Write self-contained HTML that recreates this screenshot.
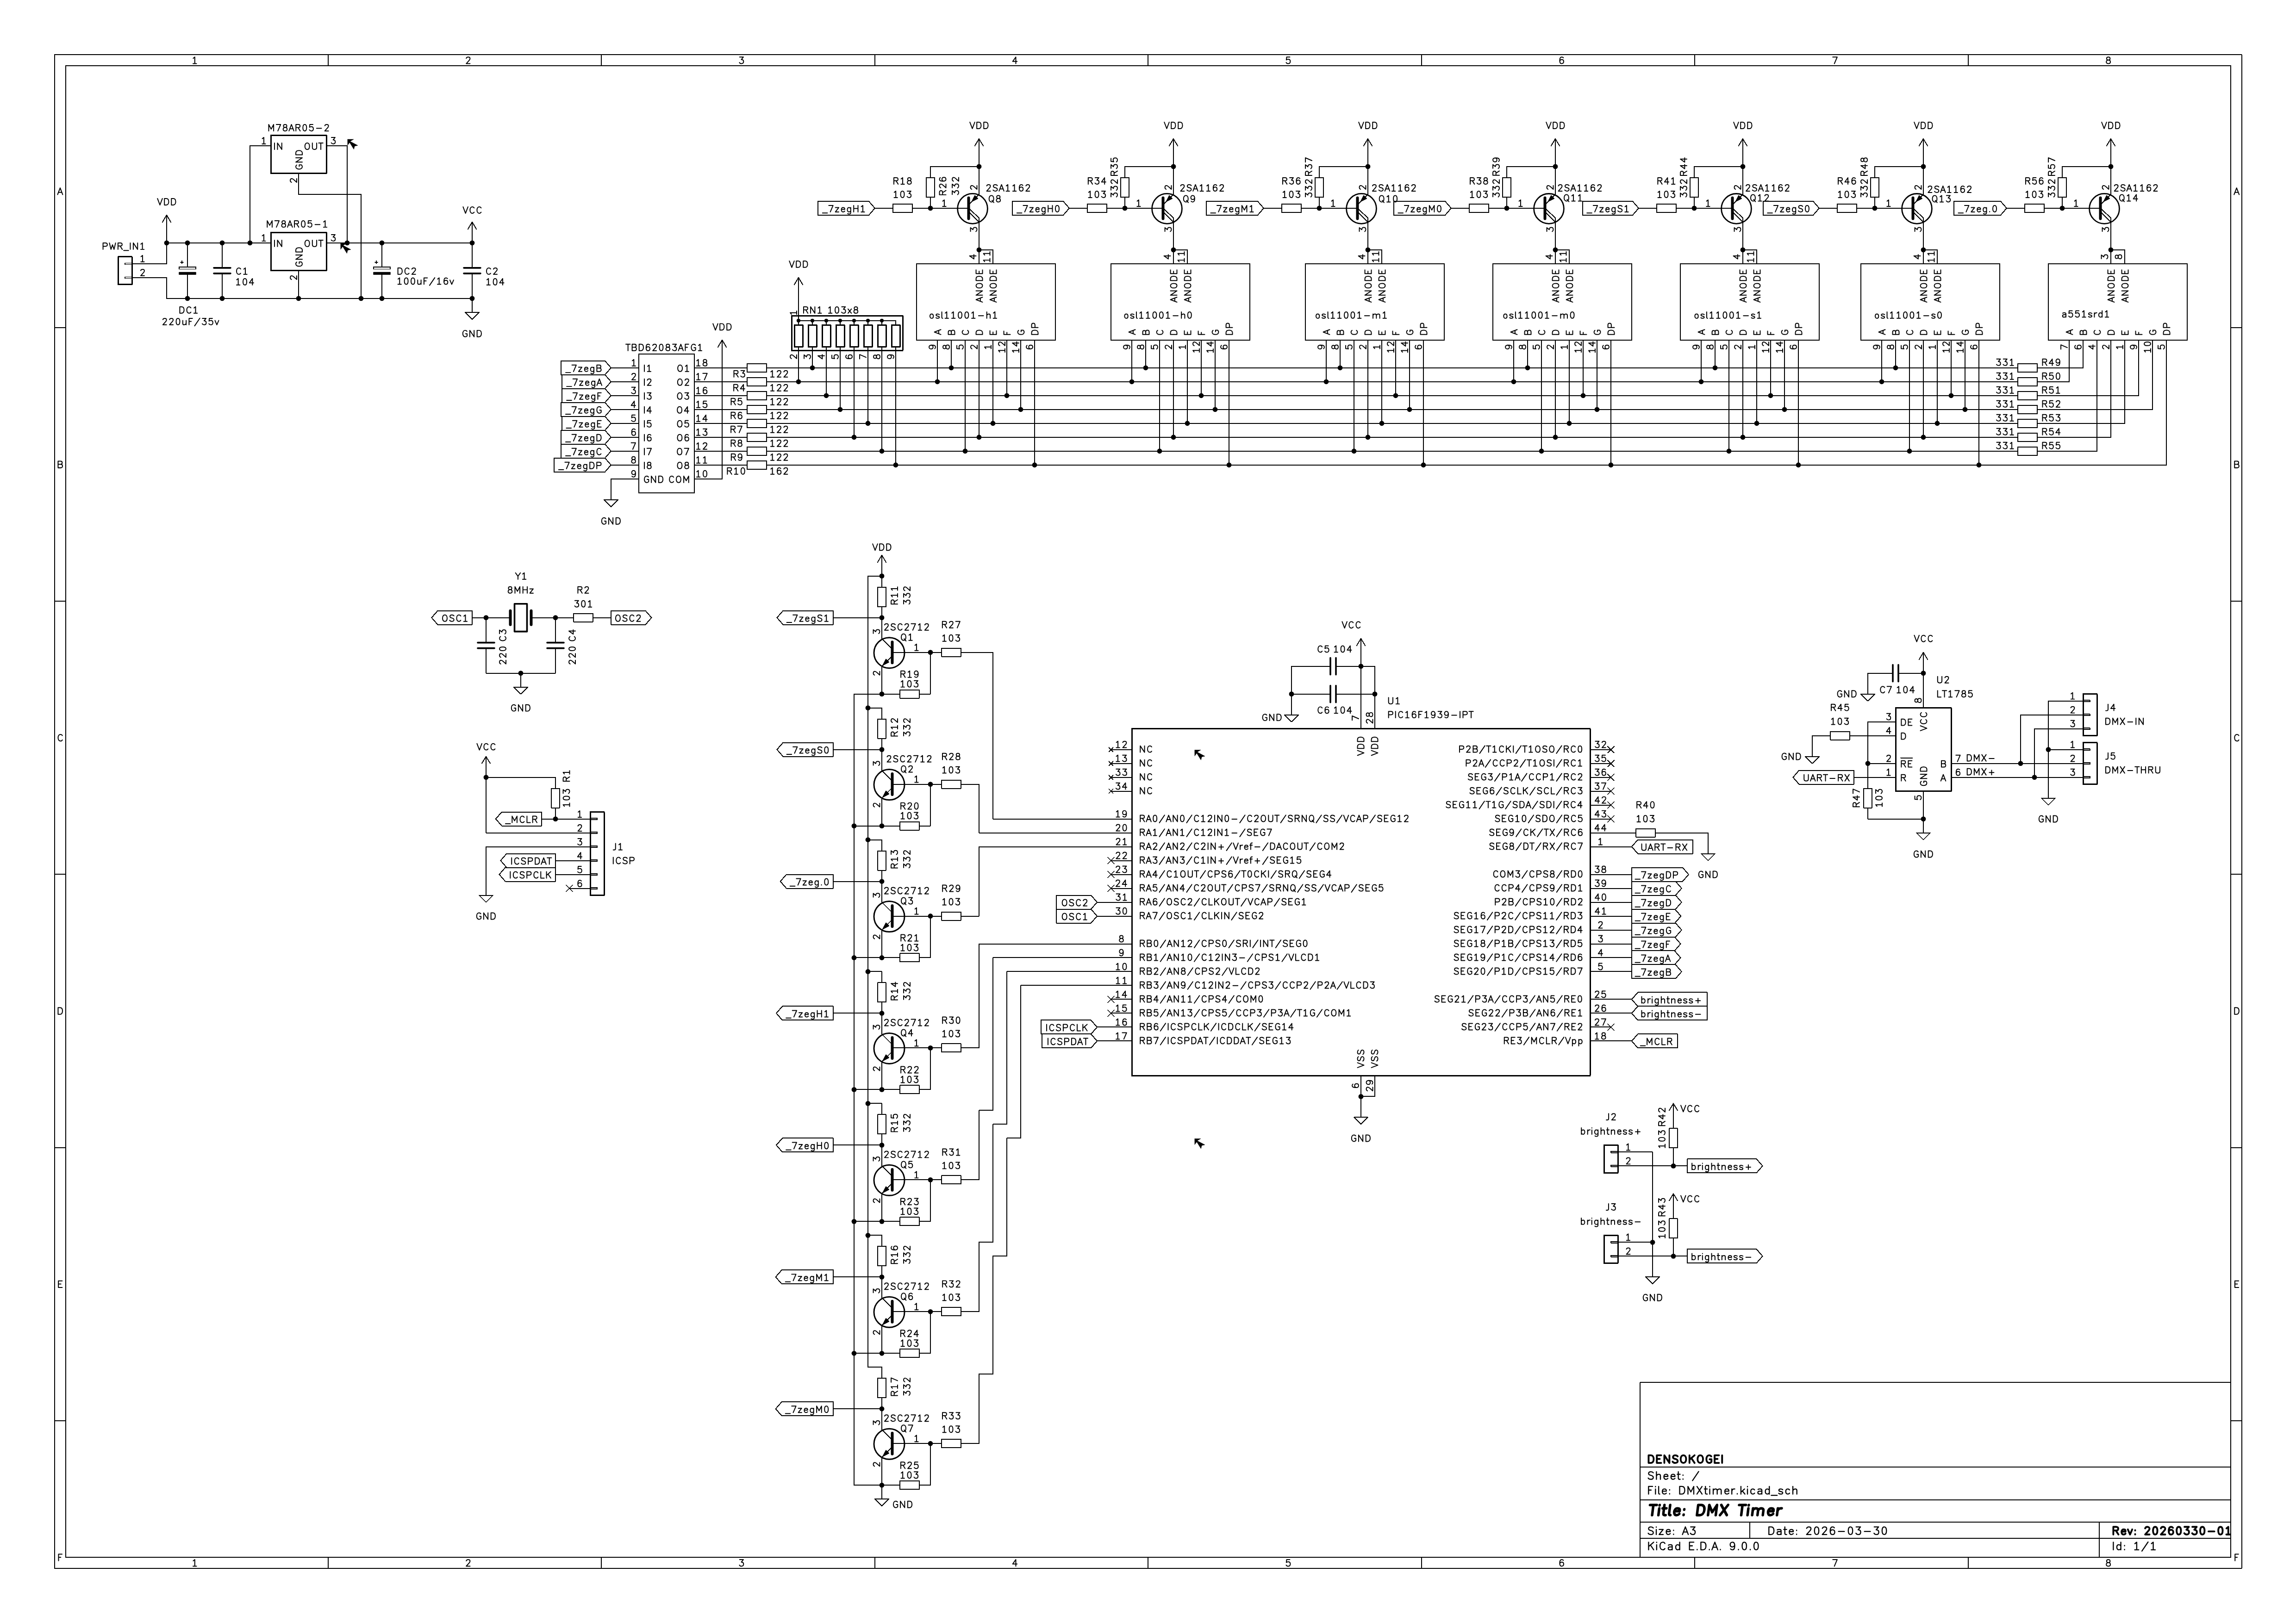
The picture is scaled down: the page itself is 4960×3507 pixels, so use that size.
<!DOCTYPE html><html><head><meta charset="utf-8"><title>DMX Timer</title><style>html,body{margin:0;padding:0;background:#fff}svg{display:block}</style></head><body>
<svg width="4960" height="3507" viewBox="0 0 4960 3507" shape-rendering="crispEdges">
<defs><path id="g41" d="M1.62 0L9.1 -19.64L16.58 0M4.42 -6.54L13.77 -6.54"/><path id="g42" d="M4.54 0L4.54 -19.64L12.02 -19.64C15.1 -19.64 16.69 -18.05 16.69 -15.15C16.69 -12.16 15.1 -10.47 12.02 -10.47L4.54 -10.47M12.02 -10.47C15.76 -10.47 17.63 -8.6 17.63 -5.24C17.63 -1.87 15.76 0 12.02 0L4.54 0"/><path id="g43" d="M17.16 -3.27C15.94 -1.12 14.17 0 12.02 0C7.34 0 4.54 -3.74 4.54 -9.82C4.54 -15.9 7.34 -19.64 12.02 -19.64C14.17 -19.64 15.94 -18.51 17.16 -16.36"/><path id="g44" d="M4.54 0L4.54 -19.64L10.15 -19.64C14.82 -19.64 17.63 -15.9 17.63 -9.82C17.63 -3.74 14.82 0 10.15 0Z"/><path id="g45" d="M15.68 0L4.46 0L4.46 -19.64L15.68 -19.64M4.46 -10.29L11.94 -10.29"/><path id="g46" d="M4.42 0L4.42 -19.64L14.71 -19.64M4.42 -10.29L10.97 -10.29"/><path id="g47" d="M17.16 -16.83C15.76 -18.7 14.17 -19.64 12.02 -19.64C7.34 -19.64 4.54 -15.9 4.54 -9.82C4.54 -3.74 7.34 0 12.02 0C14.36 0 16.23 -0.94 17.63 -2.81L17.63 -9.35L12.95 -9.35"/><path id="g48" d="M4.58 0L4.58 -19.64M17.67 0L17.67 -19.64M4.58 -10.29L17.67 -10.29"/><path id="g49" d="M4.55 0L4.55 -19.64"/><path id="g4a" d="M11.36 -19.64L11.36 -4.21C11.36 -1.4 9.96 0 7.62 0L4.35 0"/><path id="g4b" d="M4.54 0L4.54 -19.64M17.63 -19.64L4.54 -8.42M9.21 -12.44L17.63 0"/><path id="g4c" d="M4.39 -19.64L4.39 0L14.67 0"/><path id="g4d" d="M4.65 0L4.65 -19.64L12.13 -5.61L19.61 -19.64L19.61 0"/><path id="g4e" d="M4.58 0L4.58 -19.64L17.67 0L17.67 -19.64"/><path id="g4f" d="M11.12 -19.64C6.91 -19.64 4.11 -15.9 4.11 -9.82C4.11 -3.74 6.91 0 11.12 0C15.33 0 18.13 -3.74 18.13 -9.82C18.13 -15.9 15.33 -19.64 11.12 -19.64Z"/><path id="g50" d="M4.54 0L4.54 -19.64L12.02 -19.64C15.76 -19.64 17.63 -17.77 17.63 -14.49C17.63 -11.22 15.76 -9.35 12.02 -9.35L4.54 -9.35"/><path id="g51" d="M11.12 -19.64C6.91 -19.64 4.11 -15.9 4.11 -9.82C4.11 -3.74 6.91 0 11.12 0C15.33 0 18.13 -3.74 18.13 -9.82C18.13 -15.9 15.33 -19.64 11.12 -19.64ZM12.99 -4.68L18.6 1.87"/><path id="g52" d="M4.54 0L4.54 -19.64L12.02 -19.64C15.76 -19.64 17.16 -17.77 17.16 -14.96C17.16 -12.16 15.76 -10.29 12.02 -10.29L4.54 -10.29M11.08 -10.29L17.63 0"/><path id="g53" d="M16.66 -16.83C15.25 -18.7 13.38 -19.64 10.58 -19.64C6.84 -19.64 4.5 -17.77 4.5 -14.96C4.5 -12.16 6.37 -11.03 10.11 -10.29C14.32 -9.35 16.66 -7.95 16.66 -4.68C16.66 -1.87 14.32 0 10.58 0C7.3 0 4.97 -1.12 3.56 -3.27"/><path id="g54" d="M8.09 0L8.09 -19.64M1.54 -19.64L14.63 -19.64"/><path id="g55" d="M4.58 -19.64L4.58 -6.08C4.58 -1.87 6.91 0 11.12 0C15.33 0 17.67 -1.87 17.67 -6.08L17.67 -19.64"/><path id="g56" d="M1.62 -19.64L9.1 0L16.58 -19.64"/><path id="g57" d="M2.78 -19.64L7.46 0L12.13 -14.03L16.81 0L21.48 -19.64"/><path id="g58" d="M3.56 -19.64L16.66 0M16.66 -19.64L3.56 0"/><path id="g59" d="M1.62 -19.64L9.1 -9.35L16.58 -19.64M9.1 -9.35L9.1 0"/><path id="g5a" d="M3.56 -19.64L16.66 -19.64L3.56 0L16.66 0"/><path id="g30" d="M10.11 -19.64C6.37 -19.64 4.5 -15.9 4.5 -9.82C4.5 -3.74 6.37 0 10.11 0C13.85 0 15.72 -3.74 15.72 -9.82C15.72 -15.9 13.85 -19.64 10.11 -19.64Z"/><path id="g31" d="M5.43 -15.9L10.11 -19.64L10.11 0M4.97 0L15.25 0"/><path id="g32" d="M4.5 -15.9C5.43 -18.23 7.3 -19.64 10.11 -19.64C13.38 -19.64 15.72 -17.77 15.72 -14.96C15.72 -12.62 14.32 -10.75 11.98 -8.42L4.5 0L15.72 0"/><path id="g33" d="M4.5 -19.64L15.72 -19.64L9.64 -12.16C13.85 -12.16 16.19 -9.82 16.19 -6.08C16.19 -2.34 13.85 0 10.11 0C7.3 0 5.43 -0.94 4.03 -3.27"/><path id="g34" d="M12.91 0L12.91 -19.64L3.56 -6.54L16.66 -6.54"/><path id="g35" d="M14.79 -19.64L5.43 -19.64L4.5 -11.22C5.9 -12.44 7.77 -13.09 10.11 -13.09C13.85 -13.09 16.19 -10.75 16.19 -6.54C16.19 -2.34 13.85 0 10.11 0C7.3 0 5.43 -0.94 4.03 -3.27"/><path id="g36" d="M15.25 -17.3C14.32 -18.7 12.91 -19.64 10.58 -19.64C6.37 -19.64 4.5 -15.43 4.5 -9.35C4.5 -3.27 6.37 0 10.11 0C13.85 0 16.19 -2.34 16.19 -6.08C16.19 -9.82 13.85 -12.16 10.58 -12.16C7.3 -12.16 4.97 -9.82 4.5 -6.54"/><path id="g37" d="M3.56 -19.64L16.66 -19.64L8.24 0"/><path id="g38" d="M10.11 -19.64C6.84 -19.64 4.97 -17.77 4.97 -14.96C4.97 -12.62 6.84 -10.75 10.11 -10.75C13.38 -10.75 15.25 -12.62 15.25 -14.96C15.25 -17.77 13.38 -19.64 10.11 -19.64ZM10.11 -10.75C6.37 -10.75 4.03 -8.42 4.03 -5.14C4.03 -1.87 6.37 0 10.11 0C13.85 0 16.19 -1.87 16.19 -5.14C16.19 -8.42 13.85 -10.75 10.11 -10.75Z"/><path id="g39" d="M4.97 -2.34C5.9 -0.94 7.3 0 9.64 0C13.85 0 15.72 -4.21 15.72 -10.29C15.72 -16.36 13.85 -19.64 10.11 -19.64C6.37 -19.64 4.03 -17.3 4.03 -13.56C4.03 -9.82 6.37 -7.48 9.64 -7.48C12.91 -7.48 15.25 -9.82 15.72 -13.09"/><path id="g61" d="M14.75 0L14.75 -9.35C14.75 -11.87 13.34 -13.09 11.01 -13.09L8.67 -13.09C7.08 -13.09 5.86 -12.72 4.93 -11.97M14.75 -7.48L8.67 -7.48C5.86 -7.48 4.46 -6.08 4.46 -3.74C4.46 -1.4 5.86 0 8.67 0L10.54 0C12.41 0 13.81 -0.94 14.75 -2.34"/><path id="g62" d="M4.46 -19.64L4.46 0M4.46 -10.29C5.86 -12.16 7.73 -13.09 9.6 -13.09C12.88 -13.09 14.75 -10.29 14.75 -6.54C14.75 -2.81 12.88 0 9.6 0C7.73 0 5.86 -0.94 4.46 -2.81"/><path id="g63" d="M14.24 -10.75C13.03 -12.34 11.44 -13.09 9.57 -13.09C6.29 -13.09 4.42 -10.29 4.42 -6.54C4.42 -2.81 6.29 0 9.57 0C11.44 0 13.03 -0.75 14.24 -2.34"/><path id="g64" d="M14.75 -19.64L14.75 0M14.75 -10.29C13.34 -12.16 11.47 -13.09 9.6 -13.09C6.33 -13.09 4.46 -10.29 4.46 -6.54C4.46 -2.81 6.33 0 9.6 0C11.47 0 13.34 -0.94 14.75 -2.81"/><path id="g65" d="M4.42 -7.48L14.71 -7.48L14.71 -8.88C14.71 -11.69 12.84 -13.09 9.57 -13.09C6.29 -13.09 4.42 -10.29 4.42 -6.54C4.42 -2.81 6.29 0 9.57 0C11.72 0 13.31 -0.75 14.71 -2.34"/><path id="g66" d="M9.81 -19.64L8.4 -19.64C6.07 -19.64 5.13 -18.23 5.13 -15.9L5.13 0M2.33 -13.09L9.81 -13.09"/><path id="g67" d="M14.75 -13.09L14.75 1.87C14.75 5.14 12.88 6.54 9.6 6.54C7.73 6.54 6.33 6.08 5.4 5.14M14.75 -10.29C13.34 -12.16 11.47 -13.09 9.6 -13.09C6.33 -13.09 4.46 -10.29 4.46 -6.54C4.46 -2.81 6.33 0 9.6 0C11.47 0 13.34 -0.94 14.75 -2.81"/><path id="g68" d="M4.46 -19.64L4.46 0M4.46 -9.35C6.33 -12.16 8.2 -13.09 10.54 -13.09C13.34 -13.09 14.75 -11.69 14.75 -9.35L14.75 0"/><path id="g69" d="M4.04 -13.09L4.04 0M4.04 -18.7L4.04 -19.64"/><path id="g6b" d="M4.39 -19.64L4.39 0M13.74 -13.09L4.39 -4.68M8.13 -8.04L14.67 0"/><path id="g6c" d="M4.08 -19.64L4.08 -2.81C4.08 -0.94 5.02 0 6.89 0"/><path id="g6d" d="M4.88 -13.09L4.88 0M4.88 -9.35C6.75 -12.16 8.62 -13.09 10.49 -13.09C13.29 -13.09 15.16 -11.69 15.16 -9.35L15.16 0M15.16 -9.35C17.04 -12.16 18.91 -13.09 20.77 -13.09C23.58 -13.09 25.45 -11.69 25.45 -9.35L25.45 0"/><path id="g6e" d="M4.46 -13.09L4.46 0M4.46 -9.35C6.33 -12.16 8.2 -13.09 10.54 -13.09C13.34 -13.09 14.75 -11.69 14.75 -9.35L14.75 0"/><path id="g6f" d="M9.6 -13.09C6.33 -13.09 4.46 -10.29 4.46 -6.54C4.46 -2.81 6.33 0 9.6 0C12.88 0 14.75 -2.81 14.75 -6.54C14.75 -10.29 12.88 -13.09 9.6 -13.09Z"/><path id="g70" d="M4.46 -13.09L4.46 6.54M4.46 -10.29C5.86 -12.16 7.73 -13.09 9.6 -13.09C12.88 -13.09 14.75 -10.29 14.75 -6.54C14.75 -2.81 12.88 0 9.6 0C7.73 0 5.86 -0.94 4.46 -2.81"/><path id="g72" d="M4.23 -13.09L4.23 0M4.23 -7.48C5.17 -11.22 7.04 -13.09 9.84 -13.09L11.71 -13.09"/><path id="g73" d="M13.74 -11.22C12.33 -12.44 10.93 -13.09 8.59 -13.09C5.79 -13.09 3.92 -11.97 3.92 -9.82C3.92 -7.95 5.32 -7.2 8.13 -6.73C11.87 -6.08 13.74 -5.42 13.74 -3.27C13.74 -1.12 11.87 0 8.59 0C6.26 0 4.85 -0.65 3.45 -1.87"/><path id="g74" d="M5.13 -19.64L5.13 -3.27C5.13 -0.94 6.07 0 7.94 0L9.81 0M2.33 -13.09L9.81 -13.09"/><path id="g75" d="M4.46 -13.09L4.46 -3.74C4.46 -1.4 5.86 0 8.67 0C11.01 0 12.88 -0.94 14.75 -3.74M14.75 -13.09L14.75 0"/><path id="g76" d="M2.48 -13.09L8.09 0L13.7 -13.09"/><path id="g78" d="M3.45 -13.09L13.74 0M13.74 -13.09L3.45 0"/><path id="g7a" d="M3.45 -13.09L13.74 -13.09L3.45 0L13.74 0"/><path id="g2d" d="M5.66 -7.95L20.62 -7.95"/><path id="g2b" d="M6.13 -7.48L20.16 -7.48M13.14 -0.47L13.14 -14.49"/><path id="g2f" d="M3.17 3.27L19.07 -20.1"/><path id="g2e" d="M5.05 -0.19L5.05 -1.12"/><path id="g3a" d="M5.05 -0.19L5.05 -1.12M5.05 -10.29L5.05 -11.22"/><path id="g5f" d="M0.61 3.27L15.57 3.27"/></defs>
<rect width="4960" height="3507" fill="#fff"/>
<g>
<g stroke="#000" stroke-linejoin="round">
<path d="M118.11 118.08L4842.52 118.08L4842.52 3388.93L118.11 3388.93ZM141.73 141.7L4818.9 141.7L4818.9 3365.31L141.73 3365.31ZM708.66 118.08L708.66 141.7M708.66 3365.31L708.66 3388.93M1299.21 118.08L1299.21 141.7M1299.21 3365.31L1299.21 3388.93M1889.76 118.08L1889.76 141.7M1889.76 3365.31L1889.76 3388.93M2480.31 118.08L2480.31 141.7M2480.31 3365.31L2480.31 3388.93M3070.87 118.08L3070.87 141.7M3070.87 3365.31L3070.87 3388.93M3661.42 118.08L3661.42 141.7M3661.42 3365.31L3661.42 3388.93M4251.97 118.08L4251.97 141.7M4251.97 3365.31L4251.97 3388.93M118.11 708.49L141.73 708.49M4818.9 708.49L4842.52 708.49M118.11 1298.89L141.73 1298.89M4818.9 1298.89L4842.52 1298.89M118.11 1889.3L141.73 1889.3M4818.9 1889.3L4842.52 1889.3M118.11 2479.7L141.73 2479.7M4818.9 2479.7L4842.52 2479.7M118.11 3070.11L141.73 3070.11M4818.9 3070.11L4842.52 3070.11M4818.9 2987.45L3543.31 2987.45L3543.31 3365.31M3543.31 3170.48L4818.9 3170.48M3543.31 3241.33L4818.9 3241.33M3543.31 3288.56L4818.9 3288.56M3543.31 3323.99L4818.9 3323.99M3779.53 3288.56L3779.53 3323.99M4535.43 3288.56L4535.43 3365.31M285 569.86L330 569.86M285 599.85L330 599.85M330 569.86L360 569.86L360 524.87M330 599.85L360 599.85L360 644.84L1020 644.84M360 524.87L585 524.87M705 524.87L1020 524.87M360 524.87L360 464.89M351 479.88L360 464.89L369 479.88M1020 524.87L1020 479.88M1011 494.88L1020 479.88L1029 494.88M1020 644.84L1020 674.83M1005 674.83L1035 674.83L1020 689.83ZM405 554.86L405 576.76M405 592.95L405 614.85M405 524.87L405 554.86M405 614.85L405 644.84M480 554.86L480 578.86M480 590.85L480 614.85M480 524.87L480 554.86M480 614.85L480 644.84M825 554.86L825 576.76M825 592.95L825 614.85M825 524.87L825 554.86M825 614.85L825 644.84M1020 554.86L1020 578.86M1020 590.85L1020 614.85M1020 524.87L1020 554.86M1020 614.85L1020 644.84M540 524.87L540 314.92L585 314.92M705 314.92L750 314.92L750 524.87M645 374.91L645 419.9L780 419.9L780 644.84M645 584.86L645 644.84M1380 764.81L1500 764.81L1500 1064.74L1380 1064.74ZM1320 794.8L1306.9 779.81L1212.24 779.81L1212.24 809.8L1306.9 809.8ZM1320 794.8L1380 794.8M1500 794.8L1605 794.8M1614 785.81L1656 785.81L1656 803.8L1614 803.8ZM1605 794.8L1614 794.8M1656 794.8L1665 794.8M1320 824.8L1306.9 809.8L1214.4 809.8L1214.4 839.79L1306.9 839.79ZM1320 824.8L1380 824.8M1500 824.8L1605 824.8M1614 815.8L1656 815.8L1656 833.79L1614 833.79ZM1605 824.8L1614 824.8M1656 824.8L1665 824.8M1320 854.79L1306.9 839.79L1214.4 839.79L1214.4 869.79L1306.9 869.79ZM1320 854.79L1380 854.79M1500 854.79L1605 854.79M1614 845.79L1656 845.79L1656 863.79L1614 863.79ZM1605 854.79L1614 854.79M1656 854.79L1665 854.79M1320 884.78L1306.9 869.79L1212.24 869.79L1212.24 899.78L1306.9 899.78ZM1320 884.78L1380 884.78M1500 884.78L1605 884.78M1614 875.78L1656 875.78L1656 893.78L1614 893.78ZM1605 884.78L1614 884.78M1656 884.78L1665 884.78M1320 914.77L1306.9 899.78L1213.68 899.78L1213.68 929.77L1306.9 929.77ZM1320 914.77L1380 914.77M1500 914.77L1605 914.77M1614 905.78L1656 905.78L1656 923.77L1614 923.77ZM1605 914.77L1614 914.77M1656 914.77L1665 914.77M1320 944.77L1306.9 929.77L1212.24 929.77L1212.24 959.76L1306.9 959.76ZM1320 944.77L1380 944.77M1500 944.77L1605 944.77M1614 935.77L1656 935.77L1656 953.77L1614 953.77ZM1605 944.77L1614 944.77M1656 944.77L1665 944.77M1320 974.76L1306.9 959.76L1212.24 959.76L1212.24 989.76L1306.9 989.76ZM1320 974.76L1380 974.76M1500 974.76L1605 974.76M1614 965.76L1656 965.76L1656 983.76L1614 983.76ZM1605 974.76L1614 974.76M1656 974.76L1665 974.76M1320 1004.75L1306.9 989.76L1197.07 989.76L1197.07 1019.75L1306.9 1019.75ZM1320 1004.75L1380 1004.75M1500 1004.75L1605 1004.75M1614 995.75L1656 995.75L1656 1013.75L1614 1013.75ZM1605 1004.75L1614 1004.75M1656 1004.75L1665 1004.75M1380 1034.75L1320 1034.75L1320 1079.73M1320 1064.74L1320 1079.73M1305 1079.73L1335 1079.73L1320 1094.73ZM1500 1034.75L1560 1034.75L1560 764.81M1560 779.81L1560 734.82M1551 749.82L1560 734.82L1569 749.82M1725 749.82L1725 824.8M1755 749.82L1755 794.8M1785 749.82L1785 854.79M1815 749.82L1815 884.78M1845 749.82L1845 944.77M1875 749.82L1875 914.77M1905 749.82L1905 974.76M1935 749.82L1935 1004.75M1725 692.83L1725 599.85M1716 614.85L1725 599.85L1734 614.85M1665 794.8L4350 794.8M1665 824.8L4350 824.8M1665 854.79L4350 854.79M1665 884.78L4350 884.78M1665 914.77L4350 914.77M1665 944.77L4350 944.77M1665 974.76L4350 974.76M1665 1004.75L4680 1004.75M2115 389.9L2115 299.93M2106 314.92L2115 299.93L2124 314.92M2115 359.91L2010 359.91L2010 374.91M2001 383.91L2019 383.91L2019 425.9L2001 425.9ZM2010 374.91L2010 383.91M2010 425.9L2010 434.89M2010 434.89L2010 449.89M1890 449.89L1876.9 434.89L1767.07 434.89L1767.07 464.89L1876.9 464.89ZM1890 449.89L1920 449.89M1929 440.89L1971 440.89L1971 458.89L1929 458.89ZM1920 449.89L1929 449.89M1971 449.89L1980 449.89M1980 449.89L2025 449.89M2025 449.89L2092.5 449.89M2092.5 442.39L2115 419.9L2115 389.9M2092.5 449.89L2115 470.88L2115 479.88L2092.5 457.39M2115 479.88L2115 509.87M2115 509.87L2115 569.86M2115 539.87L2145 539.87L2145 569.86M1980 569.86L2280 569.86L2280 734.82L1980 734.82ZM2025 734.82L2025 824.8M2055 734.82L2055 794.8M2085 734.82L2085 974.76M2115 734.82L2115 944.77M2145 734.82L2145 914.77M2175 734.82L2175 854.79M2205 734.82L2205 884.78M2235 734.82L2235 1004.75M2535 389.9L2535 299.93M2526 314.92L2535 299.93L2544 314.92M2535 359.91L2430 359.91L2430 374.91M2421 383.91L2439 383.91L2439 425.9L2421 425.9ZM2430 374.91L2430 383.91M2430 425.9L2430 434.89M2430 434.89L2430 449.89M2310 449.89L2296.9 434.89L2187.07 434.89L2187.07 464.89L2296.9 464.89ZM2310 449.89L2340 449.89M2349 440.89L2391 440.89L2391 458.89L2349 458.89ZM2340 449.89L2349 449.89M2391 449.89L2400 449.89M2400 449.89L2445 449.89M2445 449.89L2512.5 449.89M2512.5 442.39L2535 419.9L2535 389.9M2512.5 449.89L2535 470.88L2535 479.88L2512.5 457.39M2535 479.88L2535 509.87M2535 509.87L2535 569.86M2535 539.87L2565 539.87L2565 569.86M2400 569.86L2700 569.86L2700 734.82L2400 734.82ZM2445 734.82L2445 824.8M2475 734.82L2475 794.8M2505 734.82L2505 974.76M2535 734.82L2535 944.77M2565 734.82L2565 914.77M2595 734.82L2595 854.79M2625 734.82L2625 884.78M2655 734.82L2655 1004.75M2955 389.9L2955 299.93M2946 314.92L2955 299.93L2964 314.92M2955 359.91L2850 359.91L2850 374.91M2841 383.91L2859 383.91L2859 425.9L2841 425.9ZM2850 374.91L2850 383.91M2850 425.9L2850 434.89M2850 434.89L2850 449.89M2730 449.89L2716.9 434.89L2605.63 434.89L2605.63 464.89L2716.9 464.89ZM2730 449.89L2760 449.89M2769 440.89L2811 440.89L2811 458.89L2769 458.89ZM2760 449.89L2769 449.89M2811 449.89L2820 449.89M2820 449.89L2865 449.89M2865 449.89L2932.5 449.89M2932.5 442.39L2955 419.9L2955 389.9M2932.5 449.89L2955 470.88L2955 479.88L2932.5 457.39M2955 479.88L2955 509.87M2955 509.87L2955 569.86M2955 539.87L2985 539.87L2985 569.86M2820 569.86L3120 569.86L3120 734.82L2820 734.82ZM2865 734.82L2865 824.8M2895 734.82L2895 794.8M2925 734.82L2925 974.76M2955 734.82L2955 944.77M2985 734.82L2985 914.77M3015 734.82L3015 854.79M3045 734.82L3045 884.78M3075 734.82L3075 1004.75M3360 389.9L3360 299.93M3351 314.92L3360 299.93L3369 314.92M3360 359.91L3255 359.91L3255 374.91M3246 383.91L3264 383.91L3264 425.9L3246 425.9ZM3255 374.91L3255 383.91M3255 425.9L3255 434.89M3255 434.89L3255 449.89M3135 449.89L3121.9 434.89L3010.63 434.89L3010.63 464.89L3121.9 464.89ZM3135 449.89L3165 449.89M3174 440.89L3216 440.89L3216 458.89L3174 458.89ZM3165 449.89L3174 449.89M3216 449.89L3225 449.89M3225 449.89L3270 449.89M3270 449.89L3337.5 449.89M3337.5 442.39L3360 419.9L3360 389.9M3337.5 449.89L3360 470.88L3360 479.88L3337.5 457.39M3360 479.88L3360 509.87M3360 509.87L3360 569.86M3360 539.87L3390 539.87L3390 569.86M3225 569.86L3525 569.86L3525 734.82L3225 734.82ZM3270 734.82L3270 824.8M3300 734.82L3300 794.8M3330 734.82L3330 974.76M3360 734.82L3360 944.77M3390 734.82L3390 914.77M3420 734.82L3420 854.79M3450 734.82L3450 884.78M3480 734.82L3480 1004.75M3765 389.9L3765 299.93M3756 314.92L3765 299.93L3774 314.92M3765 359.91L3660 359.91L3660 374.91M3651 383.91L3669 383.91L3669 425.9L3651 425.9ZM3660 374.91L3660 383.91M3660 425.9L3660 434.89M3660 434.89L3660 449.89M3540 449.89L3526.9 434.89L3418.51 434.89L3418.51 464.89L3526.9 464.89ZM3540 449.89L3570 449.89M3579 440.89L3621 440.89L3621 458.89L3579 458.89ZM3570 449.89L3579 449.89M3621 449.89L3630 449.89M3630 449.89L3675 449.89M3675 449.89L3742.5 449.89M3742.5 442.39L3765 419.9L3765 389.9M3742.5 449.89L3765 470.88L3765 479.88L3742.5 457.39M3765 479.88L3765 509.87M3765 509.87L3765 569.86M3765 539.87L3795 539.87L3795 569.86M3630 569.86L3930 569.86L3930 734.82L3630 734.82ZM3675 734.82L3675 824.8M3705 734.82L3705 794.8M3735 734.82L3735 974.76M3765 734.82L3765 944.77M3795 734.82L3795 914.77M3825 734.82L3825 854.79M3855 734.82L3855 884.78M3885 734.82L3885 1004.75M4155 389.9L4155 299.93M4146 314.92L4155 299.93L4164 314.92M4155 359.91L4050 359.91L4050 374.91M4041 383.91L4059 383.91L4059 425.9L4041 425.9ZM4050 374.91L4050 383.91M4050 425.9L4050 434.89M4050 434.89L4050 449.89M3930 449.89L3916.9 434.89L3808.51 434.89L3808.51 464.89L3916.9 464.89ZM3930 449.89L3960 449.89M3969 440.89L4011 440.89L4011 458.89L3969 458.89ZM3960 449.89L3969 449.89M4011 449.89L4020 449.89M4020 449.89L4065 449.89M4065 449.89L4132.5 449.89M4132.5 442.39L4155 419.9L4155 389.9M4132.5 449.89L4155 470.88L4155 479.88L4132.5 457.39M4155 479.88L4155 509.87M4155 509.87L4155 569.86M4155 539.87L4185 539.87L4185 569.86M4020 569.86L4320 569.86L4320 734.82L4020 734.82ZM4065 734.82L4065 824.8M4095 734.82L4095 794.8M4125 734.82L4125 974.76M4155 734.82L4155 944.77M4185 734.82L4185 914.77M4215 734.82L4215 854.79M4245 734.82L4245 884.78M4275 734.82L4275 1004.75M4560 389.9L4560 299.93M4551 314.92L4560 299.93L4569 314.92M4560 359.91L4455 359.91L4455 374.91M4446 383.91L4464 383.91L4464 425.9L4446 425.9ZM4455 374.91L4455 383.91M4455 425.9L4455 434.89M4455 434.89L4455 449.89M4335 449.89L4321.9 434.89L4220.74 434.89L4220.74 464.89L4321.9 464.89ZM4335 449.89L4365 449.89M4374 440.89L4416 440.89L4416 458.89L4374 458.89ZM4365 449.89L4374 449.89M4416 449.89L4425 449.89M4425 449.89L4470 449.89M4470 449.89L4537.5 449.89M4537.5 442.39L4560 419.9L4560 389.9M4537.5 449.89L4560 470.88L4560 479.88L4537.5 457.39M4560 479.88L4560 509.87M4560 509.87L4560 569.86M4560 539.87L4590 539.87L4590 569.86M4425 569.86L4725 569.86L4725 734.82L4425 734.82ZM4359 785.81L4401 785.81L4401 803.8L4359 803.8ZM4350 794.8L4359 794.8M4401 794.8L4410 794.8M4410 794.8L4500 794.8L4500 734.82M4359 815.8L4401 815.8L4401 833.79L4359 833.79ZM4350 824.8L4359 824.8M4401 824.8L4410 824.8M4410 824.8L4470 824.8L4470 734.82M4359 845.79L4401 845.79L4401 863.79L4359 863.79ZM4350 854.79L4359 854.79M4401 854.79L4410 854.79M4410 854.79L4620 854.79L4620 734.82M4359 875.78L4401 875.78L4401 893.78L4359 893.78ZM4350 884.78L4359 884.78M4401 884.78L4410 884.78M4410 884.78L4650 884.78L4650 734.82M4359 905.78L4401 905.78L4401 923.77L4359 923.77ZM4350 914.77L4359 914.77M4401 914.77L4410 914.77M4410 914.77L4590 914.77L4590 734.82M4359 935.77L4401 935.77L4401 953.77L4359 953.77ZM4350 944.77L4359 944.77M4401 944.77L4410 944.77M4410 944.77L4560 944.77L4560 734.82M4359 965.76L4401 965.76L4401 983.76L4359 983.76ZM4350 974.76L4359 974.76M4401 974.76L4410 974.76M4410 974.76L4530 974.76L4530 734.82M4680 1004.75L4680 734.82M1020 1319.68L945.56 1319.68L932.46 1334.67L945.56 1349.67L1020 1349.67ZM1020 1334.67L1102.5 1334.67M1147.5 1334.67L1230 1334.67M1239 1325.67L1281 1325.67L1281 1343.67L1239 1343.67ZM1230 1334.67L1239 1334.67M1281 1334.67L1290 1334.67M1290 1334.67L1320 1334.67M1320 1319.68L1394.44 1319.68L1407.54 1334.67L1394.44 1349.67L1320 1349.67ZM1050 1334.67L1050 1364.66M1050 1364.66L1050 1388.66M1050 1400.66L1050 1424.65M1050 1424.65L1050 1454.64M1200 1334.67L1200 1364.66M1200 1364.66L1200 1388.66M1200 1400.66L1200 1424.65M1200 1424.65L1200 1454.64M1050 1454.64L1200 1454.64M1125 1454.64L1125 1484.63M1110 1484.63L1140 1484.63L1125 1499.63ZM1050 1679.59L1050 1634.6M1041 1649.59L1050 1634.6L1059 1649.59M1050 1679.59L1200 1679.59L1200 1694.58M1191 1703.58L1209 1703.58L1209 1745.57L1191 1745.57ZM1200 1694.58L1200 1703.58M1200 1745.57L1200 1754.57M1200 1754.57L1200 1769.56M1170 1754.57L1084.01 1754.57L1070.91 1769.56L1084.01 1784.56L1170 1784.56ZM1170 1769.56L1275 1769.56M1050 1679.59L1050 1799.56L1275 1799.56M1275 1829.55L1050 1829.55L1050 1934.52M1050 1919.53L1050 1934.52M1035 1934.52L1065 1934.52L1050 1949.52ZM1200 1844.55L1094.51 1844.55L1081.41 1859.54L1094.51 1874.54L1200 1874.54ZM1200 1859.54L1275 1859.54M1200 1874.54L1091.62 1874.54L1078.52 1889.54L1091.62 1904.53L1200 1904.53ZM1200 1889.54L1275 1889.54M1230 1919.53L1275 1919.53M1223 1912.53L1237 1926.53M1223 1926.53L1237 1912.53M1905 1259.69L1905 1199.7M1896 1214.7L1905 1199.7L1914 1214.7M1905 1244.69L1875 1244.69L1875 2954.27L1905 2954.27L1905 2969.27M1905 1499.63L1845 1499.63L1845 3209.21L1905 3209.21M1896 1268.69L1914 1268.69L1914 1310.68L1896 1310.68ZM1905 1259.69L1905 1268.69M1905 1310.68L1905 1319.68M1905 1319.68L1905 1349.67M1800 1319.68L1691.61 1319.68L1678.51 1334.67L1691.61 1349.67L1800 1349.67ZM1800 1334.67L1905 1334.67M1995 1409.65L1927.5 1409.65M1927.5 1402.15L1905 1379.66L1905 1349.67M1927.5 1417.15L1905 1439.65L1905 1469.64M1905 1469.64L1905 1499.63M1905 1499.63L1935 1499.63M1944 1490.63L1986 1490.63L1986 1508.63L1944 1508.63ZM1935 1499.63L1944 1499.63M1986 1499.63L1995 1499.63M1995 1499.63L2010 1499.63L2010 1409.65M1995 1409.65L2025 1409.65M2034 1400.66L2076 1400.66L2076 1418.65L2034 1418.65ZM2025 1409.65L2034 1409.65M2076 1409.65L2085 1409.65M1896 1553.62L1914 1553.62L1914 1595.61L1896 1595.61ZM1905 1544.62L1905 1553.62M1905 1595.61L1905 1604.61M1875 1529.62L1905 1529.62L1905 1544.62M1905 1604.61L1905 1634.6M1800 1604.61L1691.61 1604.61L1678.51 1619.6L1691.61 1634.6L1800 1634.6ZM1800 1619.6L1905 1619.6M1995 1694.58L1927.5 1694.58M1927.5 1687.08L1905 1664.59L1905 1634.6M1927.5 1702.08L1905 1724.58L1905 1754.57M1905 1754.57L1905 1784.56M1845 1784.56L1905 1784.56M1905 1784.56L1935 1784.56M1944 1775.56L1986 1775.56L1986 1793.56L1944 1793.56ZM1935 1784.56L1944 1784.56M1986 1784.56L1995 1784.56M1995 1784.56L2010 1784.56L2010 1694.58M1995 1694.58L2025 1694.58M2034 1685.59L2076 1685.59L2076 1703.58L2034 1703.58ZM2025 1694.58L2034 1694.58M2076 1694.58L2085 1694.58M1896 1838.55L1914 1838.55L1914 1880.54L1896 1880.54ZM1905 1829.55L1905 1838.55M1905 1880.54L1905 1889.54M1875 1814.55L1905 1814.55L1905 1829.55M1905 1889.54L1905 1919.53M1800 1889.54L1698.84 1889.54L1685.74 1904.53L1698.84 1919.53L1800 1919.53ZM1800 1904.53L1905 1904.53M1995 1979.51L1927.5 1979.51M1927.5 1972.01L1905 1949.52L1905 1919.53M1927.5 1987.01L1905 2009.51L1905 2039.5M1905 2039.5L1905 2069.49M1845 2069.49L1905 2069.49M1905 2069.49L1935 2069.49M1944 2060.49L1986 2060.49L1986 2078.49L1944 2078.49ZM1935 2069.49L1944 2069.49M1986 2069.49L1995 2069.49M1995 2069.49L2010 2069.49L2010 1979.51M1995 1979.51L2025 1979.51M2034 1970.52L2076 1970.52L2076 1988.51L2034 1988.51ZM2025 1979.51L2034 1979.51M2076 1979.51L2085 1979.51M1896 2123.48L1914 2123.48L1914 2165.47L1896 2165.47ZM1905 2114.48L1905 2123.48M1905 2165.47L1905 2174.46M1875 2099.48L1905 2099.48L1905 2114.48M1905 2174.46L1905 2204.46M1800 2174.46L1690.17 2174.46L1677.07 2189.46L1690.17 2204.46L1800 2204.46ZM1800 2189.46L1905 2189.46M1995 2264.44L1927.5 2264.44M1927.5 2256.94L1905 2234.45L1905 2204.46M1927.5 2271.94L1905 2294.44L1905 2324.43M1905 2324.43L1905 2354.42M1845 2354.42L1905 2354.42M1905 2354.42L1935 2354.42M1944 2345.42L1986 2345.42L1986 2363.42L1944 2363.42ZM1935 2354.42L1944 2354.42M1986 2354.42L1995 2354.42M1995 2354.42L2010 2354.42L2010 2264.44M1995 2264.44L2025 2264.44M2034 2255.45L2076 2255.45L2076 2273.44L2034 2273.44ZM2025 2264.44L2034 2264.44M2076 2264.44L2085 2264.44M1896 2408.41L1914 2408.41L1914 2450.4L1896 2450.4ZM1905 2399.41L1905 2408.41M1905 2450.4L1905 2459.39M1875 2384.41L1905 2384.41L1905 2399.41M1905 2459.39L1905 2489.39M1800 2459.39L1690.17 2459.39L1677.07 2474.39L1690.17 2489.39L1800 2489.39ZM1800 2474.39L1905 2474.39M1995 2549.37L1927.5 2549.37M1927.5 2541.87L1905 2519.38L1905 2489.39M1927.5 2556.87L1905 2579.37L1905 2609.36M1905 2609.36L1905 2639.35M1845 2639.35L1905 2639.35M1905 2639.35L1935 2639.35M1944 2630.35L1986 2630.35L1986 2648.35L1944 2648.35ZM1935 2639.35L1944 2639.35M1986 2639.35L1995 2639.35M1995 2639.35L2010 2639.35L2010 2549.37M1995 2549.37L2025 2549.37M2034 2540.37L2076 2540.37L2076 2558.37L2034 2558.37ZM2025 2549.37L2034 2549.37M2076 2549.37L2085 2549.37M1896 2693.34L1914 2693.34L1914 2735.33L1896 2735.33ZM1905 2684.34L1905 2693.34M1905 2735.33L1905 2744.32M1875 2669.34L1905 2669.34L1905 2684.34M1905 2744.32L1905 2774.32M1800 2744.32L1688.73 2744.32L1675.63 2759.32L1688.73 2774.32L1800 2774.32ZM1800 2759.32L1905 2759.32M1995 2834.3L1927.5 2834.3M1927.5 2826.8L1905 2804.31L1905 2774.32M1927.5 2841.8L1905 2864.3L1905 2894.29M1905 2894.29L1905 2924.28M1845 2924.28L1905 2924.28M1905 2924.28L1935 2924.28M1944 2915.28L1986 2915.28L1986 2933.28L1944 2933.28ZM1935 2924.28L1944 2924.28M1986 2924.28L1995 2924.28M1995 2924.28L2010 2924.28L2010 2834.3M1995 2834.3L2025 2834.3M2034 2825.3L2076 2825.3L2076 2843.3L2034 2843.3ZM2025 2834.3L2034 2834.3M2076 2834.3L2085 2834.3M1896 2978.27L1914 2978.27L1914 3020.26L1896 3020.26ZM1905 2969.27L1905 2978.27M1905 3020.26L1905 3029.25M1905 3029.25L1905 3059.25M1800 3029.25L1688.73 3029.25L1675.63 3044.25L1688.73 3059.25L1800 3059.25ZM1800 3044.25L1905 3044.25M1995 3119.23L1927.5 3119.23M1927.5 3111.73L1905 3089.24L1905 3059.25M1927.5 3126.73L1905 3149.23L1905 3179.22M1905 3179.22L1905 3209.21M1905 3209.21L1935 3209.21M1944 3200.21L1986 3200.21L1986 3218.21L1944 3218.21ZM1935 3209.21L1944 3209.21M1986 3209.21L1995 3209.21M1995 3209.21L2010 3209.21L2010 3119.23M1995 3119.23L2025 3119.23M2034 3110.23L2076 3110.23L2076 3128.23L2034 3128.23ZM2025 3119.23L2034 3119.23M2076 3119.23L2085 3119.23M1905 3209.21L1905 3239.2M1890 3239.2L1920 3239.2L1905 3254.2ZM2085 1409.65L2145 1409.65L2145 1769.56L2400 1769.56M2085 1694.58L2115 1694.58L2115 1799.56L2400 1799.56M2085 1979.51L2115 1979.51L2115 1829.55L2400 1829.55M2085 2264.44L2115 2264.44L2115 2039.5L2400 2039.5M2085 2549.37L2115 2549.37L2115 2399.41L2145 2399.41L2145 2069.49L2400 2069.49M2085 2834.3L2115 2834.3L2115 2684.34L2145 2684.34L2145 2429.4L2175 2429.4L2175 2099.48L2400 2099.48M2085 3119.23L2115 3119.23L2115 2969.27L2145 2969.27L2145 2714.33L2175 2714.33L2175 2459.39L2205 2459.39L2205 2129.48L2400 2129.48M2400 1619.6L2445 1619.6M2395.5 1615.1L2404.5 1624.1M2395.5 1624.1L2404.5 1615.1M2400 1649.59L2445 1649.59M2395.5 1645.1L2404.5 1654.09M2395.5 1654.09L2404.5 1645.1M2400 1679.59L2445 1679.59M2395.5 1675.09L2404.5 1684.09M2395.5 1684.09L2404.5 1675.09M2400 1709.58L2445 1709.58M2395.5 1705.08L2404.5 1714.08M2395.5 1714.08L2404.5 1705.08M2400 1769.56L2445 1769.56M2400 1799.56L2445 1799.56M2400 1829.55L2445 1829.55M2400 1859.54L2445 1859.54M2393 1852.54L2407 1866.54M2393 1866.54L2407 1852.54M2400 1889.54L2445 1889.54M2393 1882.54L2407 1896.53M2393 1896.53L2407 1882.54M2400 1919.53L2445 1919.53M2393 1912.53L2407 1926.53M2393 1926.53L2407 1912.53M2400 1949.52L2445 1949.52M2370 1949.52L2400 1949.52M2370 1949.52L2356.9 1934.52L2282.46 1934.52L2282.46 1964.52L2356.9 1964.52ZM2400 1979.51L2445 1979.51M2370 1979.51L2400 1979.51M2370 1979.51L2356.9 1964.52L2282.46 1964.52L2282.46 1994.51L2356.9 1994.51ZM2400 2039.5L2445 2039.5M2400 2069.49L2445 2069.49M2400 2099.48L2445 2099.48M2400 2129.48L2445 2129.48M2400 2159.47L2445 2159.47M2393 2152.47L2407 2166.47M2393 2166.47L2407 2152.47M2400 2189.46L2445 2189.46M2393 2182.46L2407 2196.46M2393 2196.46L2407 2182.46M2400 2219.45L2445 2219.45M2370 2219.45L2400 2219.45M2370 2219.45L2356.9 2204.46L2248.52 2204.46L2248.52 2234.45L2356.9 2234.45ZM2400 2249.45L2445 2249.45M2370 2249.45L2400 2249.45M2370 2249.45L2356.9 2234.45L2251.41 2234.45L2251.41 2264.44L2356.9 2264.44ZM3435 1619.6L3480 1619.6M3473 1612.6L3487 1626.6M3473 1626.6L3487 1612.6M3435 1649.59L3480 1649.59M3473 1642.6L3487 1656.59M3473 1656.59L3487 1642.6M3435 1679.59L3480 1679.59M3473 1672.59L3487 1686.58M3473 1686.58L3487 1672.59M3435 1709.58L3480 1709.58M3473 1702.58L3487 1716.58M3473 1716.58L3487 1702.58M3435 1739.57L3480 1739.57M3473 1732.57L3487 1746.57M3473 1746.57L3487 1732.57M3435 1769.56L3480 1769.56M3473 1762.57L3487 1776.56M3473 1776.56L3487 1762.57M3435 1799.56L3480 1799.56M3435 1829.55L3480 1829.55M3480 1829.55L3525 1829.55M3525 1829.55L3538.1 1814.55L3656.59 1814.55L3656.59 1844.55L3538.1 1844.55ZM3435 1889.54L3480 1889.54M3480 1889.54L3525 1889.54M3525 1874.54L3634.83 1874.54L3647.93 1889.54L3634.83 1904.53L3525 1904.53ZM3435 1919.53L3480 1919.53M3480 1919.53L3525 1919.53M3525 1904.53L3619.66 1904.53L3632.76 1919.53L3619.66 1934.52L3525 1934.52ZM3435 1949.52L3480 1949.52M3480 1949.52L3525 1949.52M3525 1934.52L3619.66 1934.52L3632.76 1949.52L3619.66 1964.52L3525 1964.52ZM3435 1979.51L3480 1979.51M3480 1979.51L3525 1979.51M3525 1964.52L3618.22 1964.52L3631.32 1979.51L3618.22 1994.51L3525 1994.51ZM3435 2009.51L3480 2009.51M3480 2009.51L3525 2009.51M3525 1994.51L3619.66 1994.51L3632.76 2009.51L3619.66 2024.5L3525 2024.5ZM3435 2039.5L3480 2039.5M3480 2039.5L3525 2039.5M3525 2024.5L3617.5 2024.5L3630.6 2039.5L3617.5 2054.49L3525 2054.49ZM3435 2069.49L3480 2069.49M3480 2069.49L3525 2069.49M3525 2054.49L3617.5 2054.49L3630.6 2069.49L3617.5 2084.49L3525 2084.49ZM3435 2099.48L3480 2099.48M3480 2099.48L3525 2099.48M3525 2084.49L3619.66 2084.49L3632.76 2099.48L3619.66 2114.48L3525 2114.48ZM3435 2159.47L3480 2159.47M3480 2159.47L3525 2159.47M3525 2159.47L3538.1 2144.47L3687.65 2144.47L3687.65 2174.46L3538.1 2174.46ZM3435 2189.46L3480 2189.46M3480 2189.46L3525 2189.46M3525 2189.46L3538.1 2174.46L3687.65 2174.46L3687.65 2204.46L3538.1 2204.46ZM3435 2219.45L3480 2219.45M3473 2212.46L3487 2226.45M3473 2226.45L3487 2212.46M3435 2249.45L3480 2249.45M3480 2249.45L3525 2249.45M3525 2249.45L3538.1 2234.45L3624.09 2234.45L3624.09 2264.44L3538.1 2264.44ZM3480 1799.56L3525 1799.56M3534 1790.56L3576 1790.56L3576 1808.55L3534 1808.55ZM3525 1799.56L3534 1799.56M3576 1799.56L3585 1799.56M3585 1799.56L3690 1799.56L3690 1844.55M3690 1829.55L3690 1844.55M3675 1844.55L3705 1844.55L3690 1859.54ZM2940 1574.61L2940 1379.66M2931 1394.66L2940 1379.66L2949 1394.66M2940 1439.65L2970 1439.65L2970 1574.61M2940 1439.65L2910 1439.65M2850 1439.65L2874 1439.65M2886 1439.65L2910 1439.65M2850 1439.65L2790 1439.65L2790 1544.62M2790 1499.63L2850 1499.63M2850 1499.63L2874 1499.63M2886 1499.63L2910 1499.63M2910 1499.63L2970 1499.63M2790 1529.62L2790 1544.62M2775 1544.62L2805 1544.62L2790 1559.62ZM2940 2324.43L2940 2414.41M2970 2324.43L2970 2369.42L2940 2369.42M2940 2399.41L2940 2414.41M2925 2414.41L2955 2414.41L2940 2429.4ZM4155 1529.62L4155 1409.65M4146 1424.65L4155 1409.65L4164 1424.65M4155 1454.64L4125 1454.64M4065 1454.64L4089 1454.64M4101 1454.64L4125 1454.64M4065 1454.64L4035 1454.64L4035 1499.63M4035 1484.63L4035 1499.63M4020 1499.63L4050 1499.63L4035 1514.63ZM4065 1559.62L4095 1559.62M4065 1589.61L4095 1589.61M4065 1649.59L4095 1649.59M4065 1679.59L4095 1679.59M4215 1649.59L4245 1649.59M4215 1679.59L4245 1679.59M4065 1559.62L4035 1559.62L4035 1694.58M4035 1649.59L4065 1649.59M4026 1703.58L4044 1703.58L4044 1745.57L4026 1745.57ZM4035 1694.58L4035 1703.58M4035 1745.57L4035 1754.57M4035 1754.57L4035 1769.56L4155 1769.56M4155 1709.58L4155 1799.56M4155 1784.56L4155 1799.56M4140 1799.56L4170 1799.56L4155 1814.55ZM4065 1589.61L4005 1589.61M3954 1580.61L3996 1580.61L3996 1598.61L3954 1598.61ZM3945 1589.61L3954 1589.61M3996 1589.61L4005 1589.61M3945 1589.61L3915 1589.61L3915 1634.6M3915 1619.6L3915 1634.6M3900 1634.6L3930 1634.6L3915 1649.59ZM4005 1664.59L3886.51 1664.59L3873.41 1679.59L3886.51 1694.58L4005 1694.58ZM4005 1679.59L4065 1679.59M4455 1514.63L4500 1514.63M4455 1544.62L4500 1544.62M4455 1574.61L4500 1574.61M4455 1619.6L4500 1619.6M4455 1649.59L4500 1649.59M4455 1679.59L4500 1679.59M4455 1514.63L4425 1514.63L4425 1724.58M4425 1619.6L4455 1619.6M4425 1709.58L4425 1724.58M4410 1724.58L4440 1724.58L4425 1739.57ZM4455 1544.62L4365 1544.62L4365 1649.59M4455 1574.61L4395 1574.61L4395 1679.59M4245 1649.59L4455 1649.59M4245 1679.59L4455 1679.59M3495 2489.39L3540 2489.39M3495 2519.38L3540 2519.38M3540 2519.38L3645 2519.38M3645 2504.38L3794.55 2504.38L3807.65 2519.38L3794.55 2534.38L3645 2534.38ZM3606 2438.4L3624 2438.4L3624 2480.39L3606 2480.39ZM3615 2429.4L3615 2438.4M3615 2480.39L3615 2489.39M3615 2489.39L3615 2519.38M3615 2429.4L3615 2384.41M3606 2399.41L3615 2384.41L3624 2399.41M3495 2684.34L3540 2684.34M3495 2714.33L3540 2714.33M3540 2714.33L3645 2714.33M3645 2699.34L3794.55 2699.34L3807.65 2714.33L3794.55 2729.33L3645 2729.33ZM3606 2633.35L3624 2633.35L3624 2675.34L3606 2675.34ZM3615 2624.35L3615 2633.35M3615 2675.34L3615 2684.34M3615 2684.34L3615 2714.33M3615 2624.35L3615 2579.37M3606 2594.36L3615 2579.37L3624 2594.36M3540 2489.39L3570 2489.39L3570 2759.32M3540 2684.34L3570 2684.34M3570 2744.32L3570 2759.32M3555 2759.32L3585 2759.32L3570 2774.32Z" stroke-width="2" fill="none" stroke-linecap="round"/>
<path d="M255 554.86L285 554.86L285 614.85L255 614.85ZM585 502.38L705 502.38L705 584.86L585 584.86ZM585 292.43L705 292.43L705 374.91L585 374.91ZM1710 682.33L1950 682.33L1950 757.31L1710 757.31ZM1716 702.33L1734 702.33L1734 749.82L1716 749.82ZM1746 702.33L1764 702.33L1764 749.82L1746 749.82ZM1776 702.33L1794 702.33L1794 749.82L1776 749.82ZM1806 702.33L1824 702.33L1824 749.82L1806 749.82ZM1836 702.33L1854 702.33L1854 749.82L1836 749.82ZM1866 702.33L1884 702.33L1884 749.82L1866 749.82ZM1896 702.33L1914 702.33L1914 749.82L1896 749.82ZM1926 702.33L1944 702.33L1944 749.82L1926 749.82ZM1275 1754.57L1305 1754.57L1305 1934.52L1275 1934.52ZM2445 1574.61L3435 1574.61L3435 2324.43L2445 2324.43ZM4095 1529.62L4215 1529.62L4215 1709.58L4095 1709.58ZM4500 1499.63L4530 1499.63L4530 1589.61L4500 1589.61ZM4500 1604.61L4530 1604.61L4530 1694.58L4500 1694.58ZM3465 2474.39L3495 2474.39L3495 2534.38L3465 2534.38ZM3465 2669.34L3495 2669.34L3495 2729.33L3465 2729.33Z" stroke-width="3" fill="none" stroke-linecap="round"/>
<path d="M270 568.36L285 568.36L285 571.36L270 571.36ZM270 598.35L285 598.35L285 601.35L270 601.35ZM387 576.76L423 576.76L423 581.26L387 581.26ZM390 566.86L396 566.86M393 563.86L393 569.86M807 576.76L843 576.76L843 581.26L807 581.26ZM810 566.86L816 566.86M813 563.86L813 569.86M1725 692.83L1935 692.83L1935 702.33M1725 692.83L1725 702.33M1755 692.83L1755 702.33M1785 692.83L1785 702.33M1815 692.83L1815 702.33M1845 692.83L1845 702.33M1875 692.83L1875 702.33M1905 692.83L1905 702.33M1275 1768.06L1290 1768.06L1290 1771.06L1275 1771.06ZM1275 1798.06L1290 1798.06L1290 1801.06L1275 1801.06ZM1275 1828.05L1290 1828.05L1290 1831.05L1275 1831.05ZM1275 1858.04L1290 1858.04L1290 1861.04L1275 1861.04ZM1275 1888.04L1290 1888.04L1290 1891.03L1275 1891.03ZM1275 1918.03L1290 1918.03L1290 1921.03L1275 1921.03ZM4500 1513.13L4515 1513.13L4515 1516.13L4500 1516.13ZM4500 1543.12L4515 1543.12L4515 1546.12L4500 1546.12ZM4500 1573.11L4515 1573.11L4515 1576.11L4500 1576.11ZM4500 1618.1L4515 1618.1L4515 1621.1L4500 1621.1ZM4500 1648.09L4515 1648.09L4515 1651.09L4500 1651.09ZM4500 1678.09L4515 1678.09L4515 1681.09L4500 1681.09ZM3480 2487.89L3495 2487.89L3495 2490.89L3480 2490.89ZM3480 2517.88L3495 2517.88L3495 2520.88L3480 2520.88ZM3480 2682.84L3495 2682.84L3495 2685.84L3480 2685.84ZM3480 2712.83L3495 2712.83L3495 2715.83L3480 2715.83Z" stroke-width="1.5" fill="none" stroke-linecap="round"/>
<path d="M387 588.46L423 588.46L423 592.95L387 592.95ZM807 588.46L843 588.46L843 592.95L807 592.95Z" stroke-width="1.5" fill="#000" stroke-linecap="round" shape-rendering="geometricPrecision"/>
<path d="M462 578.86L498 578.86M462 590.85L498 590.85M1002 578.86L1038 578.86M1002 590.85L1038 590.85M1111.5 1304.68L1138.5 1304.68L1138.5 1364.66L1111.5 1364.66ZM1032 1388.66L1068 1388.66M1032 1400.66L1068 1400.66M1182 1388.66L1218 1388.66M1182 1400.66L1218 1400.66M2874 1421.65L2874 1457.64M2886 1421.65L2886 1457.64M2874 1481.64L2874 1517.63M2886 1481.64L2886 1517.63M4089 1436.65L4089 1472.64M4101 1436.65L4101 1472.64" stroke-width="3.6" fill="none" stroke-linecap="round" shape-rendering="geometricPrecision"/>
<path d="M751 300.93L764 300.93L756.4 305.42L773 314.32L766.2 315.72L764.4 322.62L755.3 307.92L751 313.72ZM736 525.87L749 525.87L741.4 530.37L758 539.27L751.2 540.67L749.4 547.57L740.3 532.87L736 538.67ZM2581 1620.6L2594 1620.6L2586.4 1625.1L2603 1634L2596.2 1635.4L2594.4 1642.3L2585.3 1627.6L2581 1633.4ZM2581 2460.39L2594 2460.39L2586.4 2464.89L2603 2473.79L2596.2 2475.19L2594.4 2482.09L2585.3 2467.39L2581 2473.19Z" stroke-width="0.5" fill="#000" stroke-linecap="round" shape-rendering="geometricPrecision"/>
<path d="M2068.6 450.89A32.4 32.4 0 1 0 2133.4 450.89A32.4 32.4 0 1 0 2068.6 450.89M2488.6 450.89A32.4 32.4 0 1 0 2553.4 450.89A32.4 32.4 0 1 0 2488.6 450.89M2908.6 450.89A32.4 32.4 0 1 0 2973.4 450.89A32.4 32.4 0 1 0 2908.6 450.89M3313.6 450.89A32.4 32.4 0 1 0 3378.4 450.89A32.4 32.4 0 1 0 3313.6 450.89M3718.6 450.89A32.4 32.4 0 1 0 3783.4 450.89A32.4 32.4 0 1 0 3718.6 450.89M4108.6 450.89A32.4 32.4 0 1 0 4173.4 450.89A32.4 32.4 0 1 0 4108.6 450.89M4513.6 450.89A32.4 32.4 0 1 0 4578.4 450.89A32.4 32.4 0 1 0 4513.6 450.89" stroke-width="2.8" fill="none" stroke-linecap="round" shape-rendering="geometricPrecision"/>
<path d="M2092.5 427.39L2092.5 472.38M2512.5 427.39L2512.5 472.38M2932.5 427.39L2932.5 472.38M3337.5 427.39L3337.5 472.38M3742.5 427.39L3742.5 472.38M4132.5 427.39L4132.5 472.38M4537.5 427.39L4537.5 472.38M1102.5 1319.68L1102.5 1349.67M1147.5 1319.68L1147.5 1349.67M1927.5 1387.16L1927.5 1432.15M1927.5 1672.09L1927.5 1717.08M1927.5 1957.02L1927.5 2002.01M1927.5 2241.95L1927.5 2286.94M1927.5 2526.88L1927.5 2571.87M1927.5 2811.81L1927.5 2856.8M1927.5 3096.74L1927.5 3141.73" stroke-width="6" fill="none" stroke-linecap="round" shape-rendering="geometricPrecision"/>
<path d="M2112 428.89L2106 422.9L2100 434.89ZM2532 428.89L2526 422.9L2520 434.89ZM2952 428.89L2946 422.9L2940 434.89ZM3357 428.89L3351 422.9L3345 434.89ZM3762 428.89L3756 422.9L3750 434.89ZM4152 428.89L4146 422.9L4140 434.89ZM4557 428.89L4551 422.9L4545 434.89ZM1920 1430.65L1914 1424.65L1907.5 1437.15ZM1920 1715.58L1914 1709.58L1907.5 1722.08ZM1920 2000.51L1914 1994.51L1907.5 2007.01ZM1920 2285.44L1914 2279.44L1907.5 2291.94ZM1920 2570.37L1914 2564.37L1907.5 2576.87ZM1920 2855.3L1914 2849.3L1907.5 2861.8ZM1920 3140.23L1914 3134.23L1907.5 3146.73Z" stroke-width="2" fill="#000" stroke-linecap="round" shape-rendering="geometricPrecision"/>
<path d="M1888 1410.65A33 33 0 1 0 1954 1410.65A33 33 0 1 0 1888 1410.65M1888 1695.58A33 33 0 1 0 1954 1695.58A33 33 0 1 0 1888 1695.58M1888 1980.51A33 33 0 1 0 1954 1980.51A33 33 0 1 0 1888 1980.51M1888 2265.44A33 33 0 1 0 1954 2265.44A33 33 0 1 0 1888 2265.44M1888 2550.37A33 33 0 1 0 1954 2550.37A33 33 0 1 0 1888 2550.37M1888 2835.3A33 33 0 1 0 1954 2835.3A33 33 0 1 0 1888 2835.3M1888 3120.23A33 33 0 1 0 1954 3120.23A33 33 0 1 0 1888 3120.23" stroke-width="3" fill="none" stroke-linecap="round" shape-rendering="geometricPrecision"/>
<path d="M4106 1637.6L4131.5 1637.6" stroke-width="1.9" fill="none" stroke-linecap="round"/>
</g>
<g fill="#000" shape-rendering="geometricPrecision"><circle cx="360" cy="524.87" r="5.4"/><circle cx="405" cy="524.87" r="5.4"/><circle cx="480" cy="524.87" r="5.4"/><circle cx="540" cy="524.87" r="5.4"/><circle cx="750" cy="524.87" r="5.4"/><circle cx="825" cy="524.87" r="5.4"/><circle cx="1020" cy="524.87" r="5.4"/><circle cx="405" cy="644.84" r="5.4"/><circle cx="480" cy="644.84" r="5.4"/><circle cx="645" cy="644.84" r="5.4"/><circle cx="780" cy="644.84" r="5.4"/><circle cx="825" cy="644.84" r="5.4"/><circle cx="1020" cy="644.84" r="5.4"/><circle cx="1725" cy="692.83" r="4.2"/><circle cx="1725" cy="824.8" r="5.4"/><circle cx="1755" cy="692.83" r="4.2"/><circle cx="1755" cy="794.8" r="5.4"/><circle cx="1785" cy="692.83" r="4.2"/><circle cx="1785" cy="854.79" r="5.4"/><circle cx="1815" cy="692.83" r="4.2"/><circle cx="1815" cy="884.78" r="5.4"/><circle cx="1845" cy="692.83" r="4.2"/><circle cx="1845" cy="944.77" r="5.4"/><circle cx="1875" cy="692.83" r="4.2"/><circle cx="1875" cy="914.77" r="5.4"/><circle cx="1905" cy="692.83" r="4.2"/><circle cx="1905" cy="974.76" r="5.4"/><circle cx="1935" cy="1004.75" r="5.4"/><circle cx="2115" cy="359.91" r="5.4"/><circle cx="2010" cy="449.89" r="5.4"/><circle cx="2115" cy="539.87" r="5.4"/><circle cx="2025" cy="824.8" r="5.4"/><circle cx="2055" cy="794.8" r="5.4"/><circle cx="2085" cy="974.76" r="5.4"/><circle cx="2115" cy="944.77" r="5.4"/><circle cx="2145" cy="914.77" r="5.4"/><circle cx="2175" cy="854.79" r="5.4"/><circle cx="2205" cy="884.78" r="5.4"/><circle cx="2235" cy="1004.75" r="5.4"/><circle cx="2535" cy="359.91" r="5.4"/><circle cx="2430" cy="449.89" r="5.4"/><circle cx="2535" cy="539.87" r="5.4"/><circle cx="2445" cy="824.8" r="5.4"/><circle cx="2475" cy="794.8" r="5.4"/><circle cx="2505" cy="974.76" r="5.4"/><circle cx="2535" cy="944.77" r="5.4"/><circle cx="2565" cy="914.77" r="5.4"/><circle cx="2595" cy="854.79" r="5.4"/><circle cx="2625" cy="884.78" r="5.4"/><circle cx="2655" cy="1004.75" r="5.4"/><circle cx="2955" cy="359.91" r="5.4"/><circle cx="2850" cy="449.89" r="5.4"/><circle cx="2955" cy="539.87" r="5.4"/><circle cx="2865" cy="824.8" r="5.4"/><circle cx="2895" cy="794.8" r="5.4"/><circle cx="2925" cy="974.76" r="5.4"/><circle cx="2955" cy="944.77" r="5.4"/><circle cx="2985" cy="914.77" r="5.4"/><circle cx="3015" cy="854.79" r="5.4"/><circle cx="3045" cy="884.78" r="5.4"/><circle cx="3075" cy="1004.75" r="5.4"/><circle cx="3360" cy="359.91" r="5.4"/><circle cx="3255" cy="449.89" r="5.4"/><circle cx="3360" cy="539.87" r="5.4"/><circle cx="3270" cy="824.8" r="5.4"/><circle cx="3300" cy="794.8" r="5.4"/><circle cx="3330" cy="974.76" r="5.4"/><circle cx="3360" cy="944.77" r="5.4"/><circle cx="3390" cy="914.77" r="5.4"/><circle cx="3420" cy="854.79" r="5.4"/><circle cx="3450" cy="884.78" r="5.4"/><circle cx="3480" cy="1004.75" r="5.4"/><circle cx="3765" cy="359.91" r="5.4"/><circle cx="3660" cy="449.89" r="5.4"/><circle cx="3765" cy="539.87" r="5.4"/><circle cx="3675" cy="824.8" r="5.4"/><circle cx="3705" cy="794.8" r="5.4"/><circle cx="3735" cy="974.76" r="5.4"/><circle cx="3765" cy="944.77" r="5.4"/><circle cx="3795" cy="914.77" r="5.4"/><circle cx="3825" cy="854.79" r="5.4"/><circle cx="3855" cy="884.78" r="5.4"/><circle cx="3885" cy="1004.75" r="5.4"/><circle cx="4155" cy="359.91" r="5.4"/><circle cx="4050" cy="449.89" r="5.4"/><circle cx="4155" cy="539.87" r="5.4"/><circle cx="4065" cy="824.8" r="5.4"/><circle cx="4095" cy="794.8" r="5.4"/><circle cx="4125" cy="974.76" r="5.4"/><circle cx="4155" cy="944.77" r="5.4"/><circle cx="4185" cy="914.77" r="5.4"/><circle cx="4215" cy="854.79" r="5.4"/><circle cx="4245" cy="884.78" r="5.4"/><circle cx="4275" cy="1004.75" r="5.4"/><circle cx="4560" cy="359.91" r="5.4"/><circle cx="4455" cy="449.89" r="5.4"/><circle cx="4560" cy="539.87" r="5.4"/><circle cx="1050" cy="1334.67" r="5.4"/><circle cx="1200" cy="1334.67" r="5.4"/><circle cx="1125" cy="1454.64" r="5.4"/><circle cx="1050" cy="1679.59" r="5.4"/><circle cx="1200" cy="1769.56" r="5.4"/><circle cx="1905" cy="1244.69" r="5.4"/><circle cx="1905" cy="1334.67" r="5.4"/><circle cx="1905" cy="1499.63" r="5.4"/><circle cx="2010" cy="1409.65" r="5.4"/><circle cx="1875" cy="1529.62" r="5.4"/><circle cx="1905" cy="1619.6" r="5.4"/><circle cx="1905" cy="1784.56" r="5.4"/><circle cx="1845" cy="1784.56" r="5.4"/><circle cx="2010" cy="1694.58" r="5.4"/><circle cx="1875" cy="1814.55" r="5.4"/><circle cx="1905" cy="1904.53" r="5.4"/><circle cx="1905" cy="2069.49" r="5.4"/><circle cx="1845" cy="2069.49" r="5.4"/><circle cx="2010" cy="1979.51" r="5.4"/><circle cx="1875" cy="2099.48" r="5.4"/><circle cx="1905" cy="2189.46" r="5.4"/><circle cx="1905" cy="2354.42" r="5.4"/><circle cx="1845" cy="2354.42" r="5.4"/><circle cx="2010" cy="2264.44" r="5.4"/><circle cx="1875" cy="2384.41" r="5.4"/><circle cx="1905" cy="2474.39" r="5.4"/><circle cx="1905" cy="2639.35" r="5.4"/><circle cx="1845" cy="2639.35" r="5.4"/><circle cx="2010" cy="2549.37" r="5.4"/><circle cx="1875" cy="2669.34" r="5.4"/><circle cx="1905" cy="2759.32" r="5.4"/><circle cx="1905" cy="2924.28" r="5.4"/><circle cx="1845" cy="2924.28" r="5.4"/><circle cx="2010" cy="2834.3" r="5.4"/><circle cx="1905" cy="3044.25" r="5.4"/><circle cx="1905" cy="3209.21" r="5.4"/><circle cx="2010" cy="3119.23" r="5.4"/><circle cx="2940" cy="1439.65" r="5.4"/><circle cx="2970" cy="1499.63" r="5.4"/><circle cx="2790" cy="1499.63" r="5.4"/><circle cx="2940" cy="2369.42" r="5.4"/><circle cx="4155" cy="1454.64" r="5.4"/><circle cx="4035" cy="1649.59" r="5.4"/><circle cx="4155" cy="1769.56" r="5.4"/><circle cx="4425" cy="1619.6" r="5.4"/><circle cx="4365" cy="1649.59" r="5.4"/><circle cx="4395" cy="1679.59" r="5.4"/><circle cx="3615" cy="2519.38" r="5.4"/><circle cx="3615" cy="2714.33" r="5.4"/><circle cx="3570" cy="2684.34" r="5.4"/></g>
<g stroke="#000" fill="none" stroke-linecap="round" stroke-linejoin="round" stroke-width="2.8" shape-rendering="geometricPrecision">
<g transform="translate(413.39,137.56) scale(0.73)"><use href="#g31"/></g>
<g transform="translate(413.39,3384.3) scale(0.73)"><use href="#g31"/></g>
<g transform="translate(1003.94,137.56) scale(0.73)"><use href="#g32"/></g>
<g transform="translate(1003.94,3384.3) scale(0.73)"><use href="#g32"/></g>
<g transform="translate(1594.49,137.56) scale(0.73)"><use href="#g33"/></g>
<g transform="translate(1594.49,3384.3) scale(0.73)"><use href="#g33"/></g>
<g transform="translate(2185.04,137.56) scale(0.73)"><use href="#g34"/></g>
<g transform="translate(2185.04,3384.3) scale(0.73)"><use href="#g34"/></g>
<g transform="translate(2775.59,137.56) scale(0.73)"><use href="#g35"/></g>
<g transform="translate(2775.59,3384.3) scale(0.73)"><use href="#g35"/></g>
<g transform="translate(3366.14,137.56) scale(0.73)"><use href="#g36"/></g>
<g transform="translate(3366.14,3384.3) scale(0.73)"><use href="#g36"/></g>
<g transform="translate(3956.69,137.56) scale(0.73)"><use href="#g37"/></g>
<g transform="translate(3956.69,3384.3) scale(0.73)"><use href="#g37"/></g>
<g transform="translate(4547.24,137.56) scale(0.73)"><use href="#g38"/></g>
<g transform="translate(4547.24,3384.3) scale(0.73)"><use href="#g38"/></g>
<g transform="translate(123.27,420.46) scale(0.73)"><use href="#g41"/></g>
<g transform="translate(4825.06,420.46) scale(0.73)"><use href="#g41"/></g>
<g transform="translate(122.16,1010.87) scale(0.73)"><use href="#g42"/></g>
<g transform="translate(4823.95,1010.87) scale(0.73)"><use href="#g42"/></g>
<g transform="translate(122.16,1601.27) scale(0.73)"><use href="#g43"/></g>
<g transform="translate(4823.95,1601.27) scale(0.73)"><use href="#g43"/></g>
<g transform="translate(122.16,2191.68) scale(0.73)"><use href="#g44"/></g>
<g transform="translate(4823.95,2191.68) scale(0.73)"><use href="#g44"/></g>
<g transform="translate(122.9,2782.08) scale(0.73)"><use href="#g45"/></g>
<g transform="translate(4824.69,2782.08) scale(0.73)"><use href="#g45"/></g>
<g transform="translate(123.27,3372.49) scale(0.73)"><use href="#g46"/></g>
<g transform="translate(4825.06,3372.49) scale(0.73)"><use href="#g46"/></g>
<g transform="translate(3557.62,3161.12) scale(0.84)" stroke-width="4.62"><use href="#g44"/><use href="#g45" x="21.23"/><use href="#g4e" x="40.44"/><use href="#g53" x="62.68"/><use href="#g4f" x="82.9"/><use href="#g4b" x="105.14"/><use href="#g4f" x="126.37"/><use href="#g47" x="148.61"/><use href="#g45" x="169.84"/><use href="#g49" x="189.05"/></g>
<g transform="translate(3557.62,3196.55) scale(0.84)"><use href="#g53"/><use href="#g68" x="20.22"/><use href="#g65" x="39.43"/><use href="#g65" x="57.63"/><use href="#g74" x="75.83"/><use href="#g3a" x="87.96"/><use href="#g2f" x="114.25"/></g>
<g transform="translate(3557.62,3228.43) scale(0.84)"><use href="#g46"/><use href="#g69" x="18.2"/><use href="#g6c" x="26.29"/><use href="#g65" x="35.39"/><use href="#g3a" x="53.59"/><use href="#g44" x="79.88"/><use href="#g4d" x="101.11"/><use href="#g58" x="125.37"/><use href="#g74" x="145.59"/><use href="#g69" x="157.72"/><use href="#g6d" x="165.81"/><use href="#g65" x="196.14"/><use href="#g72" x="214.34"/><use href="#g2e" x="227.48"/><use href="#g6b" x="237.59"/><use href="#g69" x="254.78"/><use href="#g63" x="262.87"/><use href="#g61" x="281.07"/><use href="#g64" x="300.28"/><use href="#g5f" x="319.49"/><use href="#g73" x="335.67"/><use href="#g63" x="352.86"/><use href="#g68" x="371.06"/></g>
<g transform="translate(3559.98,3273.89) skewX(-7.1) scale(1.12)" stroke-width="4.89"><use href="#g54"/><use href="#g69" x="16.18"/><use href="#g74" x="24.27"/><use href="#g6c" x="36.4"/><use href="#g65" x="45.5"/><use href="#g3a" x="63.7"/><use href="#g44" x="89.99"/><use href="#g4d" x="111.22"/><use href="#g58" x="135.48"/><use href="#g54" x="171.88"/><use href="#g69" x="188.06"/><use href="#g6d" x="196.15"/><use href="#g65" x="226.48"/><use href="#g72" x="244.68"/></g>
<g transform="translate(3557.62,3315.81) scale(0.84)"><use href="#g53"/><use href="#g69" x="20.22"/><use href="#g7a" x="28.31"/><use href="#g65" x="45.5"/><use href="#g3a" x="63.7"/><use href="#g41" x="89.99"/><use href="#g33" x="108.19"/></g>
<g transform="translate(3817.46,3315.81) scale(0.84)"><use href="#g44"/><use href="#g61" x="21.23"/><use href="#g74" x="40.44"/><use href="#g65" x="52.57"/><use href="#g3a" x="70.77"/><use href="#g32" x="97.06"/><use href="#g30" x="117.28"/><use href="#g32" x="137.5"/><use href="#g36" x="157.72"/><use href="#g2d" x="177.94"/><use href="#g30" x="204.23"/><use href="#g33" x="224.45"/><use href="#g2d" x="244.67"/><use href="#g33" x="270.96"/><use href="#g30" x="291.18"/></g>
<g transform="translate(4561.56,3315.81) scale(0.84)" stroke-width="4.62"><use href="#g52"/><use href="#g65" x="21.23"/><use href="#g76" x="39.43"/><use href="#g3a" x="55.61"/><use href="#g32" x="81.9"/><use href="#g30" x="102.12"/><use href="#g32" x="122.34"/><use href="#g36" x="142.56"/><use href="#g30" x="162.78"/><use href="#g33" x="183"/><use href="#g33" x="203.22"/><use href="#g30" x="223.44"/><use href="#g2d" x="243.66"/><use href="#g30" x="269.95"/><use href="#g31" x="290.17"/></g>
<g transform="translate(3557.62,3348.87) scale(0.84)"><use href="#g4b"/><use href="#g69" x="21.23"/><use href="#g43" x="29.32"/><use href="#g61" x="50.55"/><use href="#g64" x="69.76"/><use href="#g45" x="105.15"/><use href="#g2e" x="124.36"/><use href="#g44" x="134.47"/><use href="#g2e" x="155.7"/><use href="#g41" x="165.81"/><use href="#g2e" x="184.01"/><use href="#g39" x="210.3"/><use href="#g2e" x="230.52"/><use href="#g30" x="240.63"/><use href="#g2e" x="260.85"/><use href="#g30" x="270.96"/></g>
<g transform="translate(4561.56,3348.87) scale(0.84)"><use href="#g49"/><use href="#g64" x="9.1"/><use href="#g3a" x="28.31"/><use href="#g31" x="54.6"/><use href="#g2f" x="74.82"/><use href="#g31" x="97.06"/></g>
<g transform="translate(300.78,565.86) scale(0.71)"><use href="#g31"/></g>
<g transform="translate(300.78,595.85) scale(0.71)"><use href="#g32"/></g>
<g transform="translate(219.36,538.87) scale(0.71)"><use href="#g50"/><use href="#g57" x="21.23"/><use href="#g52" x="45.49"/><use href="#g5f" x="66.72"/><use href="#g49" x="82.9"/><use href="#g4e" x="92"/><use href="#g31" x="114.24"/></g>
<g transform="translate(339.04,442.89) scale(0.71)"><use href="#g56"/><use href="#g44" x="18.2"/><use href="#g44" x="39.43"/></g>
<g transform="translate(999.21,460.89) scale(0.71)"><use href="#g56"/><use href="#g43" x="18.2"/><use href="#g43" x="39.43"/></g>
<g transform="translate(996.56,727.82) scale(0.71)"><use href="#g47"/><use href="#g4e" x="21.23"/><use href="#g44" x="43.47"/></g>
<g transform="translate(507.76,592.85) scale(0.71)"><use href="#g43"/><use href="#g31" x="21.23"/></g>
<g transform="translate(507.46,615.85) scale(0.71)"><use href="#g31"/><use href="#g30" x="20.22"/><use href="#g34" x="40.44"/></g>
<g transform="translate(1047.76,592.85) scale(0.71)"><use href="#g43"/><use href="#g32" x="21.23"/></g>
<g transform="translate(1048.06,615.85) scale(0.71)"><use href="#g31"/><use href="#g30" x="20.22"/><use href="#g34" x="40.44"/></g>
<g transform="translate(856.36,592.85) scale(0.71)"><use href="#g44"/><use href="#g43" x="21.23"/><use href="#g32" x="42.46"/></g>
<g transform="translate(856.06,614.35) scale(0.71)"><use href="#g31"/><use href="#g30" x="20.22"/><use href="#g30" x="40.44"/><use href="#g75" x="60.66"/><use href="#g46" x="79.87"/><use href="#g2f" x="98.07"/><use href="#g31" x="120.31"/><use href="#g36" x="140.53"/><use href="#g76" x="160.75"/></g>
<g transform="translate(385.17,676.83) scale(0.71)"><use href="#g44"/><use href="#g43" x="21.23"/><use href="#g31" x="42.46"/></g>
<g transform="translate(348.59,701.83) scale(0.71)"><use href="#g32"/><use href="#g32" x="20.22"/><use href="#g30" x="40.44"/><use href="#g75" x="60.66"/><use href="#g46" x="79.87"/><use href="#g2f" x="98.07"/><use href="#g33" x="120.31"/><use href="#g35" x="140.53"/><use href="#g76" x="160.75"/></g>
<g transform="translate(589.76,532.87) scale(0.71)"><use href="#g49"/><use href="#g4e" x="9.1"/></g>
<g transform="translate(655.77,532.87) scale(0.71)"><use href="#g4f"/><use href="#g55" x="22.24"/><use href="#g54" x="44.48"/></g>
<g transform="translate(653,578.59) rotate(-90) scale(0.71)"><use href="#g47"/><use href="#g4e" x="21.23"/><use href="#g44" x="43.47"/></g>
<g transform="translate(562.78,520.87) scale(0.71)"><use href="#g31"/></g>
<g transform="translate(712.78,520.87) scale(0.71)"><use href="#g33"/></g>
<g transform="translate(641,607.07) rotate(-90) scale(0.71)"><use href="#g32"/></g>
<g transform="translate(573.99,490.88) scale(0.71)"><use href="#g4d"/><use href="#g37" x="24.26"/><use href="#g38" x="44.48"/><use href="#g41" x="64.7"/><use href="#g52" x="82.9"/><use href="#g30" x="104.13"/><use href="#g35" x="124.35"/><use href="#g2d" x="144.57"/><use href="#g31" x="170.86"/></g>
<g transform="translate(589.76,322.92) scale(0.71)"><use href="#g49"/><use href="#g4e" x="9.1"/></g>
<g transform="translate(655.77,322.92) scale(0.71)"><use href="#g4f"/><use href="#g55" x="22.24"/><use href="#g54" x="44.48"/></g>
<g transform="translate(653,368.65) rotate(-90) scale(0.71)"><use href="#g47"/><use href="#g4e" x="21.23"/><use href="#g44" x="43.47"/></g>
<g transform="translate(562.78,310.92) scale(0.71)"><use href="#g31"/></g>
<g transform="translate(712.78,310.92) scale(0.71)"><use href="#g33"/></g>
<g transform="translate(641,397.12) rotate(-90) scale(0.71)"><use href="#g32"/></g>
<g transform="translate(577.19,282.93) scale(0.71)"><use href="#g4d"/><use href="#g37" x="24.26"/><use href="#g38" x="44.48"/><use href="#g41" x="64.7"/><use href="#g52" x="82.9"/><use href="#g30" x="104.13"/><use href="#g35" x="124.35"/><use href="#g2d" x="144.57"/><use href="#g32" x="170.86"/></g>
<g transform="translate(1350.91,757.81) scale(0.71)"><use href="#g54"/><use href="#g42" x="16.18"/><use href="#g44" x="37.41"/><use href="#g36" x="58.64"/><use href="#g32" x="78.86"/><use href="#g30" x="99.08"/><use href="#g38" x="119.3"/><use href="#g33" x="139.52"/><use href="#g41" x="159.74"/><use href="#g46" x="177.94"/><use href="#g47" x="196.14"/><use href="#g31" x="217.37"/></g>
<g transform="translate(1221.54,802.8) scale(0.71)"><use href="#g5f"/><use href="#g37" x="16.18"/><use href="#g7a" x="36.4"/><use href="#g65" x="53.59"/><use href="#g67" x="71.79"/><use href="#g42" x="91"/></g>
<g transform="translate(1362.1,790.81) scale(0.71)"><use href="#g31"/></g>
<g transform="translate(1388.76,802.8) scale(0.71)"><use href="#g49"/><use href="#g31" x="9.1"/></g>
<g transform="translate(1461.21,802.8) scale(0.71)"><use href="#g4f"/><use href="#g31" x="22.24"/></g>
<g transform="translate(1501.46,790.81) scale(0.71)"><use href="#g31"/><use href="#g38" x="20.22"/></g>
<g transform="translate(1582.26,814.8) scale(0.71)"><use href="#g52"/><use href="#g33" x="21.23"/></g>
<g transform="translate(1661.46,814.8) scale(0.71)"><use href="#g31"/><use href="#g32" x="20.22"/><use href="#g32" x="40.44"/></g>
<g transform="translate(1223.7,832.8) scale(0.71)"><use href="#g5f"/><use href="#g37" x="16.18"/><use href="#g7a" x="36.4"/><use href="#g65" x="53.59"/><use href="#g67" x="71.79"/><use href="#g41" x="91"/></g>
<g transform="translate(1361.76,820.8) scale(0.71)"><use href="#g32"/></g>
<g transform="translate(1388.76,832.8) scale(0.71)"><use href="#g49"/><use href="#g32" x="9.1"/></g>
<g transform="translate(1460.88,832.8) scale(0.71)"><use href="#g4f"/><use href="#g32" x="22.24"/></g>
<g transform="translate(1501.46,820.8) scale(0.71)"><use href="#g31"/><use href="#g37" x="20.22"/></g>
<g transform="translate(1581.93,844.79) scale(0.71)"><use href="#g52"/><use href="#g34" x="21.23"/></g>
<g transform="translate(1661.46,844.79) scale(0.71)"><use href="#g31"/><use href="#g32" x="20.22"/><use href="#g32" x="40.44"/></g>
<g transform="translate(1223.7,862.79) scale(0.71)"><use href="#g5f"/><use href="#g37" x="16.18"/><use href="#g7a" x="36.4"/><use href="#g65" x="53.59"/><use href="#g67" x="71.79"/><use href="#g46" x="91"/></g>
<g transform="translate(1361.43,850.79) scale(0.71)"><use href="#g33"/></g>
<g transform="translate(1388.76,862.79) scale(0.71)"><use href="#g49"/><use href="#g33" x="9.1"/></g>
<g transform="translate(1460.54,862.79) scale(0.71)"><use href="#g4f"/><use href="#g33" x="22.24"/></g>
<g transform="translate(1501.46,850.79) scale(0.71)"><use href="#g31"/><use href="#g36" x="20.22"/></g>
<g transform="translate(1576.26,874.78) scale(0.71)"><use href="#g52"/><use href="#g35" x="21.23"/></g>
<g transform="translate(1661.46,874.78) scale(0.71)"><use href="#g31"/><use href="#g32" x="20.22"/><use href="#g32" x="40.44"/></g>
<g transform="translate(1221.54,892.78) scale(0.71)"><use href="#g5f"/><use href="#g37" x="16.18"/><use href="#g7a" x="36.4"/><use href="#g65" x="53.59"/><use href="#g67" x="71.79"/><use href="#g47" x="91"/></g>
<g transform="translate(1361.09,880.78) scale(0.71)"><use href="#g34"/></g>
<g transform="translate(1388.76,892.78) scale(0.71)"><use href="#g49"/><use href="#g34" x="9.1"/></g>
<g transform="translate(1460.21,892.78) scale(0.71)"><use href="#g4f"/><use href="#g34" x="22.24"/></g>
<g transform="translate(1501.46,880.78) scale(0.71)"><use href="#g31"/><use href="#g35" x="20.22"/></g>
<g transform="translate(1576.26,904.78) scale(0.71)"><use href="#g52"/><use href="#g36" x="21.23"/></g>
<g transform="translate(1661.46,904.78) scale(0.71)"><use href="#g31"/><use href="#g32" x="20.22"/><use href="#g32" x="40.44"/></g>
<g transform="translate(1222.98,922.77) scale(0.71)"><use href="#g5f"/><use href="#g37" x="16.18"/><use href="#g7a" x="36.4"/><use href="#g65" x="53.59"/><use href="#g67" x="71.79"/><use href="#g45" x="91"/></g>
<g transform="translate(1361.43,910.78) scale(0.71)"><use href="#g35"/></g>
<g transform="translate(1388.76,922.77) scale(0.71)"><use href="#g49"/><use href="#g35" x="9.1"/></g>
<g transform="translate(1460.54,922.77) scale(0.71)"><use href="#g4f"/><use href="#g35" x="22.24"/></g>
<g transform="translate(1501.46,910.78) scale(0.71)"><use href="#g31"/><use href="#g34" x="20.22"/></g>
<g transform="translate(1575.93,934.77) scale(0.71)"><use href="#g52"/><use href="#g37" x="21.23"/></g>
<g transform="translate(1661.46,934.77) scale(0.71)"><use href="#g31"/><use href="#g32" x="20.22"/><use href="#g32" x="40.44"/></g>
<g transform="translate(1221.54,952.77) scale(0.71)"><use href="#g5f"/><use href="#g37" x="16.18"/><use href="#g7a" x="36.4"/><use href="#g65" x="53.59"/><use href="#g67" x="71.79"/><use href="#g44" x="91"/></g>
<g transform="translate(1361.43,940.77) scale(0.71)"><use href="#g36"/></g>
<g transform="translate(1388.76,952.77) scale(0.71)"><use href="#g49"/><use href="#g36" x="9.1"/></g>
<g transform="translate(1460.54,952.77) scale(0.71)"><use href="#g4f"/><use href="#g36" x="22.24"/></g>
<g transform="translate(1501.46,940.77) scale(0.71)"><use href="#g31"/><use href="#g33" x="20.22"/></g>
<g transform="translate(1576.26,964.76) scale(0.71)"><use href="#g52"/><use href="#g38" x="21.23"/></g>
<g transform="translate(1661.46,964.76) scale(0.71)"><use href="#g31"/><use href="#g32" x="20.22"/><use href="#g32" x="40.44"/></g>
<g transform="translate(1221.54,982.76) scale(0.71)"><use href="#g5f"/><use href="#g37" x="16.18"/><use href="#g7a" x="36.4"/><use href="#g65" x="53.59"/><use href="#g67" x="71.79"/><use href="#g43" x="91"/></g>
<g transform="translate(1361.09,970.76) scale(0.71)"><use href="#g37"/></g>
<g transform="translate(1388.76,982.76) scale(0.71)"><use href="#g49"/><use href="#g37" x="9.1"/></g>
<g transform="translate(1460.21,982.76) scale(0.71)"><use href="#g4f"/><use href="#g37" x="22.24"/></g>
<g transform="translate(1501.46,970.76) scale(0.71)"><use href="#g31"/><use href="#g32" x="20.22"/></g>
<g transform="translate(1576.6,994.76) scale(0.71)"><use href="#g52"/><use href="#g39" x="21.23"/></g>
<g transform="translate(1661.46,994.76) scale(0.71)"><use href="#g31"/><use href="#g32" x="20.22"/><use href="#g32" x="40.44"/></g>
<g transform="translate(1206.37,1012.75) scale(0.71)"><use href="#g5f"/><use href="#g37" x="16.18"/><use href="#g7a" x="36.4"/><use href="#g65" x="53.59"/><use href="#g67" x="71.79"/><use href="#g44" x="91"/><use href="#g50" x="112.23"/></g>
<g transform="translate(1361.43,1000.75) scale(0.71)"><use href="#g38"/></g>
<g transform="translate(1388.76,1012.75) scale(0.71)"><use href="#g49"/><use href="#g38" x="9.1"/></g>
<g transform="translate(1460.54,1012.75) scale(0.71)"><use href="#g4f"/><use href="#g38" x="22.24"/></g>
<g transform="translate(1501.46,1000.75) scale(0.71)"><use href="#g31"/><use href="#g31" x="20.22"/></g>
<g transform="translate(1568.16,1024.75) scale(0.71)"><use href="#g52"/><use href="#g31" x="21.23"/><use href="#g30" x="41.45"/></g>
<g transform="translate(1661.46,1024.75) scale(0.71)"><use href="#g31"/><use href="#g36" x="20.22"/><use href="#g32" x="40.44"/></g>
<g transform="translate(1361.76,1030.75) scale(0.71)"><use href="#g39"/></g>
<g transform="translate(1388.76,1042.74) scale(0.71)"><use href="#g47"/><use href="#g4e" x="21.23"/><use href="#g44" x="43.47"/></g>
<g transform="translate(1442.94,1042.74) scale(0.71)"><use href="#g43"/><use href="#g4f" x="21.23"/><use href="#g4d" x="43.47"/></g>
<g transform="translate(1501.46,1030.75) scale(0.71)"><use href="#g31"/><use href="#g30" x="20.22"/></g>
<g transform="translate(1296.56,1132.72) scale(0.71)"><use href="#g47"/><use href="#g4e" x="21.23"/><use href="#g44" x="43.47"/></g>
<g transform="translate(1539.04,713.32) scale(0.71)"><use href="#g56"/><use href="#g44" x="18.2"/><use href="#g44" x="39.43"/></g>
<g transform="translate(1732.76,676.83) scale(0.71)"><use href="#g52"/><use href="#g4e" x="21.23"/><use href="#g31" x="43.47"/></g>
<g transform="translate(1786.46,676.83) scale(0.71)"><use href="#g31"/><use href="#g30" x="20.22"/><use href="#g33" x="40.44"/><use href="#g78" x="60.66"/><use href="#g38" x="77.85"/></g>
<g transform="translate(1721,682.87) rotate(-90) scale(0.71)"><use href="#g31"/></g>
<g transform="translate(1721,778.03) rotate(-90) scale(0.71)"><use href="#g32"/></g>
<g transform="translate(1751,778.03) rotate(-90) scale(0.71)"><use href="#g33"/></g>
<g transform="translate(1781,778.03) rotate(-90) scale(0.71)"><use href="#g34"/></g>
<g transform="translate(1811,778.03) rotate(-90) scale(0.71)"><use href="#g35"/></g>
<g transform="translate(1841,778.2) rotate(-90) scale(0.71)"><use href="#g36"/></g>
<g transform="translate(1871,778.03) rotate(-90) scale(0.71)"><use href="#g37"/></g>
<g transform="translate(1901,778.03) rotate(-90) scale(0.71)"><use href="#g38"/></g>
<g transform="translate(1931,777.86) rotate(-90) scale(0.71)"><use href="#g39"/></g>
<g transform="translate(1704.04,577.86) scale(0.71)"><use href="#g56"/><use href="#g44" x="18.2"/><use href="#g44" x="39.43"/></g>
<g transform="translate(2094.04,277.93) scale(0.71)"><use href="#g56"/><use href="#g44" x="18.2"/><use href="#g44" x="39.43"/></g>
<g transform="translate(2043.5,424.1) rotate(-90) scale(0.71)"><use href="#g52"/><use href="#g32" x="21.23"/><use href="#g36" x="41.45"/></g>
<g transform="translate(2071,423.39) rotate(-90) scale(0.71)"><use href="#g33"/><use href="#g33" x="20.22"/><use href="#g32" x="40.44"/></g>
<g transform="translate(1776.37,457.89) scale(0.71)"><use href="#g5f"/><use href="#g37" x="16.18"/><use href="#g7a" x="36.4"/><use href="#g65" x="53.59"/><use href="#g67" x="71.79"/><use href="#g48" x="91"/><use href="#g31" x="113.24"/></g>
<g transform="translate(1927.79,397.9) scale(0.71)"><use href="#g52"/><use href="#g31" x="21.23"/><use href="#g38" x="41.45"/></g>
<g transform="translate(1928,426.89) scale(0.71)"><use href="#g31"/><use href="#g30" x="20.22"/><use href="#g33" x="40.44"/></g>
<g transform="translate(2032.78,445.89) scale(0.71)"><use href="#g31"/></g>
<g transform="translate(2110.5,412.12) rotate(-90) scale(0.71)"><use href="#g32"/></g>
<g transform="translate(2110.5,503.1) rotate(-90) scale(0.71)"><use href="#g33"/></g>
<g transform="translate(2128.39,412.9) scale(0.71)"><use href="#g32"/><use href="#g53" x="20.22"/><use href="#g41" x="40.44"/><use href="#g31" x="58.64"/><use href="#g31" x="78.86"/><use href="#g36" x="99.08"/><use href="#g32" x="119.3"/></g>
<g transform="translate(2133.77,436.39) scale(0.71)"><use href="#g51"/><use href="#g38" x="22.24"/></g>
<g transform="translate(2108.5,562.08) rotate(-90) scale(0.71)"><use href="#g34"/></g>
<g transform="translate(2138.5,569.3) rotate(-90) scale(0.71)"><use href="#g31"/><use href="#g31" x="20.22"/></g>
<g transform="translate(2122.5,653.98) rotate(-90) scale(0.71)"><use href="#g41"/><use href="#g4e" x="18.2"/><use href="#g4f" x="40.44"/><use href="#g44" x="62.68"/><use href="#g45" x="83.91"/></g>
<g transform="translate(2152.5,653.98) rotate(-90) scale(0.71)"><use href="#g41"/><use href="#g4e" x="18.2"/><use href="#g4f" x="40.44"/><use href="#g44" x="62.68"/><use href="#g45" x="83.91"/></g>
<g transform="translate(2005.82,687.83) scale(0.71)"><use href="#g6f"/><use href="#g73" x="19.21"/><use href="#g6c" x="36.4"/><use href="#g31" x="45.5"/><use href="#g31" x="65.72"/><use href="#g30" x="85.94"/><use href="#g30" x="106.16"/><use href="#g31" x="126.38"/><use href="#g2d" x="146.6"/><use href="#g68" x="172.89"/><use href="#g31" x="192.1"/></g>
<g transform="translate(2032.5,723.97) rotate(-90) scale(0.71)"><use href="#g41"/></g>
<g transform="translate(2021,756.87) rotate(-90) scale(0.71)"><use href="#g39"/></g>
<g transform="translate(2062.5,726.06) rotate(-90) scale(0.71)"><use href="#g42"/></g>
<g transform="translate(2051,757.04) rotate(-90) scale(0.71)"><use href="#g38"/></g>
<g transform="translate(2092.5,726.06) rotate(-90) scale(0.71)"><use href="#g43"/></g>
<g transform="translate(2081,757.04) rotate(-90) scale(0.71)"><use href="#g35"/></g>
<g transform="translate(2122.5,726.06) rotate(-90) scale(0.71)"><use href="#g44"/></g>
<g transform="translate(2111,757.04) rotate(-90) scale(0.71)"><use href="#g32"/></g>
<g transform="translate(2152.5,726) rotate(-90) scale(0.71)"><use href="#g45"/></g>
<g transform="translate(2141,757.04) rotate(-90) scale(0.71)"><use href="#g31"/></g>
<g transform="translate(2182.5,725.97) rotate(-90) scale(0.71)"><use href="#g46"/></g>
<g transform="translate(2171,764.42) rotate(-90) scale(0.71)"><use href="#g31"/><use href="#g32" x="20.22"/></g>
<g transform="translate(2212.5,726.06) rotate(-90) scale(0.71)"><use href="#g47"/></g>
<g transform="translate(2201,764.76) rotate(-90) scale(0.71)"><use href="#g31"/><use href="#g34" x="20.22"/></g>
<g transform="translate(2242.5,726.06) rotate(-90) scale(0.71)"><use href="#g44"/><use href="#g50" x="21.23"/></g>
<g transform="translate(2231,757.2) rotate(-90) scale(0.71)"><use href="#g36"/></g>
<g transform="translate(2514.04,277.93) scale(0.71)"><use href="#g56"/><use href="#g44" x="18.2"/><use href="#g44" x="39.43"/></g>
<g transform="translate(2414,382.11) rotate(-90) scale(0.71)"><use href="#g52"/><use href="#g33" x="21.23"/><use href="#g35" x="41.45"/></g>
<g transform="translate(2414,428.39) rotate(-90) scale(0.71)"><use href="#g33"/><use href="#g33" x="20.22"/><use href="#g32" x="40.44"/></g>
<g transform="translate(2196.37,457.89) scale(0.71)"><use href="#g5f"/><use href="#g37" x="16.18"/><use href="#g7a" x="36.4"/><use href="#g65" x="53.59"/><use href="#g67" x="71.79"/><use href="#g48" x="91"/><use href="#g30" x="113.24"/></g>
<g transform="translate(2347.62,397.9) scale(0.71)"><use href="#g52"/><use href="#g33" x="21.23"/><use href="#g34" x="41.45"/></g>
<g transform="translate(2348,426.89) scale(0.71)"><use href="#g31"/><use href="#g30" x="20.22"/><use href="#g33" x="40.44"/></g>
<g transform="translate(2452.78,445.89) scale(0.71)"><use href="#g31"/></g>
<g transform="translate(2530.5,412.12) rotate(-90) scale(0.71)"><use href="#g32"/></g>
<g transform="translate(2530.5,503.1) rotate(-90) scale(0.71)"><use href="#g33"/></g>
<g transform="translate(2547.29,412.9) scale(0.71)"><use href="#g32"/><use href="#g53" x="20.22"/><use href="#g41" x="40.44"/><use href="#g31" x="58.64"/><use href="#g31" x="78.86"/><use href="#g36" x="99.08"/><use href="#g32" x="119.3"/></g>
<g transform="translate(2553.87,436.39) scale(0.71)"><use href="#g51"/><use href="#g39" x="22.24"/></g>
<g transform="translate(2528.5,562.08) rotate(-90) scale(0.71)"><use href="#g34"/></g>
<g transform="translate(2558.5,569.3) rotate(-90) scale(0.71)"><use href="#g31"/><use href="#g31" x="20.22"/></g>
<g transform="translate(2542.5,653.98) rotate(-90) scale(0.71)"><use href="#g41"/><use href="#g4e" x="18.2"/><use href="#g4f" x="40.44"/><use href="#g44" x="62.68"/><use href="#g45" x="83.91"/></g>
<g transform="translate(2572.5,653.98) rotate(-90) scale(0.71)"><use href="#g41"/><use href="#g4e" x="18.2"/><use href="#g4f" x="40.44"/><use href="#g44" x="62.68"/><use href="#g45" x="83.91"/></g>
<g transform="translate(2426.22,687.83) scale(0.71)"><use href="#g6f"/><use href="#g73" x="19.21"/><use href="#g6c" x="36.4"/><use href="#g31" x="45.5"/><use href="#g31" x="65.72"/><use href="#g30" x="85.94"/><use href="#g30" x="106.16"/><use href="#g31" x="126.38"/><use href="#g2d" x="146.6"/><use href="#g68" x="172.89"/><use href="#g30" x="192.1"/></g>
<g transform="translate(2452.5,723.97) rotate(-90) scale(0.71)"><use href="#g41"/></g>
<g transform="translate(2441,756.87) rotate(-90) scale(0.71)"><use href="#g39"/></g>
<g transform="translate(2482.5,726.06) rotate(-90) scale(0.71)"><use href="#g42"/></g>
<g transform="translate(2471,757.04) rotate(-90) scale(0.71)"><use href="#g38"/></g>
<g transform="translate(2512.5,726.06) rotate(-90) scale(0.71)"><use href="#g43"/></g>
<g transform="translate(2501,757.04) rotate(-90) scale(0.71)"><use href="#g35"/></g>
<g transform="translate(2542.5,726.06) rotate(-90) scale(0.71)"><use href="#g44"/></g>
<g transform="translate(2531,757.04) rotate(-90) scale(0.71)"><use href="#g32"/></g>
<g transform="translate(2572.5,726) rotate(-90) scale(0.71)"><use href="#g45"/></g>
<g transform="translate(2561,757.04) rotate(-90) scale(0.71)"><use href="#g31"/></g>
<g transform="translate(2602.5,725.97) rotate(-90) scale(0.71)"><use href="#g46"/></g>
<g transform="translate(2591,764.42) rotate(-90) scale(0.71)"><use href="#g31"/><use href="#g32" x="20.22"/></g>
<g transform="translate(2632.5,726.06) rotate(-90) scale(0.71)"><use href="#g47"/></g>
<g transform="translate(2621,764.76) rotate(-90) scale(0.71)"><use href="#g31"/><use href="#g34" x="20.22"/></g>
<g transform="translate(2662.5,726.06) rotate(-90) scale(0.71)"><use href="#g44"/><use href="#g50" x="21.23"/></g>
<g transform="translate(2651,757.2) rotate(-90) scale(0.71)"><use href="#g36"/></g>
<g transform="translate(2934.04,277.93) scale(0.71)"><use href="#g56"/><use href="#g44" x="18.2"/><use href="#g44" x="39.43"/></g>
<g transform="translate(2834,382.28) rotate(-90) scale(0.71)"><use href="#g52"/><use href="#g33" x="21.23"/><use href="#g37" x="41.45"/></g>
<g transform="translate(2834,428.39) rotate(-90) scale(0.71)"><use href="#g33"/><use href="#g33" x="20.22"/><use href="#g32" x="40.44"/></g>
<g transform="translate(2614.93,457.89) scale(0.71)"><use href="#g5f"/><use href="#g37" x="16.18"/><use href="#g7a" x="36.4"/><use href="#g65" x="53.59"/><use href="#g67" x="71.79"/><use href="#g4d" x="91"/><use href="#g31" x="115.26"/></g>
<g transform="translate(2767.79,397.9) scale(0.71)"><use href="#g52"/><use href="#g33" x="21.23"/><use href="#g36" x="41.45"/></g>
<g transform="translate(2768,426.89) scale(0.71)"><use href="#g31"/><use href="#g30" x="20.22"/><use href="#g33" x="40.44"/></g>
<g transform="translate(2872.78,445.89) scale(0.71)"><use href="#g31"/></g>
<g transform="translate(2950.5,412.12) rotate(-90) scale(0.71)"><use href="#g32"/></g>
<g transform="translate(2950.5,503.1) rotate(-90) scale(0.71)"><use href="#g33"/></g>
<g transform="translate(2961.79,412.9) scale(0.71)"><use href="#g32"/><use href="#g53" x="20.22"/><use href="#g41" x="40.44"/><use href="#g31" x="58.64"/><use href="#g31" x="78.86"/><use href="#g36" x="99.08"/><use href="#g32" x="119.3"/></g>
<g transform="translate(2976.77,436.39) scale(0.71)"><use href="#g51"/><use href="#g31" x="22.24"/><use href="#g30" x="42.46"/></g>
<g transform="translate(2948.5,562.08) rotate(-90) scale(0.71)"><use href="#g34"/></g>
<g transform="translate(2978.5,569.3) rotate(-90) scale(0.71)"><use href="#g31"/><use href="#g31" x="20.22"/></g>
<g transform="translate(2962.5,653.98) rotate(-90) scale(0.71)"><use href="#g41"/><use href="#g4e" x="18.2"/><use href="#g4f" x="40.44"/><use href="#g44" x="62.68"/><use href="#g45" x="83.91"/></g>
<g transform="translate(2992.5,653.98) rotate(-90) scale(0.71)"><use href="#g41"/><use href="#g4e" x="18.2"/><use href="#g4f" x="40.44"/><use href="#g44" x="62.68"/><use href="#g45" x="83.91"/></g>
<g transform="translate(2839.82,687.83) scale(0.71)"><use href="#g6f"/><use href="#g73" x="19.21"/><use href="#g6c" x="36.4"/><use href="#g31" x="45.5"/><use href="#g31" x="65.72"/><use href="#g30" x="85.94"/><use href="#g30" x="106.16"/><use href="#g31" x="126.38"/><use href="#g2d" x="146.6"/><use href="#g6d" x="172.89"/><use href="#g31" x="203.22"/></g>
<g transform="translate(2872.5,723.97) rotate(-90) scale(0.71)"><use href="#g41"/></g>
<g transform="translate(2861,756.87) rotate(-90) scale(0.71)"><use href="#g39"/></g>
<g transform="translate(2902.5,726.06) rotate(-90) scale(0.71)"><use href="#g42"/></g>
<g transform="translate(2891,757.04) rotate(-90) scale(0.71)"><use href="#g38"/></g>
<g transform="translate(2932.5,726.06) rotate(-90) scale(0.71)"><use href="#g43"/></g>
<g transform="translate(2921,757.04) rotate(-90) scale(0.71)"><use href="#g35"/></g>
<g transform="translate(2962.5,726.06) rotate(-90) scale(0.71)"><use href="#g44"/></g>
<g transform="translate(2951,757.04) rotate(-90) scale(0.71)"><use href="#g32"/></g>
<g transform="translate(2992.5,726) rotate(-90) scale(0.71)"><use href="#g45"/></g>
<g transform="translate(2981,757.04) rotate(-90) scale(0.71)"><use href="#g31"/></g>
<g transform="translate(3022.5,725.97) rotate(-90) scale(0.71)"><use href="#g46"/></g>
<g transform="translate(3011,764.42) rotate(-90) scale(0.71)"><use href="#g31"/><use href="#g32" x="20.22"/></g>
<g transform="translate(3052.5,726.06) rotate(-90) scale(0.71)"><use href="#g47"/></g>
<g transform="translate(3041,764.76) rotate(-90) scale(0.71)"><use href="#g31"/><use href="#g34" x="20.22"/></g>
<g transform="translate(3082.5,726.06) rotate(-90) scale(0.71)"><use href="#g44"/><use href="#g50" x="21.23"/></g>
<g transform="translate(3071,757.2) rotate(-90) scale(0.71)"><use href="#g36"/></g>
<g transform="translate(3339.04,277.93) scale(0.71)"><use href="#g56"/><use href="#g44" x="18.2"/><use href="#g44" x="39.43"/></g>
<g transform="translate(3239,381.95) rotate(-90) scale(0.71)"><use href="#g52"/><use href="#g33" x="21.23"/><use href="#g39" x="41.45"/></g>
<g transform="translate(3239,428.39) rotate(-90) scale(0.71)"><use href="#g33"/><use href="#g33" x="20.22"/><use href="#g32" x="40.44"/></g>
<g transform="translate(3019.93,457.89) scale(0.71)"><use href="#g5f"/><use href="#g37" x="16.18"/><use href="#g7a" x="36.4"/><use href="#g65" x="53.59"/><use href="#g67" x="71.79"/><use href="#g4d" x="91"/><use href="#g30" x="115.26"/></g>
<g transform="translate(3172.79,397.9) scale(0.71)"><use href="#g52"/><use href="#g33" x="21.23"/><use href="#g38" x="41.45"/></g>
<g transform="translate(3173,426.89) scale(0.71)"><use href="#g31"/><use href="#g30" x="20.22"/><use href="#g33" x="40.44"/></g>
<g transform="translate(3277.78,445.89) scale(0.71)"><use href="#g31"/></g>
<g transform="translate(3355.5,412.12) rotate(-90) scale(0.71)"><use href="#g32"/></g>
<g transform="translate(3355.5,503.1) rotate(-90) scale(0.71)"><use href="#g33"/></g>
<g transform="translate(3363.39,412.9) scale(0.71)"><use href="#g32"/><use href="#g53" x="20.22"/><use href="#g41" x="40.44"/><use href="#g31" x="58.64"/><use href="#g31" x="78.86"/><use href="#g36" x="99.08"/><use href="#g32" x="119.3"/></g>
<g transform="translate(3376.07,434.39) scale(0.71)"><use href="#g51"/><use href="#g31" x="22.24"/><use href="#g31" x="42.46"/></g>
<g transform="translate(3353.5,562.08) rotate(-90) scale(0.71)"><use href="#g34"/></g>
<g transform="translate(3383.5,569.3) rotate(-90) scale(0.71)"><use href="#g31"/><use href="#g31" x="20.22"/></g>
<g transform="translate(3367.5,653.98) rotate(-90) scale(0.71)"><use href="#g41"/><use href="#g4e" x="18.2"/><use href="#g4f" x="40.44"/><use href="#g44" x="62.68"/><use href="#g45" x="83.91"/></g>
<g transform="translate(3397.5,653.98) rotate(-90) scale(0.71)"><use href="#g41"/><use href="#g4e" x="18.2"/><use href="#g4f" x="40.44"/><use href="#g44" x="62.68"/><use href="#g45" x="83.91"/></g>
<g transform="translate(3245.12,687.83) scale(0.71)"><use href="#g6f"/><use href="#g73" x="19.21"/><use href="#g6c" x="36.4"/><use href="#g31" x="45.5"/><use href="#g31" x="65.72"/><use href="#g30" x="85.94"/><use href="#g30" x="106.16"/><use href="#g31" x="126.38"/><use href="#g2d" x="146.6"/><use href="#g6d" x="172.89"/><use href="#g30" x="203.22"/></g>
<g transform="translate(3277.5,723.97) rotate(-90) scale(0.71)"><use href="#g41"/></g>
<g transform="translate(3266,756.87) rotate(-90) scale(0.71)"><use href="#g39"/></g>
<g transform="translate(3307.5,726.06) rotate(-90) scale(0.71)"><use href="#g42"/></g>
<g transform="translate(3296,757.04) rotate(-90) scale(0.71)"><use href="#g38"/></g>
<g transform="translate(3337.5,726.06) rotate(-90) scale(0.71)"><use href="#g43"/></g>
<g transform="translate(3326,757.04) rotate(-90) scale(0.71)"><use href="#g35"/></g>
<g transform="translate(3367.5,726.06) rotate(-90) scale(0.71)"><use href="#g44"/></g>
<g transform="translate(3356,757.04) rotate(-90) scale(0.71)"><use href="#g32"/></g>
<g transform="translate(3397.5,726) rotate(-90) scale(0.71)"><use href="#g45"/></g>
<g transform="translate(3386,757.04) rotate(-90) scale(0.71)"><use href="#g31"/></g>
<g transform="translate(3427.5,725.97) rotate(-90) scale(0.71)"><use href="#g46"/></g>
<g transform="translate(3416,764.42) rotate(-90) scale(0.71)"><use href="#g31"/><use href="#g32" x="20.22"/></g>
<g transform="translate(3457.5,726.06) rotate(-90) scale(0.71)"><use href="#g47"/></g>
<g transform="translate(3446,764.76) rotate(-90) scale(0.71)"><use href="#g31"/><use href="#g34" x="20.22"/></g>
<g transform="translate(3487.5,726.06) rotate(-90) scale(0.71)"><use href="#g44"/><use href="#g50" x="21.23"/></g>
<g transform="translate(3476,757.2) rotate(-90) scale(0.71)"><use href="#g36"/></g>
<g transform="translate(3744.04,277.93) scale(0.71)"><use href="#g56"/><use href="#g44" x="18.2"/><use href="#g44" x="39.43"/></g>
<g transform="translate(3644,382.28) rotate(-90) scale(0.71)"><use href="#g52"/><use href="#g34" x="21.23"/><use href="#g34" x="41.45"/></g>
<g transform="translate(3644,428.39) rotate(-90) scale(0.71)"><use href="#g33"/><use href="#g33" x="20.22"/><use href="#g32" x="40.44"/></g>
<g transform="translate(3427.81,457.89) scale(0.71)"><use href="#g5f"/><use href="#g37" x="16.18"/><use href="#g7a" x="36.4"/><use href="#g65" x="53.59"/><use href="#g67" x="71.79"/><use href="#g53" x="91"/><use href="#g31" x="111.22"/></g>
<g transform="translate(3578.13,397.9) scale(0.71)"><use href="#g52"/><use href="#g34" x="21.23"/><use href="#g31" x="41.45"/></g>
<g transform="translate(3578,426.89) scale(0.71)"><use href="#g31"/><use href="#g30" x="20.22"/><use href="#g33" x="40.44"/></g>
<g transform="translate(3682.78,445.89) scale(0.71)"><use href="#g31"/></g>
<g transform="translate(3760.5,412.12) rotate(-90) scale(0.71)"><use href="#g32"/></g>
<g transform="translate(3760.5,503.1) rotate(-90) scale(0.71)"><use href="#g33"/></g>
<g transform="translate(3768.79,412.9) scale(0.71)"><use href="#g32"/><use href="#g53" x="20.22"/><use href="#g41" x="40.44"/><use href="#g31" x="58.64"/><use href="#g31" x="78.86"/><use href="#g36" x="99.08"/><use href="#g32" x="119.3"/></g>
<g transform="translate(3779.07,434.39) scale(0.71)"><use href="#g51"/><use href="#g31" x="22.24"/><use href="#g32" x="42.46"/></g>
<g transform="translate(3758.5,562.08) rotate(-90) scale(0.71)"><use href="#g34"/></g>
<g transform="translate(3788.5,569.3) rotate(-90) scale(0.71)"><use href="#g31"/><use href="#g31" x="20.22"/></g>
<g transform="translate(3772.5,653.98) rotate(-90) scale(0.71)"><use href="#g41"/><use href="#g4e" x="18.2"/><use href="#g4f" x="40.44"/><use href="#g44" x="62.68"/><use href="#g45" x="83.91"/></g>
<g transform="translate(3802.5,653.98) rotate(-90) scale(0.71)"><use href="#g41"/><use href="#g4e" x="18.2"/><use href="#g4f" x="40.44"/><use href="#g44" x="62.68"/><use href="#g45" x="83.91"/></g>
<g transform="translate(3658.22,687.83) scale(0.71)"><use href="#g6f"/><use href="#g73" x="19.21"/><use href="#g6c" x="36.4"/><use href="#g31" x="45.5"/><use href="#g31" x="65.72"/><use href="#g30" x="85.94"/><use href="#g30" x="106.16"/><use href="#g31" x="126.38"/><use href="#g2d" x="146.6"/><use href="#g73" x="172.89"/><use href="#g31" x="190.08"/></g>
<g transform="translate(3682.5,723.97) rotate(-90) scale(0.71)"><use href="#g41"/></g>
<g transform="translate(3671,756.87) rotate(-90) scale(0.71)"><use href="#g39"/></g>
<g transform="translate(3712.5,726.06) rotate(-90) scale(0.71)"><use href="#g42"/></g>
<g transform="translate(3701,757.04) rotate(-90) scale(0.71)"><use href="#g38"/></g>
<g transform="translate(3742.5,726.06) rotate(-90) scale(0.71)"><use href="#g43"/></g>
<g transform="translate(3731,757.04) rotate(-90) scale(0.71)"><use href="#g35"/></g>
<g transform="translate(3772.5,726.06) rotate(-90) scale(0.71)"><use href="#g44"/></g>
<g transform="translate(3761,757.04) rotate(-90) scale(0.71)"><use href="#g32"/></g>
<g transform="translate(3802.5,726) rotate(-90) scale(0.71)"><use href="#g45"/></g>
<g transform="translate(3791,757.04) rotate(-90) scale(0.71)"><use href="#g31"/></g>
<g transform="translate(3832.5,725.97) rotate(-90) scale(0.71)"><use href="#g46"/></g>
<g transform="translate(3821,764.42) rotate(-90) scale(0.71)"><use href="#g31"/><use href="#g32" x="20.22"/></g>
<g transform="translate(3862.5,726.06) rotate(-90) scale(0.71)"><use href="#g47"/></g>
<g transform="translate(3851,764.76) rotate(-90) scale(0.71)"><use href="#g31"/><use href="#g34" x="20.22"/></g>
<g transform="translate(3892.5,726.06) rotate(-90) scale(0.71)"><use href="#g44"/><use href="#g50" x="21.23"/></g>
<g transform="translate(3881,757.2) rotate(-90) scale(0.71)"><use href="#g36"/></g>
<g transform="translate(4134.04,277.93) scale(0.71)"><use href="#g56"/><use href="#g44" x="18.2"/><use href="#g44" x="39.43"/></g>
<g transform="translate(4034,382.11) rotate(-90) scale(0.71)"><use href="#g52"/><use href="#g34" x="21.23"/><use href="#g38" x="41.45"/></g>
<g transform="translate(4034,428.39) rotate(-90) scale(0.71)"><use href="#g33"/><use href="#g33" x="20.22"/><use href="#g32" x="40.44"/></g>
<g transform="translate(3817.81,457.89) scale(0.71)"><use href="#g5f"/><use href="#g37" x="16.18"/><use href="#g7a" x="36.4"/><use href="#g65" x="53.59"/><use href="#g67" x="71.79"/><use href="#g53" x="91"/><use href="#g30" x="111.22"/></g>
<g transform="translate(3967.79,397.9) scale(0.71)"><use href="#g52"/><use href="#g34" x="21.23"/><use href="#g36" x="41.45"/></g>
<g transform="translate(3968,426.89) scale(0.71)"><use href="#g31"/><use href="#g30" x="20.22"/><use href="#g33" x="40.44"/></g>
<g transform="translate(4072.78,445.89) scale(0.71)"><use href="#g31"/></g>
<g transform="translate(4150.5,412.12) rotate(-90) scale(0.71)"><use href="#g32"/></g>
<g transform="translate(4150.5,503.1) rotate(-90) scale(0.71)"><use href="#g33"/></g>
<g transform="translate(4162.19,415.9) scale(0.71)"><use href="#g32"/><use href="#g53" x="20.22"/><use href="#g41" x="40.44"/><use href="#g31" x="58.64"/><use href="#g31" x="78.86"/><use href="#g36" x="99.08"/><use href="#g32" x="119.3"/></g>
<g transform="translate(4171.57,436.39) scale(0.71)"><use href="#g51"/><use href="#g31" x="22.24"/><use href="#g33" x="42.46"/></g>
<g transform="translate(4148.5,562.08) rotate(-90) scale(0.71)"><use href="#g34"/></g>
<g transform="translate(4178.5,569.3) rotate(-90) scale(0.71)"><use href="#g31"/><use href="#g31" x="20.22"/></g>
<g transform="translate(4162.5,653.98) rotate(-90) scale(0.71)"><use href="#g41"/><use href="#g4e" x="18.2"/><use href="#g4f" x="40.44"/><use href="#g44" x="62.68"/><use href="#g45" x="83.91"/></g>
<g transform="translate(4192.5,653.98) rotate(-90) scale(0.71)"><use href="#g41"/><use href="#g4e" x="18.2"/><use href="#g4f" x="40.44"/><use href="#g44" x="62.68"/><use href="#g45" x="83.91"/></g>
<g transform="translate(4047.82,687.83) scale(0.71)"><use href="#g6f"/><use href="#g73" x="19.21"/><use href="#g6c" x="36.4"/><use href="#g31" x="45.5"/><use href="#g31" x="65.72"/><use href="#g30" x="85.94"/><use href="#g30" x="106.16"/><use href="#g31" x="126.38"/><use href="#g2d" x="146.6"/><use href="#g73" x="172.89"/><use href="#g30" x="190.08"/></g>
<g transform="translate(4072.5,723.97) rotate(-90) scale(0.71)"><use href="#g41"/></g>
<g transform="translate(4061,756.87) rotate(-90) scale(0.71)"><use href="#g39"/></g>
<g transform="translate(4102.5,726.06) rotate(-90) scale(0.71)"><use href="#g42"/></g>
<g transform="translate(4091,757.04) rotate(-90) scale(0.71)"><use href="#g38"/></g>
<g transform="translate(4132.5,726.06) rotate(-90) scale(0.71)"><use href="#g43"/></g>
<g transform="translate(4121,757.04) rotate(-90) scale(0.71)"><use href="#g35"/></g>
<g transform="translate(4162.5,726.06) rotate(-90) scale(0.71)"><use href="#g44"/></g>
<g transform="translate(4151,757.04) rotate(-90) scale(0.71)"><use href="#g32"/></g>
<g transform="translate(4192.5,726) rotate(-90) scale(0.71)"><use href="#g45"/></g>
<g transform="translate(4181,757.04) rotate(-90) scale(0.71)"><use href="#g31"/></g>
<g transform="translate(4222.5,725.97) rotate(-90) scale(0.71)"><use href="#g46"/></g>
<g transform="translate(4211,764.42) rotate(-90) scale(0.71)"><use href="#g31"/><use href="#g32" x="20.22"/></g>
<g transform="translate(4252.5,726.06) rotate(-90) scale(0.71)"><use href="#g47"/></g>
<g transform="translate(4241,764.76) rotate(-90) scale(0.71)"><use href="#g31"/><use href="#g34" x="20.22"/></g>
<g transform="translate(4282.5,726.06) rotate(-90) scale(0.71)"><use href="#g44"/><use href="#g50" x="21.23"/></g>
<g transform="translate(4271,757.2) rotate(-90) scale(0.71)"><use href="#g36"/></g>
<g transform="translate(4539.04,277.93) scale(0.71)"><use href="#g56"/><use href="#g44" x="18.2"/><use href="#g44" x="39.43"/></g>
<g transform="translate(4439,382.28) rotate(-90) scale(0.71)"><use href="#g52"/><use href="#g35" x="21.23"/><use href="#g37" x="41.45"/></g>
<g transform="translate(4439,428.39) rotate(-90) scale(0.71)"><use href="#g33"/><use href="#g33" x="20.22"/><use href="#g32" x="40.44"/></g>
<g transform="translate(4230.04,457.89) scale(0.71)"><use href="#g5f"/><use href="#g37" x="16.18"/><use href="#g7a" x="36.4"/><use href="#g65" x="53.59"/><use href="#g67" x="71.79"/><use href="#g2e" x="91"/><use href="#g30" x="101.11"/></g>
<g transform="translate(4372.79,397.9) scale(0.71)"><use href="#g52"/><use href="#g35" x="21.23"/><use href="#g36" x="41.45"/></g>
<g transform="translate(4373,426.89) scale(0.71)"><use href="#g31"/><use href="#g30" x="20.22"/><use href="#g33" x="40.44"/></g>
<g transform="translate(4477.78,445.89) scale(0.71)"><use href="#g31"/></g>
<g transform="translate(4555.5,412.12) rotate(-90) scale(0.71)"><use href="#g32"/></g>
<g transform="translate(4555.5,503.1) rotate(-90) scale(0.71)"><use href="#g33"/></g>
<g transform="translate(4564.49,412.9) scale(0.71)"><use href="#g32"/><use href="#g53" x="20.22"/><use href="#g41" x="40.44"/><use href="#g31" x="58.64"/><use href="#g31" x="78.86"/><use href="#g36" x="99.08"/><use href="#g32" x="119.3"/></g>
<g transform="translate(4575.87,434.39) scale(0.71)"><use href="#g51"/><use href="#g31" x="22.24"/><use href="#g34" x="42.46"/></g>
<g transform="translate(4553.5,562.08) rotate(-90) scale(0.71)"><use href="#g33"/></g>
<g transform="translate(4583.5,562.08) rotate(-90) scale(0.71)"><use href="#g38"/></g>
<g transform="translate(4567.5,653.98) rotate(-90) scale(0.71)"><use href="#g41"/><use href="#g4e" x="18.2"/><use href="#g4f" x="40.44"/><use href="#g44" x="62.68"/><use href="#g45" x="83.91"/></g>
<g transform="translate(4597.5,653.98) rotate(-90) scale(0.71)"><use href="#g41"/><use href="#g4e" x="18.2"/><use href="#g4f" x="40.44"/><use href="#g44" x="62.68"/><use href="#g45" x="83.91"/></g>
<g transform="translate(4452.52,685.33) scale(0.71)"><use href="#g61"/><use href="#g35" x="19.21"/><use href="#g35" x="39.43"/><use href="#g31" x="59.65"/><use href="#g73" x="79.87"/><use href="#g72" x="97.06"/><use href="#g64" x="110.2"/><use href="#g31" x="129.41"/></g>
<g transform="translate(4477.5,723.97) rotate(-90) scale(0.71)"><use href="#g41"/></g>
<g transform="translate(4466,757.04) rotate(-90) scale(0.71)"><use href="#g37"/></g>
<g transform="translate(4507.5,726.06) rotate(-90) scale(0.71)"><use href="#g42"/></g>
<g transform="translate(4496,757.2) rotate(-90) scale(0.71)"><use href="#g36"/></g>
<g transform="translate(4537.5,726.06) rotate(-90) scale(0.71)"><use href="#g43"/></g>
<g transform="translate(4526,757.04) rotate(-90) scale(0.71)"><use href="#g34"/></g>
<g transform="translate(4567.5,726.06) rotate(-90) scale(0.71)"><use href="#g44"/></g>
<g transform="translate(4556,757.04) rotate(-90) scale(0.71)"><use href="#g32"/></g>
<g transform="translate(4597.5,726) rotate(-90) scale(0.71)"><use href="#g45"/></g>
<g transform="translate(4586,757.04) rotate(-90) scale(0.71)"><use href="#g31"/></g>
<g transform="translate(4627.5,725.97) rotate(-90) scale(0.71)"><use href="#g46"/></g>
<g transform="translate(4616,756.87) rotate(-90) scale(0.71)"><use href="#g39"/></g>
<g transform="translate(4657.5,726.06) rotate(-90) scale(0.71)"><use href="#g47"/></g>
<g transform="translate(4646,764.42) rotate(-90) scale(0.71)"><use href="#g31"/><use href="#g30" x="20.22"/></g>
<g transform="translate(4687.5,726.06) rotate(-90) scale(0.71)"><use href="#g44"/><use href="#g50" x="21.23"/></g>
<g transform="translate(4676,757.04) rotate(-90) scale(0.71)"><use href="#g35"/></g>
<g transform="translate(4310.21,789.81) scale(0.71)"><use href="#g33"/><use href="#g33" x="20.22"/><use href="#g31" x="40.44"/></g>
<g transform="translate(4409.26,789.81) scale(0.71)"><use href="#g52"/><use href="#g34" x="21.23"/><use href="#g39" x="41.45"/></g>
<g transform="translate(4310.21,819.8) scale(0.71)"><use href="#g33"/><use href="#g33" x="20.22"/><use href="#g31" x="40.44"/></g>
<g transform="translate(4409.26,819.8) scale(0.71)"><use href="#g52"/><use href="#g35" x="21.23"/><use href="#g30" x="41.45"/></g>
<g transform="translate(4310.21,849.79) scale(0.71)"><use href="#g33"/><use href="#g33" x="20.22"/><use href="#g31" x="40.44"/></g>
<g transform="translate(4409.26,849.79) scale(0.71)"><use href="#g52"/><use href="#g35" x="21.23"/><use href="#g31" x="41.45"/></g>
<g transform="translate(4310.21,879.78) scale(0.71)"><use href="#g33"/><use href="#g33" x="20.22"/><use href="#g31" x="40.44"/></g>
<g transform="translate(4409.26,879.78) scale(0.71)"><use href="#g52"/><use href="#g35" x="21.23"/><use href="#g32" x="41.45"/></g>
<g transform="translate(4310.21,909.78) scale(0.71)"><use href="#g33"/><use href="#g33" x="20.22"/><use href="#g31" x="40.44"/></g>
<g transform="translate(4409.26,909.78) scale(0.71)"><use href="#g52"/><use href="#g35" x="21.23"/><use href="#g33" x="41.45"/></g>
<g transform="translate(4310.21,939.77) scale(0.71)"><use href="#g33"/><use href="#g33" x="20.22"/><use href="#g31" x="40.44"/></g>
<g transform="translate(4409.26,939.77) scale(0.71)"><use href="#g52"/><use href="#g35" x="21.23"/><use href="#g34" x="41.45"/></g>
<g transform="translate(4310.21,969.76) scale(0.71)"><use href="#g33"/><use href="#g33" x="20.22"/><use href="#g31" x="40.44"/></g>
<g transform="translate(4409.26,969.76) scale(0.71)"><use href="#g52"/><use href="#g35" x="21.23"/><use href="#g35" x="41.45"/></g>
<g transform="translate(953.06,1342.67) scale(0.71)"><use href="#g4f"/><use href="#g53" x="22.24"/><use href="#g43" x="42.46"/><use href="#g31" x="63.69"/></g>
<g transform="translate(1327,1342.67) scale(0.71)"><use href="#g4f"/><use href="#g53" x="22.24"/><use href="#g43" x="42.46"/><use href="#g32" x="63.69"/></g>
<g transform="translate(1245.18,1281.68) scale(0.71)"><use href="#g52"/><use href="#g32" x="21.23"/></g>
<g transform="translate(1238.67,1311.68) scale(0.71)"><use href="#g33"/><use href="#g30" x="20.22"/><use href="#g31" x="40.44"/></g>
<g transform="translate(1112.47,1251.69) scale(0.71)"><use href="#g59"/><use href="#g31" x="18.2"/></g>
<g transform="translate(1094.83,1281.68) scale(0.71)"><use href="#g38"/><use href="#g4d" x="20.22"/><use href="#g48" x="44.48"/><use href="#g7a" x="66.72"/></g>
<g transform="translate(1093,1387.64) rotate(-90) scale(0.71)"><use href="#g43"/><use href="#g33" x="21.23"/></g>
<g transform="translate(1093,1437.81) rotate(-90) scale(0.71)"><use href="#g32"/><use href="#g32" x="20.22"/><use href="#g30" x="40.44"/></g>
<g transform="translate(1243,1387.81) rotate(-90) scale(0.71)"><use href="#g43"/><use href="#g34" x="21.23"/></g>
<g transform="translate(1243,1437.81) rotate(-90) scale(0.71)"><use href="#g32"/><use href="#g32" x="20.22"/><use href="#g30" x="40.44"/></g>
<g transform="translate(1101.56,1536.62) scale(0.71)"><use href="#g47"/><use href="#g4e" x="21.23"/><use href="#g44" x="43.47"/></g>
<g transform="translate(1029.21,1620.6) scale(0.71)"><use href="#g56"/><use href="#g43" x="18.2"/><use href="#g43" x="39.43"/></g>
<g transform="translate(1230.5,1691.23) rotate(-90) scale(0.71)"><use href="#g52"/><use href="#g31" x="21.23"/></g>
<g transform="translate(1230.5,1746.07) rotate(-90) scale(0.71)"><use href="#g31"/><use href="#g30" x="20.22"/><use href="#g33" x="40.44"/></g>
<g transform="translate(1091.51,1777.56) scale(0.71)"><use href="#g5f"/><use href="#g4d" x="16.18"/><use href="#g43" x="40.44"/><use href="#g4c" x="61.67"/><use href="#g52" x="78.86"/></g>
<g transform="translate(1026.56,1986.51) scale(0.71)"><use href="#g47"/><use href="#g4e" x="21.23"/><use href="#g44" x="43.47"/></g>
<g transform="translate(1102.01,1867.54) scale(0.71)"><use href="#g49"/><use href="#g43" x="9.1"/><use href="#g53" x="30.33"/><use href="#g50" x="50.55"/><use href="#g44" x="71.78"/><use href="#g41" x="93.01"/><use href="#g54" x="111.21"/></g>
<g transform="translate(1099.12,1897.53) scale(0.71)"><use href="#g49"/><use href="#g43" x="9.1"/><use href="#g53" x="30.33"/><use href="#g50" x="50.55"/><use href="#g43" x="71.78"/><use href="#g4c" x="93.01"/><use href="#g4b" x="110.2"/></g>
<g transform="translate(1245.28,1766.07) scale(0.71)"><use href="#g31"/></g>
<g transform="translate(1245.28,1796.06) scale(0.71)"><use href="#g32"/></g>
<g transform="translate(1245.28,1826.05) scale(0.71)"><use href="#g33"/></g>
<g transform="translate(1245.28,1856.04) scale(0.71)"><use href="#g34"/></g>
<g transform="translate(1245.28,1886.04) scale(0.71)"><use href="#g35"/></g>
<g transform="translate(1245.11,1916.03) scale(0.71)"><use href="#g36"/></g>
<g transform="translate(1321.7,1836.55) scale(0.71)"><use href="#g4a"/><use href="#g31" x="16.18"/></g>
<g transform="translate(1321.56,1866.54) scale(0.71)"><use href="#g49"/><use href="#g43" x="9.1"/><use href="#g53" x="30.33"/><use href="#g50" x="50.55"/></g>
<g transform="translate(1884.04,1189.21) scale(0.71)"><use href="#g56"/><use href="#g44" x="18.2"/><use href="#g44" x="39.43"/></g>
<g transform="translate(1939,1308.55) rotate(-90) scale(0.71)"><use href="#g52"/><use href="#g31" x="21.23"/><use href="#g31" x="41.45"/></g>
<g transform="translate(1966,1308.17) rotate(-90) scale(0.71)"><use href="#g33"/><use href="#g33" x="20.22"/><use href="#g32" x="40.44"/></g>
<g transform="translate(1699.11,1342.67) scale(0.71)"><use href="#g5f"/><use href="#g37" x="16.18"/><use href="#g7a" x="36.4"/><use href="#g65" x="53.59"/><use href="#g67" x="71.79"/><use href="#g53" x="91"/><use href="#g31" x="111.22"/></g>
<g transform="translate(1972.78,1405.65) scale(0.71)"><use href="#g31"/></g>
<g transform="translate(1900.5,1371.88) rotate(-90) scale(0.71)"><use href="#g33"/></g>
<g transform="translate(1900.5,1461.86) rotate(-90) scale(0.71)"><use href="#g32"/></g>
<g transform="translate(1907.79,1361.66) scale(0.71)"><use href="#g32"/><use href="#g53" x="20.22"/><use href="#g43" x="40.44"/><use href="#g32" x="61.67"/><use href="#g37" x="81.89"/><use href="#g31" x="102.11"/><use href="#g32" x="122.33"/></g>
<g transform="translate(1944.07,1383.66) scale(0.71)"><use href="#g51"/><use href="#g31" x="22.24"/></g>
<g transform="translate(1942.96,1463.64) scale(0.71)"><use href="#g52"/><use href="#g31" x="21.23"/><use href="#g39" x="41.45"/></g>
<g transform="translate(1943,1484.63) scale(0.71)"><use href="#g31"/><use href="#g30" x="20.22"/><use href="#g33" x="40.44"/></g>
<g transform="translate(2032.62,1356.67) scale(0.71)"><use href="#g52"/><use href="#g32" x="21.23"/><use href="#g37" x="41.45"/></g>
<g transform="translate(2033,1385.66) scale(0.71)"><use href="#g31"/><use href="#g30" x="20.22"/><use href="#g33" x="40.44"/></g>
<g transform="translate(1939,1593.65) rotate(-90) scale(0.71)"><use href="#g52"/><use href="#g31" x="21.23"/><use href="#g32" x="41.45"/></g>
<g transform="translate(1966,1593.1) rotate(-90) scale(0.71)"><use href="#g33"/><use href="#g33" x="20.22"/><use href="#g32" x="40.44"/></g>
<g transform="translate(1699.11,1627.6) scale(0.71)"><use href="#g5f"/><use href="#g37" x="16.18"/><use href="#g7a" x="36.4"/><use href="#g65" x="53.59"/><use href="#g67" x="71.79"/><use href="#g53" x="91"/><use href="#g30" x="111.22"/></g>
<g transform="translate(1972.78,1690.58) scale(0.71)"><use href="#g31"/></g>
<g transform="translate(1900.5,1656.81) rotate(-90) scale(0.71)"><use href="#g33"/></g>
<g transform="translate(1900.5,1746.79) rotate(-90) scale(0.71)"><use href="#g32"/></g>
<g transform="translate(1913.29,1646.59) scale(0.71)"><use href="#g32"/><use href="#g53" x="20.22"/><use href="#g43" x="40.44"/><use href="#g32" x="61.67"/><use href="#g37" x="81.89"/><use href="#g31" x="102.11"/><use href="#g32" x="122.33"/></g>
<g transform="translate(1944.07,1668.59) scale(0.71)"><use href="#g51"/><use href="#g32" x="22.24"/></g>
<g transform="translate(1942.96,1748.57) scale(0.71)"><use href="#g52"/><use href="#g32" x="21.23"/><use href="#g30" x="41.45"/></g>
<g transform="translate(1943,1769.56) scale(0.71)"><use href="#g31"/><use href="#g30" x="20.22"/><use href="#g33" x="40.44"/></g>
<g transform="translate(2032.79,1641.6) scale(0.71)"><use href="#g52"/><use href="#g32" x="21.23"/><use href="#g38" x="41.45"/></g>
<g transform="translate(2033,1670.59) scale(0.71)"><use href="#g31"/><use href="#g30" x="20.22"/><use href="#g33" x="40.44"/></g>
<g transform="translate(1939,1878.74) rotate(-90) scale(0.71)"><use href="#g52"/><use href="#g31" x="21.23"/><use href="#g33" x="41.45"/></g>
<g transform="translate(1966,1878.03) rotate(-90) scale(0.71)"><use href="#g33"/><use href="#g33" x="20.22"/><use href="#g32" x="40.44"/></g>
<g transform="translate(1706.34,1912.53) scale(0.71)"><use href="#g5f"/><use href="#g37" x="16.18"/><use href="#g7a" x="36.4"/><use href="#g65" x="53.59"/><use href="#g67" x="71.79"/><use href="#g2e" x="91"/><use href="#g30" x="101.11"/></g>
<g transform="translate(1972.78,1975.51) scale(0.71)"><use href="#g31"/></g>
<g transform="translate(1900.5,1941.74) rotate(-90) scale(0.71)"><use href="#g33"/></g>
<g transform="translate(1900.5,2031.72) rotate(-90) scale(0.71)"><use href="#g32"/></g>
<g transform="translate(1907.79,1931.52) scale(0.71)"><use href="#g32"/><use href="#g53" x="20.22"/><use href="#g43" x="40.44"/><use href="#g32" x="61.67"/><use href="#g37" x="81.89"/><use href="#g31" x="102.11"/><use href="#g32" x="122.33"/></g>
<g transform="translate(1944.07,1953.52) scale(0.71)"><use href="#g51"/><use href="#g33" x="22.24"/></g>
<g transform="translate(1943.13,2033.5) scale(0.71)"><use href="#g52"/><use href="#g32" x="21.23"/><use href="#g31" x="41.45"/></g>
<g transform="translate(1943,2054.49) scale(0.71)"><use href="#g31"/><use href="#g30" x="20.22"/><use href="#g33" x="40.44"/></g>
<g transform="translate(2032.96,1926.53) scale(0.71)"><use href="#g52"/><use href="#g32" x="21.23"/><use href="#g39" x="41.45"/></g>
<g transform="translate(2033,1955.52) scale(0.71)"><use href="#g31"/><use href="#g30" x="20.22"/><use href="#g33" x="40.44"/></g>
<g transform="translate(1939,2163.84) rotate(-90) scale(0.71)"><use href="#g52"/><use href="#g31" x="21.23"/><use href="#g34" x="41.45"/></g>
<g transform="translate(1966,2162.96) rotate(-90) scale(0.71)"><use href="#g33"/><use href="#g33" x="20.22"/><use href="#g32" x="40.44"/></g>
<g transform="translate(1697.67,2197.46) scale(0.71)"><use href="#g5f"/><use href="#g37" x="16.18"/><use href="#g7a" x="36.4"/><use href="#g65" x="53.59"/><use href="#g67" x="71.79"/><use href="#g48" x="91"/><use href="#g31" x="113.24"/></g>
<g transform="translate(1972.78,2260.44) scale(0.71)"><use href="#g31"/></g>
<g transform="translate(1900.5,2226.67) rotate(-90) scale(0.71)"><use href="#g33"/></g>
<g transform="translate(1900.5,2316.65) rotate(-90) scale(0.71)"><use href="#g32"/></g>
<g transform="translate(1907.79,2216.45) scale(0.71)"><use href="#g32"/><use href="#g53" x="20.22"/><use href="#g43" x="40.44"/><use href="#g32" x="61.67"/><use href="#g37" x="81.89"/><use href="#g31" x="102.11"/><use href="#g32" x="122.33"/></g>
<g transform="translate(1944.07,2238.45) scale(0.71)"><use href="#g51"/><use href="#g34" x="22.24"/></g>
<g transform="translate(1942.96,2318.43) scale(0.71)"><use href="#g52"/><use href="#g32" x="21.23"/><use href="#g32" x="41.45"/></g>
<g transform="translate(1943,2339.42) scale(0.71)"><use href="#g31"/><use href="#g30" x="20.22"/><use href="#g33" x="40.44"/></g>
<g transform="translate(2032.96,2211.46) scale(0.71)"><use href="#g52"/><use href="#g33" x="21.23"/><use href="#g30" x="41.45"/></g>
<g transform="translate(2033,2240.45) scale(0.71)"><use href="#g31"/><use href="#g30" x="20.22"/><use href="#g33" x="40.44"/></g>
<g transform="translate(1939,2448.6) rotate(-90) scale(0.71)"><use href="#g52"/><use href="#g31" x="21.23"/><use href="#g35" x="41.45"/></g>
<g transform="translate(1966,2447.89) rotate(-90) scale(0.71)"><use href="#g33"/><use href="#g33" x="20.22"/><use href="#g32" x="40.44"/></g>
<g transform="translate(1697.67,2482.39) scale(0.71)"><use href="#g5f"/><use href="#g37" x="16.18"/><use href="#g7a" x="36.4"/><use href="#g65" x="53.59"/><use href="#g67" x="71.79"/><use href="#g48" x="91"/><use href="#g30" x="113.24"/></g>
<g transform="translate(1972.78,2545.37) scale(0.71)"><use href="#g31"/></g>
<g transform="translate(1900.5,2511.6) rotate(-90) scale(0.71)"><use href="#g33"/></g>
<g transform="translate(1900.5,2601.58) rotate(-90) scale(0.71)"><use href="#g32"/></g>
<g transform="translate(1907.79,2501.38) scale(0.71)"><use href="#g32"/><use href="#g53" x="20.22"/><use href="#g43" x="40.44"/><use href="#g32" x="61.67"/><use href="#g37" x="81.89"/><use href="#g31" x="102.11"/><use href="#g32" x="122.33"/></g>
<g transform="translate(1944.07,2523.38) scale(0.71)"><use href="#g51"/><use href="#g35" x="22.24"/></g>
<g transform="translate(1942.79,2603.36) scale(0.71)"><use href="#g52"/><use href="#g32" x="21.23"/><use href="#g33" x="41.45"/></g>
<g transform="translate(1943,2624.35) scale(0.71)"><use href="#g31"/><use href="#g30" x="20.22"/><use href="#g33" x="40.44"/></g>
<g transform="translate(2033.13,2496.39) scale(0.71)"><use href="#g52"/><use href="#g33" x="21.23"/><use href="#g31" x="41.45"/></g>
<g transform="translate(2033,2525.38) scale(0.71)"><use href="#g31"/><use href="#g30" x="20.22"/><use href="#g33" x="40.44"/></g>
<g transform="translate(1939,2733.53) rotate(-90) scale(0.71)"><use href="#g52"/><use href="#g31" x="21.23"/><use href="#g36" x="41.45"/></g>
<g transform="translate(1966,2732.82) rotate(-90) scale(0.71)"><use href="#g33"/><use href="#g33" x="20.22"/><use href="#g32" x="40.44"/></g>
<g transform="translate(1696.23,2767.32) scale(0.71)"><use href="#g5f"/><use href="#g37" x="16.18"/><use href="#g7a" x="36.4"/><use href="#g65" x="53.59"/><use href="#g67" x="71.79"/><use href="#g4d" x="91"/><use href="#g31" x="115.26"/></g>
<g transform="translate(1972.78,2830.3) scale(0.71)"><use href="#g31"/></g>
<g transform="translate(1900.5,2796.53) rotate(-90) scale(0.71)"><use href="#g33"/></g>
<g transform="translate(1900.5,2886.51) rotate(-90) scale(0.71)"><use href="#g32"/></g>
<g transform="translate(1907.79,2786.31) scale(0.71)"><use href="#g32"/><use href="#g53" x="20.22"/><use href="#g43" x="40.44"/><use href="#g32" x="61.67"/><use href="#g37" x="81.89"/><use href="#g31" x="102.11"/><use href="#g32" x="122.33"/></g>
<g transform="translate(1944.07,2808.31) scale(0.71)"><use href="#g51"/><use href="#g36" x="22.24"/></g>
<g transform="translate(1942.62,2888.29) scale(0.71)"><use href="#g52"/><use href="#g32" x="21.23"/><use href="#g34" x="41.45"/></g>
<g transform="translate(1943,2909.28) scale(0.71)"><use href="#g31"/><use href="#g30" x="20.22"/><use href="#g33" x="40.44"/></g>
<g transform="translate(2032.96,2781.32) scale(0.71)"><use href="#g52"/><use href="#g33" x="21.23"/><use href="#g32" x="41.45"/></g>
<g transform="translate(2033,2810.31) scale(0.71)"><use href="#g31"/><use href="#g30" x="20.22"/><use href="#g33" x="40.44"/></g>
<g transform="translate(1939,3018.63) rotate(-90) scale(0.71)"><use href="#g52"/><use href="#g31" x="21.23"/><use href="#g37" x="41.45"/></g>
<g transform="translate(1966,3017.75) rotate(-90) scale(0.71)"><use href="#g33"/><use href="#g33" x="20.22"/><use href="#g32" x="40.44"/></g>
<g transform="translate(1696.23,3052.25) scale(0.71)"><use href="#g5f"/><use href="#g37" x="16.18"/><use href="#g7a" x="36.4"/><use href="#g65" x="53.59"/><use href="#g67" x="71.79"/><use href="#g4d" x="91"/><use href="#g30" x="115.26"/></g>
<g transform="translate(1972.78,3115.23) scale(0.71)"><use href="#g31"/></g>
<g transform="translate(1900.5,3081.46) rotate(-90) scale(0.71)"><use href="#g33"/></g>
<g transform="translate(1900.5,3171.44) rotate(-90) scale(0.71)"><use href="#g32"/></g>
<g transform="translate(1907.79,3071.24) scale(0.71)"><use href="#g32"/><use href="#g53" x="20.22"/><use href="#g43" x="40.44"/><use href="#g32" x="61.67"/><use href="#g37" x="81.89"/><use href="#g31" x="102.11"/><use href="#g32" x="122.33"/></g>
<g transform="translate(1944.07,3093.24) scale(0.71)"><use href="#g51"/><use href="#g37" x="22.24"/></g>
<g transform="translate(1942.79,3173.22) scale(0.71)"><use href="#g52"/><use href="#g32" x="21.23"/><use href="#g35" x="41.45"/></g>
<g transform="translate(1943,3194.21) scale(0.71)"><use href="#g31"/><use href="#g30" x="20.22"/><use href="#g33" x="40.44"/></g>
<g transform="translate(2032.79,3066.25) scale(0.71)"><use href="#g52"/><use href="#g33" x="21.23"/><use href="#g33" x="41.45"/></g>
<g transform="translate(2033,3095.24) scale(0.71)"><use href="#g31"/><use href="#g30" x="20.22"/><use href="#g33" x="40.44"/></g>
<g transform="translate(1926.76,3257.7) scale(0.71)"><use href="#g47"/><use href="#g4e" x="21.23"/><use href="#g44" x="43.47"/></g>
<g transform="translate(2407.89,1615.6) scale(0.71)"><use href="#g31"/><use href="#g32" x="20.22"/></g>
<g transform="translate(2460,1625.6) scale(0.71)"><use href="#g4e"/><use href="#g43" x="22.24"/></g>
<g transform="translate(2407.72,1645.6) scale(0.71)"><use href="#g31"/><use href="#g33" x="20.22"/></g>
<g transform="translate(2460,1655.59) scale(0.71)"><use href="#g4e"/><use href="#g43" x="22.24"/></g>
<g transform="translate(2408.06,1675.59) scale(0.71)"><use href="#g33"/><use href="#g33" x="20.22"/></g>
<g transform="translate(2460,1685.59) scale(0.71)"><use href="#g4e"/><use href="#g43" x="22.24"/></g>
<g transform="translate(2407.89,1705.58) scale(0.71)"><use href="#g33"/><use href="#g34" x="20.22"/></g>
<g transform="translate(2460,1715.58) scale(0.71)"><use href="#g4e"/><use href="#g43" x="22.24"/></g>
<g transform="translate(2407.89,1765.57) scale(0.71)"><use href="#g31"/><use href="#g39" x="20.22"/></g>
<g transform="translate(2460,1775.56) scale(0.71)"><use href="#g52"/><use href="#g41" x="21.23"/><use href="#g30" x="39.43"/><use href="#g2f" x="59.65"/><use href="#g41" x="81.89"/><use href="#g4e" x="100.09"/><use href="#g30" x="122.33"/><use href="#g2f" x="142.55"/><use href="#g43" x="164.79"/><use href="#g31" x="186.02"/><use href="#g32" x="206.24"/><use href="#g49" x="226.46"/><use href="#g4e" x="235.56"/><use href="#g30" x="257.8"/><use href="#g2d" x="278.02"/><use href="#g2f" x="304.31"/><use href="#g43" x="326.55"/><use href="#g32" x="347.78"/><use href="#g4f" x="368"/><use href="#g55" x="390.24"/><use href="#g54" x="412.48"/><use href="#g2f" x="428.66"/><use href="#g53" x="450.9"/><use href="#g52" x="471.12"/><use href="#g4e" x="492.35"/><use href="#g51" x="514.59"/><use href="#g2f" x="536.83"/><use href="#g53" x="559.07"/><use href="#g53" x="579.29"/><use href="#g2f" x="599.51"/><use href="#g56" x="621.75"/><use href="#g43" x="639.95"/><use href="#g41" x="661.18"/><use href="#g50" x="679.38"/><use href="#g2f" x="700.61"/><use href="#g53" x="722.85"/><use href="#g45" x="743.07"/><use href="#g47" x="762.28"/><use href="#g31" x="783.51"/><use href="#g32" x="803.73"/></g>
<g transform="translate(2408.06,1795.56) scale(0.71)"><use href="#g32"/><use href="#g30" x="20.22"/></g>
<g transform="translate(2460,1805.56) scale(0.71)"><use href="#g52"/><use href="#g41" x="21.23"/><use href="#g31" x="39.43"/><use href="#g2f" x="59.65"/><use href="#g41" x="81.89"/><use href="#g4e" x="100.09"/><use href="#g31" x="122.33"/><use href="#g2f" x="142.55"/><use href="#g43" x="164.79"/><use href="#g31" x="186.02"/><use href="#g32" x="206.24"/><use href="#g49" x="226.46"/><use href="#g4e" x="235.56"/><use href="#g31" x="257.8"/><use href="#g2d" x="278.02"/><use href="#g2f" x="304.31"/><use href="#g53" x="326.55"/><use href="#g45" x="346.77"/><use href="#g47" x="365.98"/><use href="#g37" x="387.21"/></g>
<g transform="translate(2408.22,1825.55) scale(0.71)"><use href="#g32"/><use href="#g31" x="20.22"/></g>
<g transform="translate(2460,1835.55) scale(0.71)"><use href="#g52"/><use href="#g41" x="21.23"/><use href="#g32" x="39.43"/><use href="#g2f" x="59.65"/><use href="#g41" x="81.89"/><use href="#g4e" x="100.09"/><use href="#g32" x="122.33"/><use href="#g2f" x="142.55"/><use href="#g43" x="164.79"/><use href="#g32" x="186.02"/><use href="#g49" x="206.24"/><use href="#g4e" x="215.34"/><use href="#g2b" x="237.58"/><use href="#g2f" x="263.87"/><use href="#g56" x="286.11"/><use href="#g72" x="304.31"/><use href="#g65" x="317.45"/><use href="#g66" x="335.65"/><use href="#g2d" x="347.78"/><use href="#g2f" x="374.07"/><use href="#g44" x="396.31"/><use href="#g41" x="417.54"/><use href="#g43" x="435.74"/><use href="#g4f" x="456.97"/><use href="#g55" x="479.21"/><use href="#g54" x="501.45"/><use href="#g2f" x="517.63"/><use href="#g43" x="539.87"/><use href="#g4f" x="561.1"/><use href="#g4d" x="583.34"/><use href="#g32" x="607.6"/></g>
<g transform="translate(2408.06,1855.54) scale(0.71)"><use href="#g32"/><use href="#g32" x="20.22"/></g>
<g transform="translate(2460,1865.54) scale(0.71)"><use href="#g52"/><use href="#g41" x="21.23"/><use href="#g33" x="39.43"/><use href="#g2f" x="59.65"/><use href="#g41" x="81.89"/><use href="#g4e" x="100.09"/><use href="#g33" x="122.33"/><use href="#g2f" x="142.55"/><use href="#g43" x="164.79"/><use href="#g31" x="186.02"/><use href="#g49" x="206.24"/><use href="#g4e" x="215.34"/><use href="#g2b" x="237.58"/><use href="#g2f" x="263.87"/><use href="#g56" x="286.11"/><use href="#g72" x="304.31"/><use href="#g65" x="317.45"/><use href="#g66" x="335.65"/><use href="#g2b" x="347.78"/><use href="#g2f" x="374.07"/><use href="#g53" x="396.31"/><use href="#g45" x="416.53"/><use href="#g47" x="435.74"/><use href="#g31" x="456.97"/><use href="#g35" x="477.19"/></g>
<g transform="translate(2407.89,1885.54) scale(0.71)"><use href="#g32"/><use href="#g33" x="20.22"/></g>
<g transform="translate(2460,1895.53) scale(0.71)"><use href="#g52"/><use href="#g41" x="21.23"/><use href="#g34" x="39.43"/><use href="#g2f" x="59.65"/><use href="#g43" x="81.89"/><use href="#g31" x="103.12"/><use href="#g4f" x="123.34"/><use href="#g55" x="145.58"/><use href="#g54" x="167.82"/><use href="#g2f" x="184"/><use href="#g43" x="206.24"/><use href="#g50" x="227.47"/><use href="#g53" x="248.7"/><use href="#g36" x="268.92"/><use href="#g2f" x="289.14"/><use href="#g54" x="311.38"/><use href="#g30" x="327.56"/><use href="#g43" x="347.78"/><use href="#g4b" x="369.01"/><use href="#g49" x="390.24"/><use href="#g2f" x="399.34"/><use href="#g53" x="421.58"/><use href="#g52" x="441.8"/><use href="#g51" x="463.03"/><use href="#g2f" x="485.27"/><use href="#g53" x="507.51"/><use href="#g45" x="527.73"/><use href="#g47" x="546.94"/><use href="#g34" x="568.17"/></g>
<g transform="translate(2407.72,1915.53) scale(0.71)"><use href="#g32"/><use href="#g34" x="20.22"/></g>
<g transform="translate(2460,1925.53) scale(0.71)"><use href="#g52"/><use href="#g41" x="21.23"/><use href="#g35" x="39.43"/><use href="#g2f" x="59.65"/><use href="#g41" x="81.89"/><use href="#g4e" x="100.09"/><use href="#g34" x="122.33"/><use href="#g2f" x="142.55"/><use href="#g43" x="164.79"/><use href="#g32" x="186.02"/><use href="#g4f" x="206.24"/><use href="#g55" x="228.48"/><use href="#g54" x="250.72"/><use href="#g2f" x="266.9"/><use href="#g43" x="289.14"/><use href="#g50" x="310.37"/><use href="#g53" x="331.6"/><use href="#g37" x="351.82"/><use href="#g2f" x="372.04"/><use href="#g53" x="394.28"/><use href="#g52" x="414.5"/><use href="#g4e" x="435.73"/><use href="#g51" x="457.97"/><use href="#g2f" x="480.21"/><use href="#g53" x="502.45"/><use href="#g53" x="522.67"/><use href="#g2f" x="542.89"/><use href="#g56" x="565.13"/><use href="#g43" x="583.33"/><use href="#g41" x="604.56"/><use href="#g50" x="622.76"/><use href="#g2f" x="643.99"/><use href="#g53" x="666.23"/><use href="#g45" x="686.45"/><use href="#g47" x="705.66"/><use href="#g35" x="726.89"/></g>
<g transform="translate(2408.39,1945.52) scale(0.71)"><use href="#g33"/><use href="#g31" x="20.22"/></g>
<g transform="translate(2460,1955.52) scale(0.71)"><use href="#g52"/><use href="#g41" x="21.23"/><use href="#g36" x="39.43"/><use href="#g2f" x="59.65"/><use href="#g4f" x="81.89"/><use href="#g53" x="104.13"/><use href="#g43" x="124.35"/><use href="#g32" x="145.58"/><use href="#g2f" x="165.8"/><use href="#g43" x="188.04"/><use href="#g4c" x="209.27"/><use href="#g4b" x="226.46"/><use href="#g4f" x="247.69"/><use href="#g55" x="269.93"/><use href="#g54" x="292.17"/><use href="#g2f" x="308.35"/><use href="#g56" x="330.59"/><use href="#g43" x="348.79"/><use href="#g41" x="370.02"/><use href="#g50" x="388.22"/><use href="#g2f" x="409.45"/><use href="#g53" x="431.69"/><use href="#g45" x="451.91"/><use href="#g47" x="471.12"/><use href="#g31" x="492.35"/></g>
<g transform="translate(2291.76,1957.52) scale(0.71)"><use href="#g4f"/><use href="#g53" x="22.24"/><use href="#g43" x="42.46"/><use href="#g32" x="63.69"/></g>
<g transform="translate(2408.22,1975.51) scale(0.71)"><use href="#g33"/><use href="#g30" x="20.22"/></g>
<g transform="translate(2460,1985.51) scale(0.71)"><use href="#g52"/><use href="#g41" x="21.23"/><use href="#g37" x="39.43"/><use href="#g2f" x="59.65"/><use href="#g4f" x="81.89"/><use href="#g53" x="104.13"/><use href="#g43" x="124.35"/><use href="#g31" x="145.58"/><use href="#g2f" x="165.8"/><use href="#g43" x="188.04"/><use href="#g4c" x="209.27"/><use href="#g4b" x="226.46"/><use href="#g49" x="247.69"/><use href="#g4e" x="256.79"/><use href="#g2f" x="279.03"/><use href="#g53" x="301.27"/><use href="#g45" x="321.49"/><use href="#g47" x="340.7"/><use href="#g32" x="361.93"/></g>
<g transform="translate(2291.76,1987.51) scale(0.71)"><use href="#g4f"/><use href="#g53" x="22.24"/><use href="#g43" x="42.46"/><use href="#g31" x="63.69"/></g>
<g transform="translate(2415.28,2035.5) scale(0.71)"><use href="#g38"/></g>
<g transform="translate(2460,2045.5) scale(0.71)"><use href="#g52"/><use href="#g42" x="21.23"/><use href="#g30" x="42.46"/><use href="#g2f" x="62.68"/><use href="#g41" x="84.92"/><use href="#g4e" x="103.12"/><use href="#g31" x="125.36"/><use href="#g32" x="145.58"/><use href="#g2f" x="165.8"/><use href="#g43" x="188.04"/><use href="#g50" x="209.27"/><use href="#g53" x="230.5"/><use href="#g30" x="250.72"/><use href="#g2f" x="270.94"/><use href="#g53" x="293.18"/><use href="#g52" x="313.4"/><use href="#g49" x="334.63"/><use href="#g2f" x="343.73"/><use href="#g49" x="365.97"/><use href="#g4e" x="375.07"/><use href="#g54" x="397.31"/><use href="#g2f" x="413.49"/><use href="#g53" x="435.73"/><use href="#g45" x="455.95"/><use href="#g47" x="475.16"/><use href="#g30" x="496.39"/></g>
<g transform="translate(2415.45,2065.49) scale(0.71)"><use href="#g39"/></g>
<g transform="translate(2460,2075.49) scale(0.71)"><use href="#g52"/><use href="#g42" x="21.23"/><use href="#g31" x="42.46"/><use href="#g2f" x="62.68"/><use href="#g41" x="84.92"/><use href="#g4e" x="103.12"/><use href="#g31" x="125.36"/><use href="#g30" x="145.58"/><use href="#g2f" x="165.8"/><use href="#g43" x="188.04"/><use href="#g31" x="209.27"/><use href="#g32" x="229.49"/><use href="#g49" x="249.71"/><use href="#g4e" x="258.81"/><use href="#g33" x="281.05"/><use href="#g2d" x="301.27"/><use href="#g2f" x="327.56"/><use href="#g43" x="349.8"/><use href="#g50" x="371.03"/><use href="#g53" x="392.26"/><use href="#g31" x="412.48"/><use href="#g2f" x="432.7"/><use href="#g56" x="454.94"/><use href="#g4c" x="473.14"/><use href="#g43" x="490.33"/><use href="#g44" x="511.56"/><use href="#g31" x="532.79"/></g>
<g transform="translate(2407.89,2095.48) scale(0.71)"><use href="#g31"/><use href="#g30" x="20.22"/></g>
<g transform="translate(2460,2105.48) scale(0.71)"><use href="#g52"/><use href="#g42" x="21.23"/><use href="#g32" x="42.46"/><use href="#g2f" x="62.68"/><use href="#g41" x="84.92"/><use href="#g4e" x="103.12"/><use href="#g38" x="125.36"/><use href="#g2f" x="145.58"/><use href="#g43" x="167.82"/><use href="#g50" x="189.05"/><use href="#g53" x="210.28"/><use href="#g32" x="230.5"/><use href="#g2f" x="250.72"/><use href="#g56" x="272.96"/><use href="#g4c" x="291.16"/><use href="#g43" x="308.35"/><use href="#g44" x="329.58"/><use href="#g32" x="350.81"/></g>
<g transform="translate(2408.06,2125.48) scale(0.71)"><use href="#g31"/><use href="#g31" x="20.22"/></g>
<g transform="translate(2460,2135.47) scale(0.71)"><use href="#g52"/><use href="#g42" x="21.23"/><use href="#g33" x="42.46"/><use href="#g2f" x="62.68"/><use href="#g41" x="84.92"/><use href="#g4e" x="103.12"/><use href="#g39" x="125.36"/><use href="#g2f" x="145.58"/><use href="#g43" x="167.82"/><use href="#g31" x="189.05"/><use href="#g32" x="209.27"/><use href="#g49" x="229.49"/><use href="#g4e" x="238.59"/><use href="#g32" x="260.83"/><use href="#g2d" x="281.05"/><use href="#g2f" x="307.34"/><use href="#g43" x="329.58"/><use href="#g50" x="350.81"/><use href="#g53" x="372.04"/><use href="#g33" x="392.26"/><use href="#g2f" x="412.48"/><use href="#g43" x="434.72"/><use href="#g43" x="455.95"/><use href="#g50" x="477.18"/><use href="#g32" x="498.41"/><use href="#g2f" x="518.63"/><use href="#g50" x="540.87"/><use href="#g32" x="562.1"/><use href="#g41" x="582.32"/><use href="#g2f" x="600.52"/><use href="#g56" x="622.76"/><use href="#g4c" x="640.96"/><use href="#g43" x="658.15"/><use href="#g44" x="679.38"/><use href="#g33" x="700.61"/></g>
<g transform="translate(2407.55,2155.47) scale(0.71)"><use href="#g31"/><use href="#g34" x="20.22"/></g>
<g transform="translate(2460,2165.47) scale(0.71)"><use href="#g52"/><use href="#g42" x="21.23"/><use href="#g34" x="42.46"/><use href="#g2f" x="62.68"/><use href="#g41" x="84.92"/><use href="#g4e" x="103.12"/><use href="#g31" x="125.36"/><use href="#g31" x="145.58"/><use href="#g2f" x="165.8"/><use href="#g43" x="188.04"/><use href="#g50" x="209.27"/><use href="#g53" x="230.5"/><use href="#g34" x="250.72"/><use href="#g2f" x="270.94"/><use href="#g43" x="293.18"/><use href="#g4f" x="314.41"/><use href="#g4d" x="336.65"/><use href="#g30" x="360.91"/></g>
<g transform="translate(2407.72,2185.46) scale(0.71)"><use href="#g31"/><use href="#g35" x="20.22"/></g>
<g transform="translate(2460,2195.46) scale(0.71)"><use href="#g52"/><use href="#g42" x="21.23"/><use href="#g35" x="42.46"/><use href="#g2f" x="62.68"/><use href="#g41" x="84.92"/><use href="#g4e" x="103.12"/><use href="#g31" x="125.36"/><use href="#g33" x="145.58"/><use href="#g2f" x="165.8"/><use href="#g43" x="188.04"/><use href="#g50" x="209.27"/><use href="#g53" x="230.5"/><use href="#g35" x="250.72"/><use href="#g2f" x="270.94"/><use href="#g43" x="293.18"/><use href="#g43" x="314.41"/><use href="#g50" x="335.64"/><use href="#g33" x="356.87"/><use href="#g2f" x="377.09"/><use href="#g50" x="399.33"/><use href="#g33" x="420.56"/><use href="#g41" x="440.78"/><use href="#g2f" x="458.98"/><use href="#g54" x="481.22"/><use href="#g31" x="497.4"/><use href="#g47" x="517.62"/><use href="#g2f" x="538.85"/><use href="#g43" x="561.09"/><use href="#g4f" x="582.32"/><use href="#g4d" x="604.56"/><use href="#g31" x="628.82"/></g>
<g transform="translate(2407.72,2215.45) scale(0.71)"><use href="#g31"/><use href="#g36" x="20.22"/></g>
<g transform="translate(2460,2225.45) scale(0.71)"><use href="#g52"/><use href="#g42" x="21.23"/><use href="#g36" x="42.46"/><use href="#g2f" x="62.68"/><use href="#g49" x="84.92"/><use href="#g43" x="94.02"/><use href="#g53" x="115.25"/><use href="#g50" x="135.47"/><use href="#g43" x="156.7"/><use href="#g4c" x="177.93"/><use href="#g4b" x="195.12"/><use href="#g2f" x="216.35"/><use href="#g49" x="238.59"/><use href="#g43" x="247.69"/><use href="#g44" x="268.92"/><use href="#g43" x="290.15"/><use href="#g4c" x="311.38"/><use href="#g4b" x="328.57"/><use href="#g2f" x="349.8"/><use href="#g53" x="372.04"/><use href="#g45" x="392.26"/><use href="#g47" x="411.47"/><use href="#g31" x="432.7"/><use href="#g34" x="452.92"/></g>
<g transform="translate(2257.82,2227.45) scale(0.71)"><use href="#g49"/><use href="#g43" x="9.1"/><use href="#g53" x="30.33"/><use href="#g50" x="50.55"/><use href="#g43" x="71.78"/><use href="#g4c" x="93.01"/><use href="#g4b" x="110.2"/></g>
<g transform="translate(2407.55,2245.45) scale(0.71)"><use href="#g31"/><use href="#g37" x="20.22"/></g>
<g transform="translate(2460,2255.45) scale(0.71)"><use href="#g52"/><use href="#g42" x="21.23"/><use href="#g37" x="42.46"/><use href="#g2f" x="62.68"/><use href="#g49" x="84.92"/><use href="#g43" x="94.02"/><use href="#g53" x="115.25"/><use href="#g50" x="135.47"/><use href="#g44" x="156.7"/><use href="#g41" x="177.93"/><use href="#g54" x="196.13"/><use href="#g2f" x="212.31"/><use href="#g49" x="234.55"/><use href="#g43" x="243.65"/><use href="#g44" x="264.88"/><use href="#g44" x="286.11"/><use href="#g41" x="307.34"/><use href="#g54" x="325.54"/><use href="#g2f" x="341.72"/><use href="#g53" x="363.96"/><use href="#g45" x="384.18"/><use href="#g47" x="403.39"/><use href="#g31" x="424.62"/><use href="#g33" x="444.84"/></g>
<g transform="translate(2260.71,2257.44) scale(0.71)"><use href="#g49"/><use href="#g43" x="9.1"/><use href="#g53" x="30.33"/><use href="#g50" x="50.55"/><use href="#g44" x="71.78"/><use href="#g41" x="93.01"/><use href="#g54" x="111.21"/></g>
<g transform="translate(3443.22,1615.6) scale(0.71)"><use href="#g33"/><use href="#g32" x="20.22"/></g>
<g transform="translate(3149.76,1625.6) scale(0.71)"><use href="#g50"/><use href="#g32" x="21.23"/><use href="#g42" x="41.45"/><use href="#g2f" x="62.68"/><use href="#g54" x="84.92"/><use href="#g31" x="101.1"/><use href="#g43" x="121.32"/><use href="#g4b" x="142.55"/><use href="#g49" x="163.78"/><use href="#g2f" x="172.88"/><use href="#g54" x="195.12"/><use href="#g31" x="211.3"/><use href="#g4f" x="231.52"/><use href="#g53" x="253.76"/><use href="#g4f" x="273.98"/><use href="#g2f" x="296.22"/><use href="#g52" x="318.46"/><use href="#g43" x="339.69"/><use href="#g30" x="360.92"/></g>
<g transform="translate(3443.06,1645.6) scale(0.71)"><use href="#g33"/><use href="#g35" x="20.22"/></g>
<g transform="translate(3164.2,1655.59) scale(0.71)"><use href="#g50"/><use href="#g32" x="21.23"/><use href="#g41" x="41.45"/><use href="#g2f" x="59.65"/><use href="#g43" x="81.89"/><use href="#g43" x="103.12"/><use href="#g50" x="124.35"/><use href="#g32" x="145.58"/><use href="#g2f" x="165.8"/><use href="#g54" x="188.04"/><use href="#g31" x="204.22"/><use href="#g4f" x="224.44"/><use href="#g53" x="246.68"/><use href="#g49" x="266.9"/><use href="#g2f" x="276"/><use href="#g52" x="298.24"/><use href="#g43" x="319.47"/><use href="#g31" x="340.7"/></g>
<g transform="translate(3443.06,1675.59) scale(0.71)"><use href="#g33"/><use href="#g36" x="20.22"/></g>
<g transform="translate(3169.26,1685.59) scale(0.71)"><use href="#g53"/><use href="#g45" x="20.22"/><use href="#g47" x="39.43"/><use href="#g33" x="60.66"/><use href="#g2f" x="80.88"/><use href="#g50" x="103.12"/><use href="#g31" x="124.35"/><use href="#g41" x="144.57"/><use href="#g2f" x="162.77"/><use href="#g43" x="185.01"/><use href="#g43" x="206.24"/><use href="#g50" x="227.47"/><use href="#g31" x="248.7"/><use href="#g2f" x="268.92"/><use href="#g52" x="291.16"/><use href="#g43" x="312.39"/><use href="#g32" x="333.62"/></g>
<g transform="translate(3442.89,1705.58) scale(0.71)"><use href="#g33"/><use href="#g37" x="20.22"/></g>
<g transform="translate(3172.86,1715.58) scale(0.71)"><use href="#g53"/><use href="#g45" x="20.22"/><use href="#g47" x="39.43"/><use href="#g36" x="60.66"/><use href="#g2f" x="80.88"/><use href="#g53" x="103.12"/><use href="#g43" x="123.34"/><use href="#g4c" x="144.57"/><use href="#g4b" x="161.76"/><use href="#g2f" x="182.99"/><use href="#g53" x="205.23"/><use href="#g43" x="225.45"/><use href="#g4c" x="246.68"/><use href="#g2f" x="263.87"/><use href="#g52" x="286.11"/><use href="#g43" x="307.34"/><use href="#g33" x="328.57"/></g>
<g transform="translate(3443.39,1735.57) scale(0.71)"><use href="#g34"/><use href="#g32" x="20.22"/></g>
<g transform="translate(3121.59,1745.57) scale(0.71)"><use href="#g53"/><use href="#g45" x="20.22"/><use href="#g47" x="39.43"/><use href="#g31" x="60.66"/><use href="#g31" x="80.88"/><use href="#g2f" x="101.1"/><use href="#g54" x="123.34"/><use href="#g31" x="139.52"/><use href="#g47" x="159.74"/><use href="#g2f" x="180.97"/><use href="#g53" x="203.21"/><use href="#g44" x="223.43"/><use href="#g41" x="244.66"/><use href="#g2f" x="262.86"/><use href="#g53" x="285.1"/><use href="#g44" x="305.32"/><use href="#g49" x="326.55"/><use href="#g2f" x="335.65"/><use href="#g52" x="357.89"/><use href="#g43" x="379.12"/><use href="#g34" x="400.35"/></g>
<g transform="translate(3443.22,1765.57) scale(0.71)"><use href="#g34"/><use href="#g33" x="20.22"/></g>
<g transform="translate(3227.75,1775.56) scale(0.71)"><use href="#g53"/><use href="#g45" x="20.22"/><use href="#g47" x="39.43"/><use href="#g31" x="60.66"/><use href="#g30" x="80.88"/><use href="#g2f" x="101.1"/><use href="#g53" x="123.34"/><use href="#g44" x="143.56"/><use href="#g4f" x="164.79"/><use href="#g2f" x="187.03"/><use href="#g52" x="209.27"/><use href="#g43" x="230.5"/><use href="#g35" x="251.73"/></g>
<g transform="translate(3443.06,1795.56) scale(0.71)"><use href="#g34"/><use href="#g34" x="20.22"/></g>
<g transform="translate(3215.47,1805.56) scale(0.71)"><use href="#g53"/><use href="#g45" x="20.22"/><use href="#g47" x="39.43"/><use href="#g39" x="60.66"/><use href="#g2f" x="80.88"/><use href="#g43" x="103.12"/><use href="#g4b" x="124.35"/><use href="#g2f" x="145.58"/><use href="#g54" x="167.82"/><use href="#g58" x="184"/><use href="#g2f" x="204.22"/><use href="#g52" x="226.46"/><use href="#g43" x="247.69"/><use href="#g36" x="268.92"/></g>
<g transform="translate(3450.28,1825.55) scale(0.71)"><use href="#g31"/></g>
<g transform="translate(3215.47,1835.55) scale(0.71)"><use href="#g53"/><use href="#g45" x="20.22"/><use href="#g47" x="39.43"/><use href="#g38" x="60.66"/><use href="#g2f" x="80.88"/><use href="#g44" x="103.12"/><use href="#g54" x="124.35"/><use href="#g2f" x="140.53"/><use href="#g52" x="162.77"/><use href="#g58" x="184"/><use href="#g2f" x="204.22"/><use href="#g52" x="226.46"/><use href="#g43" x="247.69"/><use href="#g37" x="268.92"/></g>
<g transform="translate(3543.3,1837.55) scale(0.71)"><use href="#g55"/><use href="#g41" x="22.24"/><use href="#g52" x="40.44"/><use href="#g54" x="61.67"/><use href="#g2d" x="77.85"/><use href="#g52" x="104.14"/><use href="#g58" x="125.37"/></g>
<g transform="translate(3443.06,1885.54) scale(0.71)"><use href="#g33"/><use href="#g38" x="20.22"/></g>
<g transform="translate(3223.42,1895.53) scale(0.71)"><use href="#g43"/><use href="#g4f" x="21.23"/><use href="#g4d" x="43.47"/><use href="#g33" x="67.73"/><use href="#g2f" x="87.95"/><use href="#g43" x="110.19"/><use href="#g50" x="131.42"/><use href="#g53" x="152.65"/><use href="#g38" x="172.87"/><use href="#g2f" x="193.09"/><use href="#g52" x="215.33"/><use href="#g44" x="236.56"/><use href="#g30" x="257.79"/></g>
<g transform="translate(3532,1897.53) scale(0.71)"><use href="#g5f"/><use href="#g37" x="16.18"/><use href="#g7a" x="36.4"/><use href="#g65" x="53.59"/><use href="#g67" x="71.79"/><use href="#g44" x="91"/><use href="#g50" x="112.23"/></g>
<g transform="translate(3443.22,1915.53) scale(0.71)"><use href="#g33"/><use href="#g39" x="20.22"/></g>
<g transform="translate(3226.31,1925.53) scale(0.71)"><use href="#g43"/><use href="#g43" x="21.23"/><use href="#g50" x="42.46"/><use href="#g34" x="63.69"/><use href="#g2f" x="83.91"/><use href="#g43" x="106.15"/><use href="#g50" x="127.38"/><use href="#g53" x="148.61"/><use href="#g39" x="168.83"/><use href="#g2f" x="189.05"/><use href="#g52" x="211.29"/><use href="#g44" x="232.52"/><use href="#g31" x="253.75"/></g>
<g transform="translate(3532,1927.53) scale(0.71)"><use href="#g5f"/><use href="#g37" x="16.18"/><use href="#g7a" x="36.4"/><use href="#g65" x="53.59"/><use href="#g67" x="71.79"/><use href="#g43" x="91"/></g>
<g transform="translate(3443.39,1945.52) scale(0.71)"><use href="#g34"/><use href="#g30" x="20.22"/></g>
<g transform="translate(3227.03,1955.52) scale(0.71)"><use href="#g50"/><use href="#g32" x="21.23"/><use href="#g42" x="41.45"/><use href="#g2f" x="62.68"/><use href="#g43" x="84.92"/><use href="#g50" x="106.15"/><use href="#g53" x="127.38"/><use href="#g31" x="147.6"/><use href="#g30" x="167.82"/><use href="#g2f" x="188.04"/><use href="#g52" x="210.28"/><use href="#g44" x="231.51"/><use href="#g32" x="252.74"/></g>
<g transform="translate(3532,1957.52) scale(0.71)"><use href="#g5f"/><use href="#g37" x="16.18"/><use href="#g7a" x="36.4"/><use href="#g65" x="53.59"/><use href="#g67" x="71.79"/><use href="#g44" x="91"/></g>
<g transform="translate(3443.56,1975.51) scale(0.71)"><use href="#g34"/><use href="#g31" x="20.22"/></g>
<g transform="translate(3138.93,1985.51) scale(0.71)"><use href="#g53"/><use href="#g45" x="20.22"/><use href="#g47" x="39.43"/><use href="#g31" x="60.66"/><use href="#g36" x="80.88"/><use href="#g2f" x="101.1"/><use href="#g50" x="123.34"/><use href="#g32" x="144.57"/><use href="#g43" x="164.79"/><use href="#g2f" x="186.02"/><use href="#g43" x="208.26"/><use href="#g50" x="229.49"/><use href="#g53" x="250.72"/><use href="#g31" x="270.94"/><use href="#g31" x="291.16"/><use href="#g2f" x="311.38"/><use href="#g52" x="333.62"/><use href="#g44" x="354.85"/><use href="#g33" x="376.08"/></g>
<g transform="translate(3532,1987.51) scale(0.71)"><use href="#g5f"/><use href="#g37" x="16.18"/><use href="#g7a" x="36.4"/><use href="#g65" x="53.59"/><use href="#g67" x="71.79"/><use href="#g45" x="91"/></g>
<g transform="translate(3450.28,2005.51) scale(0.71)"><use href="#g32"/></g>
<g transform="translate(3138.93,2015.5) scale(0.71)"><use href="#g53"/><use href="#g45" x="20.22"/><use href="#g47" x="39.43"/><use href="#g31" x="60.66"/><use href="#g37" x="80.88"/><use href="#g2f" x="101.1"/><use href="#g50" x="123.34"/><use href="#g32" x="144.57"/><use href="#g44" x="164.79"/><use href="#g2f" x="186.02"/><use href="#g43" x="208.26"/><use href="#g50" x="229.49"/><use href="#g53" x="250.72"/><use href="#g31" x="270.94"/><use href="#g32" x="291.16"/><use href="#g2f" x="311.38"/><use href="#g52" x="333.62"/><use href="#g44" x="354.85"/><use href="#g34" x="376.08"/></g>
<g transform="translate(3532,2017.5) scale(0.71)"><use href="#g5f"/><use href="#g37" x="16.18"/><use href="#g7a" x="36.4"/><use href="#g65" x="53.59"/><use href="#g67" x="71.79"/><use href="#g47" x="91"/></g>
<g transform="translate(3450.28,2035.5) scale(0.71)"><use href="#g33"/></g>
<g transform="translate(3138.93,2045.5) scale(0.71)"><use href="#g53"/><use href="#g45" x="20.22"/><use href="#g47" x="39.43"/><use href="#g31" x="60.66"/><use href="#g38" x="80.88"/><use href="#g2f" x="101.1"/><use href="#g50" x="123.34"/><use href="#g31" x="144.57"/><use href="#g42" x="164.79"/><use href="#g2f" x="186.02"/><use href="#g43" x="208.26"/><use href="#g50" x="229.49"/><use href="#g53" x="250.72"/><use href="#g31" x="270.94"/><use href="#g33" x="291.16"/><use href="#g2f" x="311.38"/><use href="#g52" x="333.62"/><use href="#g44" x="354.85"/><use href="#g35" x="376.08"/></g>
<g transform="translate(3532,2047.5) scale(0.71)"><use href="#g5f"/><use href="#g37" x="16.18"/><use href="#g7a" x="36.4"/><use href="#g65" x="53.59"/><use href="#g67" x="71.79"/><use href="#g46" x="91"/></g>
<g transform="translate(3450.28,2065.49) scale(0.71)"><use href="#g34"/></g>
<g transform="translate(3138.93,2075.49) scale(0.71)"><use href="#g53"/><use href="#g45" x="20.22"/><use href="#g47" x="39.43"/><use href="#g31" x="60.66"/><use href="#g39" x="80.88"/><use href="#g2f" x="101.1"/><use href="#g50" x="123.34"/><use href="#g31" x="144.57"/><use href="#g43" x="164.79"/><use href="#g2f" x="186.02"/><use href="#g43" x="208.26"/><use href="#g50" x="229.49"/><use href="#g53" x="250.72"/><use href="#g31" x="270.94"/><use href="#g34" x="291.16"/><use href="#g2f" x="311.38"/><use href="#g52" x="333.62"/><use href="#g44" x="354.85"/><use href="#g36" x="376.08"/></g>
<g transform="translate(3532,2077.49) scale(0.71)"><use href="#g5f"/><use href="#g37" x="16.18"/><use href="#g7a" x="36.4"/><use href="#g65" x="53.59"/><use href="#g67" x="71.79"/><use href="#g41" x="91"/></g>
<g transform="translate(3450.28,2095.48) scale(0.71)"><use href="#g35"/></g>
<g transform="translate(3138.93,2105.48) scale(0.71)"><use href="#g53"/><use href="#g45" x="20.22"/><use href="#g47" x="39.43"/><use href="#g32" x="60.66"/><use href="#g30" x="80.88"/><use href="#g2f" x="101.1"/><use href="#g50" x="123.34"/><use href="#g31" x="144.57"/><use href="#g44" x="164.79"/><use href="#g2f" x="186.02"/><use href="#g43" x="208.26"/><use href="#g50" x="229.49"/><use href="#g53" x="250.72"/><use href="#g31" x="270.94"/><use href="#g35" x="291.16"/><use href="#g2f" x="311.38"/><use href="#g52" x="333.62"/><use href="#g44" x="354.85"/><use href="#g37" x="376.08"/></g>
<g transform="translate(3532,2107.48) scale(0.71)"><use href="#g5f"/><use href="#g37" x="16.18"/><use href="#g7a" x="36.4"/><use href="#g65" x="53.59"/><use href="#g67" x="71.79"/><use href="#g42" x="91"/></g>
<g transform="translate(3442.89,2155.47) scale(0.71)"><use href="#g32"/><use href="#g35" x="20.22"/></g>
<g transform="translate(3097.04,2165.47) scale(0.71)"><use href="#g53"/><use href="#g45" x="20.22"/><use href="#g47" x="39.43"/><use href="#g32" x="60.66"/><use href="#g31" x="80.88"/><use href="#g2f" x="101.1"/><use href="#g50" x="123.34"/><use href="#g33" x="144.57"/><use href="#g41" x="164.79"/><use href="#g2f" x="182.99"/><use href="#g43" x="205.23"/><use href="#g43" x="226.46"/><use href="#g50" x="247.69"/><use href="#g33" x="268.92"/><use href="#g2f" x="289.14"/><use href="#g41" x="311.38"/><use href="#g4e" x="329.58"/><use href="#g35" x="351.82"/><use href="#g2f" x="372.04"/><use href="#g52" x="394.28"/><use href="#g45" x="415.51"/><use href="#g30" x="434.72"/></g>
<g transform="translate(3543.3,2167.47) scale(0.71)"><use href="#g62"/><use href="#g72" x="19.21"/><use href="#g69" x="32.35"/><use href="#g67" x="40.44"/><use href="#g68" x="59.65"/><use href="#g74" x="78.86"/><use href="#g6e" x="90.99"/><use href="#g65" x="110.2"/><use href="#g73" x="128.4"/><use href="#g73" x="145.59"/><use href="#g2b" x="162.78"/></g>
<g transform="translate(3442.89,2185.46) scale(0.71)"><use href="#g32"/><use href="#g36" x="20.22"/></g>
<g transform="translate(3170.7,2195.46) scale(0.71)"><use href="#g53"/><use href="#g45" x="20.22"/><use href="#g47" x="39.43"/><use href="#g32" x="60.66"/><use href="#g32" x="80.88"/><use href="#g2f" x="101.1"/><use href="#g50" x="123.34"/><use href="#g33" x="144.57"/><use href="#g42" x="164.79"/><use href="#g2f" x="186.02"/><use href="#g41" x="208.26"/><use href="#g4e" x="226.46"/><use href="#g36" x="248.7"/><use href="#g2f" x="268.92"/><use href="#g52" x="291.16"/><use href="#g45" x="312.39"/><use href="#g31" x="331.6"/></g>
<g transform="translate(3543.3,2197.46) scale(0.71)"><use href="#g62"/><use href="#g72" x="19.21"/><use href="#g69" x="32.35"/><use href="#g67" x="40.44"/><use href="#g68" x="59.65"/><use href="#g74" x="78.86"/><use href="#g6e" x="90.99"/><use href="#g65" x="110.2"/><use href="#g73" x="128.4"/><use href="#g73" x="145.59"/><use href="#g2d" x="162.78"/></g>
<g transform="translate(3442.72,2215.45) scale(0.71)"><use href="#g32"/><use href="#g37" x="20.22"/></g>
<g transform="translate(3155.54,2225.45) scale(0.71)"><use href="#g53"/><use href="#g45" x="20.22"/><use href="#g47" x="39.43"/><use href="#g32" x="60.66"/><use href="#g33" x="80.88"/><use href="#g2f" x="101.1"/><use href="#g43" x="123.34"/><use href="#g43" x="144.57"/><use href="#g50" x="165.8"/><use href="#g35" x="187.03"/><use href="#g2f" x="207.25"/><use href="#g41" x="229.49"/><use href="#g4e" x="247.69"/><use href="#g37" x="269.93"/><use href="#g2f" x="290.15"/><use href="#g52" x="312.39"/><use href="#g45" x="333.62"/><use href="#g32" x="352.83"/></g>
<g transform="translate(3442.72,2245.45) scale(0.71)"><use href="#g31"/><use href="#g38" x="20.22"/></g>
<g transform="translate(3246.52,2255.45) scale(0.71)"><use href="#g52"/><use href="#g45" x="21.23"/><use href="#g33" x="40.44"/><use href="#g2f" x="60.66"/><use href="#g4d" x="82.9"/><use href="#g43" x="107.16"/><use href="#g4c" x="128.39"/><use href="#g52" x="145.58"/><use href="#g2f" x="166.81"/><use href="#g56" x="189.05"/><use href="#g70" x="207.25"/><use href="#g70" x="226.46"/></g>
<g transform="translate(3543.3,2257.44) scale(0.71)"><use href="#g5f"/><use href="#g4d" x="16.18"/><use href="#g43" x="40.44"/><use href="#g4c" x="61.67"/><use href="#g52" x="78.86"/></g>
<g transform="translate(3666.56,1896.53) scale(0.71)"><use href="#g47"/><use href="#g4e" x="21.23"/><use href="#g44" x="43.47"/></g>
<g transform="translate(3532.96,1746.07) scale(0.71)"><use href="#g52"/><use href="#g34" x="21.23"/><use href="#g30" x="41.45"/></g>
<g transform="translate(3533,1776.06) scale(0.71)"><use href="#g31"/><use href="#g30" x="20.22"/><use href="#g33" x="40.44"/></g>
<g transform="translate(2898.21,1357.17) scale(0.71)"><use href="#g56"/><use href="#g43" x="18.2"/><use href="#g43" x="39.43"/></g>
<g transform="translate(2724.35,1557.12) scale(0.71)"><use href="#g47"/><use href="#g4e" x="21.23"/><use href="#g44" x="43.47"/></g>
<g transform="translate(2844.06,1409.35) scale(0.71)"><use href="#g43"/><use href="#g35" x="21.23"/></g>
<g transform="translate(2879.06,1409.35) scale(0.71)"><use href="#g31"/><use href="#g30" x="20.22"/><use href="#g34" x="40.44"/></g>
<g transform="translate(2844.06,1541.32) scale(0.71)"><use href="#g43"/><use href="#g36" x="21.23"/></g>
<g transform="translate(2879.06,1541.32) scale(0.71)"><use href="#g31"/><use href="#g30" x="20.22"/><use href="#g34" x="40.44"/></g>
<g transform="translate(2935,1558.84) rotate(-90) scale(0.71)"><use href="#g37"/></g>
<g transform="translate(2965.5,1565.73) rotate(-90) scale(0.71)"><use href="#g32"/><use href="#g38" x="20.22"/></g>
<g transform="translate(2946.5,1633.36) rotate(-90) scale(0.71)"><use href="#g56"/><use href="#g44" x="18.2"/><use href="#g44" x="39.43"/></g>
<g transform="translate(2976.5,1633.36) rotate(-90) scale(0.71)"><use href="#g56"/><use href="#g44" x="18.2"/><use href="#g44" x="39.43"/></g>
<g transform="translate(2996.44,1521.13) scale(0.71)"><use href="#g55"/><use href="#g31" x="22.24"/></g>
<g transform="translate(2996.46,1551.12) scale(0.71)"><use href="#g50"/><use href="#g49" x="21.23"/><use href="#g43" x="30.33"/><use href="#g31" x="51.56"/><use href="#g36" x="71.78"/><use href="#g46" x="92"/><use href="#g31" x="110.2"/><use href="#g39" x="130.42"/><use href="#g33" x="150.64"/><use href="#g39" x="170.86"/><use href="#g2d" x="191.08"/><use href="#g49" x="217.37"/><use href="#g50" x="226.47"/><use href="#g54" x="247.7"/></g>
<g transform="translate(2916.56,2466.39) scale(0.71)"><use href="#g47"/><use href="#g4e" x="21.23"/><use href="#g44" x="43.47"/></g>
<g transform="translate(2946.5,2308.08) rotate(-90) scale(0.71)"><use href="#g56"/><use href="#g53" x="18.2"/><use href="#g53" x="38.42"/></g>
<g transform="translate(2976.5,2308.08) rotate(-90) scale(0.71)"><use href="#g56"/><use href="#g53" x="18.2"/><use href="#g53" x="38.42"/></g>
<g transform="translate(2935,2353.31) rotate(-90) scale(0.71)"><use href="#g36"/></g>
<g transform="translate(2965.5,2360.36) rotate(-90) scale(0.71)"><use href="#g32"/><use href="#g39" x="20.22"/></g>
<g transform="translate(4134.21,1386.66) scale(0.71)"><use href="#g56"/><use href="#g43" x="18.2"/><use href="#g43" x="39.43"/></g>
<g transform="translate(3966.35,1506.23) scale(0.71)"><use href="#g47"/><use href="#g4e" x="21.23"/><use href="#g44" x="43.47"/></g>
<g transform="translate(4059.06,1497.23) scale(0.71)"><use href="#g43"/><use href="#g37" x="21.23"/></g>
<g transform="translate(4094.76,1497.23) scale(0.71)"><use href="#g31"/><use href="#g30" x="20.22"/><use href="#g34" x="40.44"/></g>
<g transform="translate(4150.5,1520.85) rotate(-90) scale(0.71)"><use href="#g38"/></g>
<g transform="translate(4150.5,1730.8) rotate(-90) scale(0.71)"><use href="#g35"/></g>
<g transform="translate(4182.54,1475.64) scale(0.71)"><use href="#g55"/><use href="#g32" x="22.24"/></g>
<g transform="translate(4182.67,1506.23) scale(0.71)"><use href="#g4c"/><use href="#g54" x="17.19"/><use href="#g31" x="33.37"/><use href="#g37" x="53.59"/><use href="#g38" x="73.81"/><use href="#g35" x="94.03"/></g>
<g transform="translate(4072.78,1555.62) scale(0.71)"><use href="#g33"/></g>
<g transform="translate(4104.16,1567.61) scale(0.71)"><use href="#g44"/><use href="#g45" x="21.23"/></g>
<g transform="translate(4072.78,1585.61) scale(0.71)"><use href="#g34"/></g>
<g transform="translate(4104.16,1597.61) scale(0.71)"><use href="#g44"/></g>
<g transform="translate(4072.78,1645.6) scale(0.71)"><use href="#g32"/></g>
<g transform="translate(4104.16,1657.59) scale(0.71)"><use href="#g52"/><use href="#g45" x="21.23"/></g>
<g transform="translate(4072.78,1675.59) scale(0.71)"><use href="#g31"/></g>
<g transform="translate(4104.16,1687.58) scale(0.71)"><use href="#g52"/></g>
<g transform="translate(4222.78,1645.6) scale(0.71)"><use href="#g37"/></g>
<g transform="translate(4190.8,1657.59) scale(0.71)"><use href="#g42"/></g>
<g transform="translate(4246.46,1644.6) scale(0.71)"><use href="#g44"/><use href="#g4d" x="21.23"/><use href="#g58" x="45.49"/><use href="#g2d" x="65.71"/></g>
<g transform="translate(4222.61,1675.59) scale(0.71)"><use href="#g36"/></g>
<g transform="translate(4191.55,1687.58) scale(0.71)"><use href="#g41"/></g>
<g transform="translate(4246.46,1674.59) scale(0.71)"><use href="#g44"/><use href="#g4d" x="21.23"/><use href="#g58" x="45.49"/><use href="#g2b" x="65.71"/></g>
<g transform="translate(4162.5,1580.06) rotate(-90) scale(0.71)"><use href="#g56"/><use href="#g43" x="18.2"/><use href="#g43" x="39.43"/></g>
<g transform="translate(4162.5,1700.52) rotate(-90) scale(0.71)"><use href="#g47"/><use href="#g4e" x="21.23"/><use href="#g44" x="43.47"/></g>
<g transform="translate(4131.56,1852.54) scale(0.71)"><use href="#g47"/><use href="#g4e" x="21.23"/><use href="#g44" x="43.47"/></g>
<g transform="translate(4017,1746.45) rotate(-90) scale(0.71)"><use href="#g52"/><use href="#g34" x="21.23"/><use href="#g37" x="41.45"/></g>
<g transform="translate(4066,1746.07) rotate(-90) scale(0.71)"><use href="#g31"/><use href="#g30" x="20.22"/><use href="#g33" x="40.44"/></g>
<g transform="translate(3846.35,1641.4) scale(0.71)"><use href="#g47"/><use href="#g4e" x="21.23"/><use href="#g44" x="43.47"/></g>
<g transform="translate(3952.79,1535.62) scale(0.71)"><use href="#g52"/><use href="#g34" x="21.23"/><use href="#g35" x="41.45"/></g>
<g transform="translate(3953,1565.61) scale(0.71)"><use href="#g31"/><use href="#g30" x="20.22"/><use href="#g33" x="40.44"/></g>
<g transform="translate(3894.01,1687.58) scale(0.71)"><use href="#g55"/><use href="#g41" x="22.24"/><use href="#g52" x="40.44"/><use href="#g54" x="61.67"/><use href="#g2d" x="77.85"/><use href="#g52" x="104.14"/><use href="#g58" x="125.37"/></g>
<g transform="translate(4470.28,1510.63) scale(0.71)"><use href="#g31"/></g>
<g transform="translate(4470.28,1540.62) scale(0.71)"><use href="#g32"/></g>
<g transform="translate(4470.28,1570.61) scale(0.71)"><use href="#g33"/></g>
<g transform="translate(4545.9,1535.62) scale(0.71)"><use href="#g4a"/><use href="#g34" x="16.18"/></g>
<g transform="translate(4545.76,1565.61) scale(0.71)"><use href="#g44"/><use href="#g4d" x="21.23"/><use href="#g58" x="45.49"/><use href="#g2d" x="65.71"/><use href="#g49" x="92"/><use href="#g4e" x="101.1"/></g>
<g transform="translate(4470.28,1615.6) scale(0.71)"><use href="#g31"/></g>
<g transform="translate(4470.28,1645.6) scale(0.71)"><use href="#g32"/></g>
<g transform="translate(4470.28,1675.59) scale(0.71)"><use href="#g33"/></g>
<g transform="translate(4545.9,1640.6) scale(0.71)"><use href="#g4a"/><use href="#g35" x="16.18"/></g>
<g transform="translate(4545.76,1670.59) scale(0.71)"><use href="#g44"/><use href="#g4d" x="21.23"/><use href="#g58" x="45.49"/><use href="#g2d" x="65.71"/><use href="#g54" x="92"/><use href="#g48" x="108.18"/><use href="#g52" x="130.42"/><use href="#g55" x="151.65"/></g>
<g transform="translate(4401.56,1776.56) scale(0.71)"><use href="#g47"/><use href="#g4e" x="21.23"/><use href="#g44" x="43.47"/></g>
<g transform="translate(3510.28,2485.39) scale(0.71)"><use href="#g31"/></g>
<g transform="translate(3510.28,2515.38) scale(0.71)"><use href="#g32"/></g>
<g transform="translate(3467.05,2420.1) scale(0.71)"><use href="#g4a"/><use href="#g32" x="16.18"/></g>
<g transform="translate(3413.07,2450.9) scale(0.71)"><use href="#g62"/><use href="#g72" x="19.21"/><use href="#g69" x="32.35"/><use href="#g67" x="40.44"/><use href="#g68" x="59.65"/><use href="#g74" x="78.86"/><use href="#g6e" x="90.99"/><use href="#g65" x="110.2"/><use href="#g73" x="128.4"/><use href="#g73" x="145.59"/><use href="#g2b" x="162.78"/></g>
<g transform="translate(3652,2527.38) scale(0.71)"><use href="#g62"/><use href="#g72" x="19.21"/><use href="#g69" x="32.35"/><use href="#g67" x="40.44"/><use href="#g68" x="59.65"/><use href="#g74" x="78.86"/><use href="#g6e" x="90.99"/><use href="#g65" x="110.2"/><use href="#g73" x="128.4"/><use href="#g73" x="145.59"/><use href="#g2b" x="162.78"/></g>
<g transform="translate(3629.85,2402.41) scale(0.71)"><use href="#g56"/><use href="#g43" x="18.2"/><use href="#g43" x="39.43"/></g>
<g transform="translate(3597,2435.44) rotate(-90) scale(0.71)"><use href="#g52"/><use href="#g34" x="21.23"/><use href="#g32" x="41.45"/></g>
<g transform="translate(3597,2483.39) rotate(-90) scale(0.71)"><use href="#g31"/><use href="#g30" x="20.22"/><use href="#g33" x="40.44"/></g>
<g transform="translate(3510.28,2680.34) scale(0.71)"><use href="#g31"/></g>
<g transform="translate(3510.28,2710.33) scale(0.71)"><use href="#g32"/></g>
<g transform="translate(3466.89,2615.06) scale(0.71)"><use href="#g4a"/><use href="#g33" x="16.18"/></g>
<g transform="translate(3412.91,2645.85) scale(0.71)"><use href="#g62"/><use href="#g72" x="19.21"/><use href="#g69" x="32.35"/><use href="#g67" x="40.44"/><use href="#g68" x="59.65"/><use href="#g74" x="78.86"/><use href="#g6e" x="90.99"/><use href="#g65" x="110.2"/><use href="#g73" x="128.4"/><use href="#g73" x="145.59"/><use href="#g2d" x="162.78"/></g>
<g transform="translate(3652,2722.33) scale(0.71)"><use href="#g62"/><use href="#g72" x="19.21"/><use href="#g69" x="32.35"/><use href="#g67" x="40.44"/><use href="#g68" x="59.65"/><use href="#g74" x="78.86"/><use href="#g6e" x="90.99"/><use href="#g65" x="110.2"/><use href="#g73" x="128.4"/><use href="#g73" x="145.59"/><use href="#g2d" x="162.78"/></g>
<g transform="translate(3629.85,2597.36) scale(0.71)"><use href="#g56"/><use href="#g43" x="18.2"/><use href="#g43" x="39.43"/></g>
<g transform="translate(3597,2630.56) rotate(-90) scale(0.71)"><use href="#g52"/><use href="#g34" x="21.23"/><use href="#g33" x="41.45"/></g>
<g transform="translate(3597,2678.34) rotate(-90) scale(0.71)"><use href="#g31"/><use href="#g30" x="20.22"/><use href="#g33" x="40.44"/></g>
<g transform="translate(3546.56,2810.81) scale(0.71)"><use href="#g47"/><use href="#g4e" x="21.23"/><use href="#g44" x="43.47"/></g>
</g></g></svg></body></html>
